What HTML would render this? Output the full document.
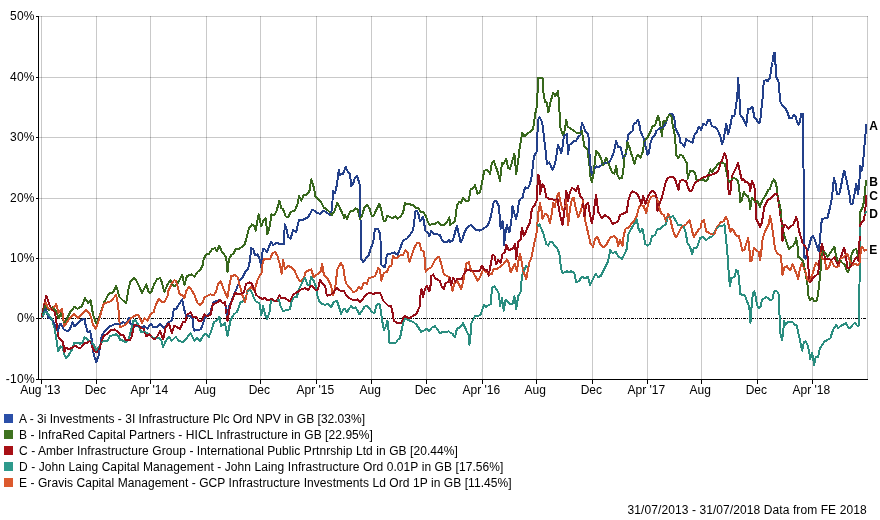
<!DOCTYPE html>
<html lang="en">
<head>
<meta charset="utf-8">
<title>Performance chart</title>
<style>
html,body{margin:0;padding:0;background:#fff;}
body{width:880px;height:520px;position:relative;overflow:hidden;font-family:"Liberation Sans",Arial,sans-serif;font-size:12px;color:#000;}
.a{stroke:#23408a}.b{stroke:#38681d}.c{stroke:#950d17}.d{stroke:#2a8d7f}.e{stroke:#ce502b}
.sq{position:absolute;left:4px;width:9px;height:9px;}
.lt{position:absolute;left:19px;height:14px;line-height:14px;white-space:nowrap;letter-spacing:0.06px;}
.ft{position:absolute;left:627.5px;top:503px;height:14px;line-height:14px;white-space:nowrap;letter-spacing:0.09px;}
</style>
</head>
<body>
<svg width="880" height="520" viewBox="0 0 880 520" style="position:absolute;left:0;top:0">
<g shape-rendering="crispEdges" fill="none">
<line x1="39" x2="868" y1="16.5" y2="16.5" stroke="#000" stroke-opacity="0.21"/>
<line x1="39" x2="868" y1="77.5" y2="77.5" stroke="#000" stroke-opacity="0.21"/>
<line x1="39" x2="868" y1="137.5" y2="137.5" stroke="#000" stroke-opacity="0.21"/>
<line x1="39" x2="868" y1="198.5" y2="198.5" stroke="#000" stroke-opacity="0.21"/>
<line x1="39" x2="868" y1="258.5" y2="258.5" stroke="#000" stroke-opacity="0.21"/>
<line x1="41.5" x2="41.5" y1="16" y2="379" stroke="#000" stroke-opacity="0.21"/>
<line x1="96.5" x2="96.5" y1="16" y2="379" stroke="#000" stroke-opacity="0.21"/>
<line x1="150.5" x2="150.5" y1="16" y2="379" stroke="#000" stroke-opacity="0.21"/>
<line x1="206.5" x2="206.5" y1="16" y2="379" stroke="#000" stroke-opacity="0.21"/>
<line x1="260.5" x2="260.5" y1="16" y2="379" stroke="#000" stroke-opacity="0.21"/>
<line x1="316.5" x2="316.5" y1="16" y2="379" stroke="#000" stroke-opacity="0.21"/>
<line x1="371.5" x2="371.5" y1="16" y2="379" stroke="#000" stroke-opacity="0.21"/>
<line x1="426.5" x2="426.5" y1="16" y2="379" stroke="#000" stroke-opacity="0.21"/>
<line x1="482.5" x2="482.5" y1="16" y2="379" stroke="#000" stroke-opacity="0.21"/>
<line x1="536.5" x2="536.5" y1="16" y2="379" stroke="#000" stroke-opacity="0.21"/>
<line x1="592.5" x2="592.5" y1="16" y2="379" stroke="#000" stroke-opacity="0.21"/>
<line x1="647.5" x2="647.5" y1="16" y2="379" stroke="#000" stroke-opacity="0.21"/>
<line x1="701.5" x2="701.5" y1="16" y2="379" stroke="#000" stroke-opacity="0.21"/>
<line x1="757.5" x2="757.5" y1="16" y2="379" stroke="#000" stroke-opacity="0.21"/>
<line x1="812.5" x2="812.5" y1="16" y2="379" stroke="#000" stroke-opacity="0.21"/>
<line x1="867.5" x2="867.5" y1="16" y2="379" stroke="#000" stroke-opacity="0.21"/>
<line x1="39" x2="867" y1="318.5" y2="318.5" stroke="#000" stroke-dasharray="3 1 1 1 1 1"/>
<line x1="38.5" x2="38.5" y1="16" y2="380" stroke="#000"/>
<line x1="38" x2="868" y1="379.5" y2="379.5" stroke="#000"/>
<line x1="36" x2="39" y1="16.5" y2="16.5" stroke="#000"/>
<line x1="36" x2="39" y1="77.5" y2="77.5" stroke="#000"/>
<line x1="36" x2="39" y1="137.5" y2="137.5" stroke="#000"/>
<line x1="36" x2="39" y1="198.5" y2="198.5" stroke="#000"/>
<line x1="36" x2="39" y1="258.5" y2="258.5" stroke="#000"/>
<line x1="36" x2="39" y1="318.5" y2="318.5" stroke="#000"/>
<line x1="36" x2="39" y1="379.5" y2="379.5" stroke="#000"/>
<line x1="41.5" x2="41.5" y1="379" y2="384" stroke="#000"/>
<line x1="96.5" x2="96.5" y1="379" y2="384" stroke="#000"/>
<line x1="150.5" x2="150.5" y1="379" y2="384" stroke="#000"/>
<line x1="206.5" x2="206.5" y1="379" y2="384" stroke="#000"/>
<line x1="260.5" x2="260.5" y1="379" y2="384" stroke="#000"/>
<line x1="316.5" x2="316.5" y1="379" y2="384" stroke="#000"/>
<line x1="371.5" x2="371.5" y1="379" y2="384" stroke="#000"/>
<line x1="426.5" x2="426.5" y1="379" y2="384" stroke="#000"/>
<line x1="482.5" x2="482.5" y1="379" y2="384" stroke="#000"/>
<line x1="536.5" x2="536.5" y1="379" y2="384" stroke="#000"/>
<line x1="592.5" x2="592.5" y1="379" y2="384" stroke="#000"/>
<line x1="647.5" x2="647.5" y1="379" y2="384" stroke="#000"/>
<line x1="701.5" x2="701.5" y1="379" y2="384" stroke="#000"/>
<line x1="757.5" x2="757.5" y1="379" y2="384" stroke="#000"/>
<line x1="812.5" x2="812.5" y1="379" y2="384" stroke="#000"/>
</g>
<g fill="none" stroke-width="2" stroke-linejoin="round" stroke-linecap="round" shape-rendering="crispEdges">
<path class="a" d="M41.5 318.1L42 317"/>
<path class="b" d="M41.5 318.1L42 316.5"/>
<path class="d" d="M41.5 318.1L42 317.3"/>
<path class="e" d="M41.5 318.1L42 315.7"/>
<path class="c" d="M41.5 318.1L42 315.8"/>
<path class="a" d="M42 317L43 314.7"/>
<path class="b" d="M42 316.5L43 313.3"/>
<path class="d" d="M42 317.3L43 315.6"/>
<path class="e" d="M42 315.7L43 310.9"/>
<path class="c" d="M42 315.8L43 311"/>
<path class="a" d="M43 314.7L44 312.4"/>
<path class="b" d="M43 313.3L44 310.2"/>
<path class="d" d="M43 315.6L44 314"/>
<path class="e" d="M43 310.9L44 306.1"/>
<path class="c" d="M43 311L44 306.3"/>
<path class="a" d="M44 312.4L45 310.2"/>
<path class="b" d="M44 310.2L45 307"/>
<path class="d" d="M44 314L45 312.3"/>
<path class="e" d="M44 306.1L45 301.2"/>
<path class="c" d="M44 306.3L45 301.5"/>
<path class="a" d="M45 310.2L45.6 308.8L46 310"/>
<path class="b" d="M45 307L45.6 305L46 305.6"/>
<path class="d" d="M45 312.3L45.6 311.2L46 311.7"/>
<path class="e" d="M45 301.2L46 303.5"/>
<path class="c" d="M45 301.5L46 296.8"/>
<path class="a" d="M46 310L47 313.2"/>
<path class="b" d="M46 305.6L47 307.2"/>
<path class="d" d="M46 311.7L47 312.9"/>
<path class="e" d="M46 303.5L47 305.7"/>
<path class="c" d="M46 296.8L46.2 295.6L47 297.7"/>
<path class="a" d="M47 313.2L48 316.5"/>
<path class="b" d="M47 307.2L48 308.8"/>
<path class="d" d="M47 312.9L48 314.1"/>
<path class="e" d="M47 305.7L48 307.9"/>
<path class="c" d="M47 297.7L48 300.6"/>
<path class="a" d="M48 316.5L48.5 318.1L49 318.2"/>
<path class="b" d="M48 308.8L48.8 310L49 309.8"/>
<path class="d" d="M48 314.1L48.8 315L49 315.3"/>
<path class="e" d="M48 307.9L48.1 308.1L49 308.5"/>
<path class="c" d="M48 300.6L49 303.4"/>
<path class="a" d="M49 318.2L50 318.5"/>
<path class="b" d="M49 309.8L50 309.2"/>
<path class="d" d="M49 315.3L50 316.5"/>
<path class="e" d="M49 308.5L50 308.9"/>
<path class="c" d="M49 303.4L50 306.2"/>
<path class="a" d="M50 318.5L51 318.7"/>
<path class="b" d="M50 309.2L51 308.5"/>
<path class="d" d="M50 316.5L51 317.7"/>
<path class="e" d="M50 308.9L51 309.4"/>
<path class="c" d="M50 306.2L51 307.5"/>
<path class="a" d="M51 318.7L51.2 318.8L52 319.9"/>
<path class="b" d="M51 308.5L52 307.8"/>
<path class="d" d="M51 317.7L51.9 318.8L52 319.2"/>
<path class="e" d="M51 309.4L52 309.8"/>
<path class="c" d="M51 307.5L52 308.8"/>
<path class="a" d="M52 319.9L53 321.5"/>
<path class="b" d="M52 307.8L52.5 307.5L53 308"/>
<path class="d" d="M52 319.2L53 322.7"/>
<path class="e" d="M52 309.8L52.5 310L53 309.2"/>
<path class="c" d="M52 308.8L53 310"/>
<path class="a" d="M53 321.5L54 323.1"/>
<path class="b" d="M53 308L54 309"/>
<path class="d" d="M53 322.7L54 326.2"/>
<path class="e" d="M53 309.2L54 307.5"/>
<path class="c" d="M53 310L54 311.2"/>
<path class="a" d="M54 323.1L54.4 323.8L55 325.2"/>
<path class="b" d="M54 309L55 310"/>
<path class="d" d="M54 326.2L54.4 327.5L55 330.8"/>
<path class="e" d="M54 307.5L55 305.8"/>
<path class="c" d="M54 311.2L55 312.5"/>
<path class="a" d="M55 325.2L56 327.7"/>
<path class="b" d="M55 310L56 311"/>
<path class="d" d="M55 330.8L56 336.2"/>
<path class="e" d="M55 305.8L56 304.2"/>
<path class="c" d="M55 312.5L56 318.5"/>
<path class="a" d="M56 327.7L57 330.1"/>
<path class="b" d="M56 311L56.2 311.2L57 313.3"/>
<path class="d" d="M56 336.2L56.2 337.5L57 343"/>
<path class="e" d="M56 304.2L56.2 303.8L57 306.9"/>
<path class="c" d="M56 318.5L56.2 320L57 326.8"/>
<path class="a" d="M57 330.1L57.8 331.9L58 330.8"/>
<path class="b" d="M57 313.3L58 316.1"/>
<path class="d" d="M57 343L58 350.4"/>
<path class="e" d="M57 306.9L58 311"/>
<path class="c" d="M57 326.8L57.5 331.2L58 334"/>
<path class="a" d="M58 330.8L59 326.6"/>
<path class="b" d="M58 316.1L58.8 318.1L59 317.6"/>
<path class="d" d="M58 350.4L58.1 351.2L59 349.5"/>
<path class="e" d="M58 311L58.5 313.1L59 312.5"/>
<path class="c" d="M58 334L58.8 338.1L59 338.4"/>
<path class="a" d="M59 326.6L59.4 325L60 324.4"/>
<path class="b" d="M59 317.6L60 315.3"/>
<path class="d" d="M59 349.5L60 347.5"/>
<path class="e" d="M59 312.5L60 311.2"/>
<path class="c" d="M59 338.4L60 339.4"/>
<path class="a" d="M60 324.4L60.6 323.8L61 324.4"/>
<path class="b" d="M60 315.3L61 313.1"/>
<path class="d" d="M60 347.5L60.6 346.2L61 346.4"/>
<path class="e" d="M60 311.2L61 309.9"/>
<path class="c" d="M60 339.4L61 340.4"/>
<path class="a" d="M61 324.4L62 326.2"/>
<path class="b" d="M61 313.1L61.2 312.5L62 315.2"/>
<path class="d" d="M61 346.4L62 346.7"/>
<path class="e" d="M61 309.9L61.9 308.8L62 309.6"/>
<path class="c" d="M61 340.4L62 341.4"/>
<path class="a" d="M62 326.2L63 328"/>
<path class="b" d="M62 315.2L63 318.8"/>
<path class="d" d="M62 346.7L62.5 346.9L63 349"/>
<path class="e" d="M62 309.6L63 316.6"/>
<path class="c" d="M62 341.4L63 342.4"/>
<path class="a" d="M63 328L63.8 329.4L64 329.5"/>
<path class="b" d="M63 318.8L64 322.4"/>
<path class="d" d="M63 349L64 353.4"/>
<path class="e" d="M63 316.6L64 323.6"/>
<path class="c" d="M63 342.4L63.1 342.5L64 349.1"/>
<path class="a" d="M64 329.5L65 330"/>
<path class="b" d="M64 322.4L64.4 323.8L65 322.5"/>
<path class="d" d="M64 353.4L64.4 355L65 356"/>
<path class="e" d="M64 323.6L64.4 326.2L65 325.3"/>
<path class="c" d="M64 349.1L64.4 351.9L65 350.4"/>
<path class="a" d="M65 330L66 330.5"/>
<path class="b" d="M65 322.5L66 320.5"/>
<path class="d" d="M65 356L66 357.7"/>
<path class="e" d="M65 325.3L66 323.7"/>
<path class="c" d="M65 350.4L66 348.1"/>
<path class="a" d="M66 330.5L67 331"/>
<path class="b" d="M66 320.5L67 318.5"/>
<path class="d" d="M66 357.7L66.2 358.1L67 357.2"/>
<path class="e" d="M66 323.7L67 322.1"/>
<path class="c" d="M66 348.1L66.2 347.5L67 348.1"/>
<path class="a" d="M67 331L67.5 331.2L68 330.8"/>
<path class="b" d="M67 318.5L68 316.5"/>
<path class="d" d="M67 357.2L68 355.9"/>
<path class="e" d="M67 322.1L68 320.6"/>
<path class="c" d="M67 348.1L68 348.8"/>
<path class="a" d="M68 330.8L69 329.8"/>
<path class="b" d="M68 316.5L69 314.5"/>
<path class="d" d="M68 355.9L68.8 355L69 354.6"/>
<path class="e" d="M68 320.6L68.8 319.4L69 319.1"/>
<path class="c" d="M68 348.8L68.8 349.4L69 349.3"/>
<path class="a" d="M69 329.8L70 328.8"/>
<path class="b" d="M69 314.5L70 312.5"/>
<path class="d" d="M69 354.6L70 353"/>
<path class="e" d="M69 319.1L70 318"/>
<path class="c" d="M69 349.3L70 348.8"/>
<path class="a" d="M70 328.8L71 326.2"/>
<path class="b" d="M70 312.5L71 311.2"/>
<path class="d" d="M70 353L71 351.4"/>
<path class="e" d="M70 318L71 316.8"/>
<path class="c" d="M70 348.8L71 348.3"/>
<path class="a" d="M71 326.2L72 323.8"/>
<path class="b" d="M71 311.2L72 309.9"/>
<path class="d" d="M71 351.4L71.9 350L72 349.6"/>
<path class="e" d="M71 316.8L72 315.7"/>
<path class="c" d="M71 348.3L72 347.8"/>
<path class="a" d="M72 323.8L72.5 322.5L73 323.5"/>
<path class="b" d="M72 309.9L73 308.7"/>
<path class="d" d="M72 349.6L73 346.6"/>
<path class="e" d="M72 315.7L73 314.6"/>
<path class="c" d="M72 347.8L72.5 347.5L73 347.2"/>
<path class="a" d="M73 323.5L74 325.5"/>
<path class="b" d="M73 308.7L74 307.4"/>
<path class="d" d="M73 346.6L74 343.6"/>
<path class="e" d="M73 314.6L73.8 313.8L74 314"/>
<path class="c" d="M73 347.2L74 346.6"/>
<path class="a" d="M74 325.5L74.4 326.2L75 325.6"/>
<path class="b" d="M74 307.4L74.4 306.9L75 307.3"/>
<path class="d" d="M74 343.6L74.4 342.5L75 342.5"/>
<path class="e" d="M74 314L75 315"/>
<path class="c" d="M74 346.6L75 346"/>
<path class="a" d="M75 325.6L76 324.6"/>
<path class="b" d="M75 307.3L76 307.9"/>
<path class="d" d="M75 342.5L76 342.5"/>
<path class="e" d="M75 315L76 316"/>
<path class="c" d="M75 346L75.6 345.6L76 345.9"/>
<path class="a" d="M76 324.6L76.9 323.8L77 323.6"/>
<path class="b" d="M76 307.9L77 308.5"/>
<path class="d" d="M76 342.5L77 342.5"/>
<path class="e" d="M76 316L77 317"/>
<path class="c" d="M76 345.9L77 346.7"/>
<path class="a" d="M77 323.6L78 322.8"/>
<path class="b" d="M77 308.5L77.5 308.8L78 308.5"/>
<path class="d" d="M77 342.5L77.5 342.5L78 342.8"/>
<path class="e" d="M77 317L78 318"/>
<path class="c" d="M77 346.7L78 347.4"/>
<path class="a" d="M78 322.8L79 321.9"/>
<path class="b" d="M78 308.5L79 307.9"/>
<path class="d" d="M78 342.8L79 343.2"/>
<path class="e" d="M78 318L78.1 318.1L79 317.2"/>
<path class="c" d="M78 347.4L78.1 347.5L79 347.5"/>
<path class="a" d="M79 321.9L80 321.1"/>
<path class="b" d="M79 307.9L80 307.3"/>
<path class="d" d="M79 343.2L80 343.8"/>
<path class="e" d="M79 317.2L80 316.2"/>
<path class="c" d="M79 347.5L80 347.5"/>
<path class="a" d="M80 321.1L81 320.2"/>
<path class="b" d="M80 307.3L81 306.8"/>
<path class="d" d="M80 343.8L81 343.2"/>
<path class="e" d="M80 316.2L81 315.2"/>
<path class="c" d="M80 347.5L81 347.5"/>
<path class="a" d="M81 320.2L81.2 320L82 319.7"/>
<path class="b" d="M81 306.8L81.9 306.2L82 305.9"/>
<path class="d" d="M81 343.2L82 342.8"/>
<path class="e" d="M81 315.2L82 314.2"/>
<path class="c" d="M81 347.5L81.2 347.5L82 346.4"/>
<path class="a" d="M82 319.7L83 319.3"/>
<path class="b" d="M82 305.9L83 303.3"/>
<path class="d" d="M82 342.8L82.5 342.5L83 341.2"/>
<path class="e" d="M82 314.2L83 313.2"/>
<path class="c" d="M82 346.4L83 344.9"/>
<path class="a" d="M83 319.3L84 318.9"/>
<path class="b" d="M83 303.3L84 300.7"/>
<path class="d" d="M83 341.2L84 338.5"/>
<path class="e" d="M83 313.2L84 312.2"/>
<path class="c" d="M83 344.9L83.8 343.8L84 343.7"/>
<path class="a" d="M84 318.9L84.4 318.8L85 321.9"/>
<path class="b" d="M84 300.7L85 298.1"/>
<path class="d" d="M84 338.5L84.4 337.5L85 337.8"/>
<path class="e" d="M84 312.2L85 311.2"/>
<path class="c" d="M84 343.7L85 343.3"/>
<path class="a" d="M85 321.9L85.6 325L86 326.4"/>
<path class="b" d="M85 298.1L86 299.7"/>
<path class="d" d="M85 337.8L86 338.3"/>
<path class="e" d="M85 311.2L86 310.2"/>
<path class="c" d="M85 343.3L86 343"/>
<path class="a" d="M86 326.4L87 330.1"/>
<path class="b" d="M86 299.7L87 301.3"/>
<path class="d" d="M86 338.3L86.9 338.8L87 338.9"/>
<path class="e" d="M86 310.2L86.2 310L87 310.8"/>
<path class="c" d="M86 343L87 342.7"/>
<path class="a" d="M87 330.1L87.5 331.9L88 331.8"/>
<path class="b" d="M87 301.3L88 302.9"/>
<path class="d" d="M87 338.9L88 340.2"/>
<path class="e" d="M87 310.8L88 311.8"/>
<path class="c" d="M87 342.7L87.5 342.5L88 342.2"/>
<path class="a" d="M88 331.8L89 331.5"/>
<path class="b" d="M88 302.9L88.1 303.1L89 302"/>
<path class="d" d="M88 340.2L88.8 341.2L89 341.2"/>
<path class="e" d="M88 311.8L89 312.8"/>
<path class="c" d="M88 342.2L89 341.6"/>
<path class="a" d="M89 331.5L90 331.2"/>
<path class="b" d="M89 302L90 300.8"/>
<path class="d" d="M89 341.2L90 341.2"/>
<path class="e" d="M89 312.8L90 313.8"/>
<path class="c" d="M89 341.6L90 341"/>
<path class="a" d="M90 331.2L91 335.2"/>
<path class="b" d="M90 300.8L90.6 300L91 302.3"/>
<path class="d" d="M90 341.2L91 341.2"/>
<path class="e" d="M90 313.8L91 317.4"/>
<path class="c" d="M90 341L90.6 340.6L91 342"/>
<path class="a" d="M91 335.2L91.2 336.2L92 341.9"/>
<path class="b" d="M91 302.3L92 308.3"/>
<path class="d" d="M91 341.2L91.2 341.2L92 342.4"/>
<path class="e" d="M91 317.4L92 321"/>
<path class="c" d="M91 342L92 345.7"/>
<path class="a" d="M92 341.9L93 349.4"/>
<path class="b" d="M92 308.3L93 314.3"/>
<path class="d" d="M92 342.4L93 343.9"/>
<path class="e" d="M92 321L93 324.6"/>
<path class="c" d="M92 345.7L92.5 347.5L93 348.5"/>
<path class="a" d="M93 349.4L93.8 355L94 355.8"/>
<path class="b" d="M93 314.3L93.1 315L94 317.3"/>
<path class="d" d="M93 343.9L93.8 345L94 345.5"/>
<path class="e" d="M93 324.6L93.1 325L94 326.3"/>
<path class="c" d="M93 348.5L94 350.5"/>
<path class="a" d="M94 355.8L95 358.8"/>
<path class="b" d="M94 317.3L95 320"/>
<path class="d" d="M94 345.5L95 347.5"/>
<path class="e" d="M94 326.3L95 327.8"/>
<path class="c" d="M94 350.5L94.4 351.2L95 351.6"/>
<path class="a" d="M95 358.8L96 361.8"/>
<path class="b" d="M95 320L96 322.7"/>
<path class="d" d="M95 347.5L96 349.5"/>
<path class="e" d="M95 327.8L95.6 328.8L96 327.8"/>
<path class="c" d="M95 351.6L96 352.1"/>
<path class="a" d="M96 361.8L96.2 362.5L97 360.2"/>
<path class="b" d="M96 322.7L96.9 325L97 324.6"/>
<path class="d" d="M96 349.5L96.2 350L97 349.2"/>
<path class="e" d="M96 327.8L97 325.3"/>
<path class="c" d="M96 352.1L96.9 352.5L97 352.3"/>
<path class="a" d="M97 360.2L98 357.2"/>
<path class="b" d="M97 324.6L98 321.3"/>
<path class="d" d="M97 349.2L98 348.2"/>
<path class="e" d="M97 325.3L98 322.8"/>
<path class="c" d="M97 352.3L98 350.8"/>
<path class="a" d="M98 357.2L98.8 355L99 353.4"/>
<path class="b" d="M98 321.3L99 317.9"/>
<path class="d" d="M98 348.2L98.8 347.5L99 347"/>
<path class="e" d="M98 322.8L98.1 322.5L99 319.6"/>
<path class="c" d="M98 350.8L99 349.3"/>
<path class="a" d="M99 353.4L100 347"/>
<path class="b" d="M99 317.9L100 314.6"/>
<path class="d" d="M99 347L100 345"/>
<path class="e" d="M99 319.6L100 316.2"/>
<path class="c" d="M99 349.3L99.4 348.8L100 346.9"/>
<path class="a" d="M100 347L101 340.6"/>
<path class="b" d="M100 314.6L100.6 312.5L101 311.4"/>
<path class="d" d="M100 345L101 343"/>
<path class="e" d="M100 316.2L101 312.9"/>
<path class="c" d="M100 346.9L101 343.9"/>
<path class="a" d="M101 340.6L101.9 335L102 334.9"/>
<path class="b" d="M101 311.4L102 308.4"/>
<path class="d" d="M101 343L101.2 342.5L102 342.1"/>
<path class="e" d="M101 312.9L102 309.6"/>
<path class="c" d="M101 343.9L101.9 341.2L102 340.9"/>
<path class="a" d="M102 334.9L103 333.7"/>
<path class="b" d="M102 308.4L103 305.4"/>
<path class="d" d="M102 342.1L103 341.6"/>
<path class="e" d="M102 309.6L103 306.2"/>
<path class="c" d="M102 340.9L103 337.9"/>
<path class="a" d="M103 333.7L104 332.5"/>
<path class="b" d="M103 305.4L103.8 303.1L104 302.7"/>
<path class="d" d="M103 341.6L103.8 341.2L104 341.2"/>
<path class="e" d="M103 306.2L103.8 303.8L104 303.7"/>
<path class="c" d="M103 337.9L103.8 335.6L104 335.5"/>
<path class="a" d="M104 332.5L105 331.2"/>
<path class="b" d="M104 302.7L105 300.8"/>
<path class="d" d="M104 341.2L105 341.2"/>
<path class="e" d="M104 303.7L105 303.3"/>
<path class="c" d="M104 335.5L105 335"/>
<path class="a" d="M105 331.2L106 330.2"/>
<path class="b" d="M105 300.8L106 298.9"/>
<path class="d" d="M105 341.2L106 341.2"/>
<path class="e" d="M105 303.3L106 302.9"/>
<path class="c" d="M105 335L106 334.5"/>
<path class="a" d="M106 330.2L107 329.2"/>
<path class="b" d="M106 298.9L107 297"/>
<path class="d" d="M106 341.2L107 341.2"/>
<path class="e" d="M106 302.9L107 302.6"/>
<path class="c" d="M106 334.5L107 334"/>
<path class="a" d="M107 329.2L108 328.2"/>
<path class="b" d="M107 297L108 295.2"/>
<path class="d" d="M107 341.2L107.5 341.2L108 340.2"/>
<path class="e" d="M107 302.6L108 302.2"/>
<path class="c" d="M107 334L107.5 333.8L108 333.2"/>
<path class="a" d="M108 328.2L109 327.2"/>
<path class="b" d="M108 295.2L108.8 293.8L109 293.7"/>
<path class="d" d="M108 340.2L109 338.2"/>
<path class="e" d="M108 302.2L109 301.8"/>
<path class="c" d="M108 333.2L109 332.2"/>
<path class="a" d="M109 327.2L110 326.2"/>
<path class="b" d="M109 293.7L110 293.4"/>
<path class="d" d="M109 338.2L110 336.2"/>
<path class="e" d="M109 301.8L110 301.5"/>
<path class="c" d="M109 332.2L110 331.2"/>
<path class="a" d="M110 326.2L111 325.9"/>
<path class="b" d="M110 293.4L111 293.1"/>
<path class="d" d="M110 336.2L111 335.8"/>
<path class="e" d="M110 301.5L110.6 301.2L111 300.8"/>
<path class="c" d="M110 331.2L111 330.2"/>
<path class="a" d="M111 325.9L112 325.4"/>
<path class="b" d="M111 293.1L112 292.8"/>
<path class="d" d="M111 335.8L112 335.4"/>
<path class="e" d="M111 300.8L112 299.7"/>
<path class="c" d="M111 330.2L111.2 330L112 329.9"/>
<path class="a" d="M112 325.4L113 325.1"/>
<path class="b" d="M112 292.8L113 292.5"/>
<path class="d" d="M112 335.4L113 335"/>
<path class="e" d="M112 299.7L113 298.6"/>
<path class="c" d="M112 329.9L113 329.7"/>
<path class="a" d="M113 325.1L114 324.6"/>
<path class="b" d="M113 292.5L113.1 292.5L114 290.6"/>
<path class="d" d="M113 335L113.1 335L114 334.8"/>
<path class="e" d="M113 298.6L114 297.5"/>
<path class="c" d="M113 329.7L114 329.5"/>
<path class="a" d="M114 324.6L115 324.2"/>
<path class="b" d="M114 290.6L115 288.4"/>
<path class="d" d="M114 334.8L115 334.6"/>
<path class="e" d="M114 297.5L115 296.4"/>
<path class="c" d="M114 329.5L114.4 329.4L115 329.8"/>
<path class="a" d="M115 324.2L116 323.9"/>
<path class="b" d="M115 288.4L116 286.2"/>
<path class="d" d="M115 334.6L116 334.4"/>
<path class="e" d="M115 296.4L116 295.3"/>
<path class="c" d="M115 329.8L116 330.4"/>
<path class="a" d="M116 323.9L116.2 323.8L117 323.9"/>
<path class="b" d="M116 286.2L116.2 285.6L117 288.3"/>
<path class="d" d="M116 334.4L116.2 334.4L117 334.9"/>
<path class="e" d="M116 295.3L116.2 295L117 299"/>
<path class="c" d="M116 330.4L117 331"/>
<path class="a" d="M117 323.9L118 324"/>
<path class="b" d="M117 288.3L118 291.9"/>
<path class="d" d="M117 334.9L118 335.7"/>
<path class="e" d="M117 299L118 304.4"/>
<path class="c" d="M117 331L117.5 331.2L118 331.9"/>
<path class="a" d="M118 324L119 324.2"/>
<path class="b" d="M118 291.9L119 295.5"/>
<path class="d" d="M118 335.7L118.8 336.2L119 337"/>
<path class="e" d="M118 304.4L118.1 305L119 315.5"/>
<path class="c" d="M118 331.9L119 333.1"/>
<path class="a" d="M119 324.2L120 324.4"/>
<path class="b" d="M119 295.5L119.4 296.9L120 297.5"/>
<path class="d" d="M119 337L120 340"/>
<path class="e" d="M119 315.5L120 327.5"/>
<path class="c" d="M119 333.1L120 334.4"/>
<path class="a" d="M120 324.4L121 323.6"/>
<path class="b" d="M120 297.5L121 298.5"/>
<path class="d" d="M120 340L121 340.2"/>
<path class="e" d="M120 327.5L121 327"/>
<path class="c" d="M120 334.4L121 334.6"/>
<path class="a" d="M121 323.6L122 322.8"/>
<path class="b" d="M121 298.5L122 299.5"/>
<path class="d" d="M121 340.2L122 340.4"/>
<path class="e" d="M121 327L122 326.5"/>
<path class="c" d="M121 334.6L122 334.8"/>
<path class="a" d="M122 322.8L123 322"/>
<path class="b" d="M122 299.5L122.5 300L123 300.4"/>
<path class="d" d="M122 340.4L123 340.6"/>
<path class="e" d="M122 326.5L123 326"/>
<path class="c" d="M122 334.8L123 335"/>
<path class="a" d="M123 322L123.1 321.9L124 322.4"/>
<path class="b" d="M123 300.4L124 301.2"/>
<path class="d" d="M123 340.6L123.1 340.6L124 341.1"/>
<path class="e" d="M123 326L124 325.5"/>
<path class="c" d="M123 335L123.1 335L124 336.6"/>
<path class="a" d="M124 322.4L125 323"/>
<path class="b" d="M124 301.2L125 302.1"/>
<path class="d" d="M124 341.1L125 341.7"/>
<path class="e" d="M124 325.5L125 325"/>
<path class="c" d="M124 336.6L125 338.4"/>
<path class="a" d="M125 323L126 323.6"/>
<path class="b" d="M125 302.1L126 302.9"/>
<path class="d" d="M125 341.7L126 342.3"/>
<path class="e" d="M125 325L126 323.9"/>
<path class="c" d="M125 338.4L126 340.2"/>
<path class="a" d="M126 323.6L126.2 323.8L127 322.1"/>
<path class="b" d="M126 302.9L126.2 303.1L127 298.4"/>
<path class="d" d="M126 342.3L126.2 342.5L127 341.4"/>
<path class="e" d="M126 323.9L127 322.8"/>
<path class="c" d="M126 340.2L126.2 340.6L127 340.5"/>
<path class="a" d="M127 322.1L128 319.8"/>
<path class="b" d="M127 298.4L128 292.2"/>
<path class="d" d="M127 341.4L128 339.9"/>
<path class="e" d="M127 322.8L128 321.7"/>
<path class="c" d="M127 340.5L128 340.3"/>
<path class="a" d="M128 319.8L128.8 318.1L129 318.9"/>
<path class="b" d="M128 292.2L128.8 287.5L129 286.7"/>
<path class="d" d="M128 339.9L128.8 338.8L129 337.9"/>
<path class="e" d="M128 321.7L129 320.6"/>
<path class="c" d="M128 340.3L129 340.2"/>
<path class="a" d="M129 318.9L130 321.9"/>
<path class="b" d="M129 286.7L130 283.3"/>
<path class="d" d="M129 337.9L130 334.4"/>
<path class="e" d="M129 320.6L130 319.5"/>
<path class="c" d="M129 340.2L130 340"/>
<path class="a" d="M130 321.9L130.6 323.8L131 323.9"/>
<path class="b" d="M130 283.3L130.6 281.2L131 280.9"/>
<path class="d" d="M130 334.4L131 330.9"/>
<path class="e" d="M130 319.5L131 318.4"/>
<path class="c" d="M130 340L131 338"/>
<path class="a" d="M131 323.9L132 324.3"/>
<path class="b" d="M131 280.9L132 279.9"/>
<path class="d" d="M131 330.9L131.2 330L132 326.5"/>
<path class="e" d="M131 318.4L131.2 318.1L132 317.6"/>
<path class="c" d="M131 338L131.9 336.2L132 335.5"/>
<path class="a" d="M132 324.3L133 324.6"/>
<path class="b" d="M132 279.9L133 278.9"/>
<path class="d" d="M132 326.5L133 321.8"/>
<path class="e" d="M132 317.6L133 317"/>
<path class="c" d="M132 335.5L133 329.5"/>
<path class="a" d="M133 324.6L134 325"/>
<path class="b" d="M133 278.9L133.8 278.1L134 278.2"/>
<path class="d" d="M133 321.8L133.1 321.2L134 320.7"/>
<path class="e" d="M133 317L134 316.3"/>
<path class="c" d="M133 329.5L133.1 328.8L134 326.6"/>
<path class="a" d="M134 325L135 325.4"/>
<path class="b" d="M134 278.2L135 278.8"/>
<path class="d" d="M134 320.7L135 320"/>
<path class="e" d="M134 316.3L135 315.6"/>
<path class="c" d="M134 326.6L134.4 325.6L135 325"/>
<path class="a" d="M135 325.4L136 325.8"/>
<path class="b" d="M135 278.8L136 280.4"/>
<path class="d" d="M135 320L136 321.4"/>
<path class="e" d="M135 315.6L136 315.4"/>
<path class="c" d="M135 325L136 325.2"/>
<path class="a" d="M136 325.8L137 326.1"/>
<path class="b" d="M136 280.4L137 282"/>
<path class="d" d="M136 321.4L137 322.8"/>
<path class="e" d="M136 315.4L137 315.2"/>
<path class="c" d="M136 325.2L137 325.4"/>
<path class="a" d="M137 326.1L138 326.5"/>
<path class="b" d="M137 282L138 283.6"/>
<path class="d" d="M137 322.8L138 324.2"/>
<path class="e" d="M137 315.2L138 315"/>
<path class="c" d="M137 325.4L138 325.6"/>
<path class="a" d="M138 326.5L139 326.9"/>
<path class="b" d="M138 283.6L138.1 283.8L139 285.9"/>
<path class="d" d="M138 324.2L138.1 324.4L139 326.7"/>
<path class="e" d="M138 315L138.1 315L139 316.5"/>
<path class="c" d="M138 325.6L138.1 325.6L139 326.3"/>
<path class="a" d="M139 326.9L140 327.3"/>
<path class="b" d="M139 285.9L140 288.4"/>
<path class="d" d="M139 326.7L140 329.3"/>
<path class="e" d="M139 316.5L140 318.1"/>
<path class="c" d="M139 326.3L140 327"/>
<path class="a" d="M140 327.3L140.6 327.5L141 327.4"/>
<path class="b" d="M140 288.4L141 290.9"/>
<path class="d" d="M140 329.3L141 331.9"/>
<path class="e" d="M140 318.1L141 320.8"/>
<path class="c" d="M140 327L140.6 327.5L141 327.7"/>
<path class="a" d="M141 327.4L142 327"/>
<path class="b" d="M141 290.9L141.9 293.1L142 292.9"/>
<path class="d" d="M141 331.9L141.2 332.5L142 332.2"/>
<path class="e" d="M141 320.8L141.9 323.1L142 322.9"/>
<path class="c" d="M141 327.7L142 328.1"/>
<path class="a" d="M142 327L143 326.7"/>
<path class="b" d="M142 292.9L143 290.9"/>
<path class="d" d="M142 332.2L143 331.8"/>
<path class="e" d="M142 322.9L143 320.9"/>
<path class="c" d="M142 328.1L143 328.5"/>
<path class="a" d="M143 326.7L144 326.4"/>
<path class="b" d="M143 290.9L144 288.9"/>
<path class="d" d="M143 331.8L144 331.4"/>
<path class="e" d="M143 320.9L144 318.9"/>
<path class="c" d="M143 328.5L143.8 328.8L144 329.5"/>
<path class="a" d="M144 326.4L144.4 326.2L145 326.7"/>
<path class="b" d="M144 288.9L145 286.9"/>
<path class="d" d="M144 331.4L144.4 331.2L145 331.7"/>
<path class="e" d="M144 318.9L144.4 318.1L145 318.6"/>
<path class="c" d="M144 329.5L145 332.5"/>
<path class="a" d="M145 326.7L146 327.5"/>
<path class="b" d="M145 286.9L146 284.9"/>
<path class="d" d="M145 331.7L146 332.5"/>
<path class="e" d="M145 318.6L146 319.4"/>
<path class="c" d="M145 332.5L146 335.5"/>
<path class="a" d="M146 327.5L147 328.3"/>
<path class="b" d="M146 284.9L146.2 284.4L147 286.8"/>
<path class="d" d="M146 332.5L147 333.3"/>
<path class="e" d="M146 319.4L147 320.2"/>
<path class="c" d="M146 335.5L146.2 336.2L147 335.8"/>
<path class="a" d="M147 328.3L147.5 328.8L148 327.9"/>
<path class="b" d="M147 286.8L148 290.1"/>
<path class="d" d="M147 333.3L147.5 333.8L148 334.1"/>
<path class="e" d="M147 320.2L147.5 320.6L148 319.6"/>
<path class="c" d="M147 335.8L148 335.2"/>
<path class="a" d="M148 327.9L149 326.3"/>
<path class="b" d="M148 290.1L148.8 292.5L149 292.5"/>
<path class="d" d="M148 334.1L149 334.8"/>
<path class="e" d="M148 319.6L149 317.6"/>
<path class="c" d="M148 335.2L149 334.6"/>
<path class="a" d="M149 326.3L150 324.7"/>
<path class="b" d="M149 292.5L150 292.5"/>
<path class="d" d="M149 334.8L150 335.4"/>
<path class="e" d="M149 317.6L150 315.6"/>
<path class="c" d="M149 334.6L149.4 334.4L150 335.1"/>
<path class="a" d="M150 324.7L150.6 323.8L151 324.2"/>
<path class="b" d="M150 292.5L151 292.5"/>
<path class="d" d="M150 335.4L151 336.1"/>
<path class="e" d="M150 315.6L150.6 314.4L151 314.1"/>
<path class="c" d="M150 335.1L151 336.3"/>
<path class="a" d="M151 324.2L152 325.4"/>
<path class="b" d="M151 292.5L151.2 292.5L152 290.2"/>
<path class="d" d="M151 336.1L151.2 336.2L152 336.8"/>
<path class="e" d="M151 314.1L152 313.3"/>
<path class="c" d="M151 336.3L152 337.5"/>
<path class="a" d="M152 325.4L153 326.6"/>
<path class="b" d="M152 290.2L153 287.2"/>
<path class="d" d="M152 336.8L153 337.4"/>
<path class="e" d="M152 313.3L153 312.5"/>
<path class="c" d="M152 337.5L152.5 338.1L153 338.4"/>
<path class="a" d="M153 326.6L153.8 327.5L154 327.5"/>
<path class="b" d="M153 287.2L153.8 285L154 284.6"/>
<path class="d" d="M153 337.4L154 338.1"/>
<path class="e" d="M153 312.5L153.8 311.9L154 311"/>
<path class="c" d="M153 338.4L154 338.9"/>
<path class="a" d="M154 327.5L155 327.3"/>
<path class="b" d="M154 284.6L155 282.8"/>
<path class="d" d="M154 338.1L155 338.8"/>
<path class="e" d="M154 311L155 307.7"/>
<path class="c" d="M154 338.9L155 339.4"/>
<path class="a" d="M155 327.3L156 327.1"/>
<path class="b" d="M155 282.8L156 281"/>
<path class="d" d="M155 338.8L156 338.4"/>
<path class="e" d="M155 307.7L155.6 305.6L156 304.8"/>
<path class="c" d="M155 339.4L156 338.1"/>
<path class="a" d="M156 327.1L156.9 326.9L157 326.8"/>
<path class="b" d="M156 281L156.9 279.4L157 279.3"/>
<path class="d" d="M156 338.4L157 338.1"/>
<path class="e" d="M156 304.8L157 302.6"/>
<path class="c" d="M156 338.1L157 336.9"/>
<path class="a" d="M157 326.8L158 325.8"/>
<path class="b" d="M157 279.3L158 278.9"/>
<path class="d" d="M157 338.1L158 337.8"/>
<path class="e" d="M157 302.6L158 300.4"/>
<path class="c" d="M157 336.9L157.5 336.2L158 335.1"/>
<path class="a" d="M158 325.8L159 324.8"/>
<path class="b" d="M158 278.9L159 278.5"/>
<path class="d" d="M158 337.8L158.8 337.5L159 337.8"/>
<path class="e" d="M158 300.4L158.8 298.8L159 299"/>
<path class="c" d="M158 335.1L159 332.9"/>
<path class="a" d="M159 324.8L160 323.8"/>
<path class="b" d="M159 278.5L160 278.1"/>
<path class="d" d="M159 337.8L160 338.8"/>
<path class="e" d="M159 299L160 300.2"/>
<path class="c" d="M159 332.9L160 330.6"/>
<path class="a" d="M160 323.8L161 324.7"/>
<path class="b" d="M160 278.1L161 280.4"/>
<path class="d" d="M160 338.8L161 339.8"/>
<path class="e" d="M160 300.2L161 301.4"/>
<path class="c" d="M160 330.6L161 333.4"/>
<path class="a" d="M161 324.7L162 325.7"/>
<path class="b" d="M161 280.4L161.9 282.5L162 283"/>
<path class="d" d="M161 339.8L161.2 340L162 342.8"/>
<path class="e" d="M161 301.4L161.9 302.5L162 302.5"/>
<path class="c" d="M161 333.4L162 336.2"/>
<path class="a" d="M162 325.7L163 326.7"/>
<path class="b" d="M162 283L163 286.7"/>
<path class="d" d="M162 342.8L163 346.4"/>
<path class="e" d="M162 302.5L163 302.1"/>
<path class="c" d="M162 336.2L163 339"/>
<path class="a" d="M163 326.7L164 327.7"/>
<path class="b" d="M163 286.7L164 290.5"/>
<path class="d" d="M163 346.4L163.1 346.9L164 344.9"/>
<path class="e" d="M163 302.1L164 301.7"/>
<path class="c" d="M163 339L163.1 339.4L164 335.2"/>
<path class="a" d="M164 327.7L164.4 328.1L165 327.2"/>
<path class="b" d="M164 290.5L164.4 291.9L165 290.4"/>
<path class="d" d="M164 344.9L165 342.6"/>
<path class="e" d="M164 301.7L165 301.2"/>
<path class="c" d="M164 335.2L165 330.4"/>
<path class="a" d="M165 327.2L166 325.7"/>
<path class="b" d="M165 290.4L166 288"/>
<path class="d" d="M165 342.6L165.6 341.2L166 340.7"/>
<path class="e" d="M165 301.2L166 299.2"/>
<path class="c" d="M165 330.4L165.6 327.5L166 327"/>
<path class="a" d="M166 325.7L167 324.2"/>
<path class="b" d="M166 288L167 285.6"/>
<path class="d" d="M166 340.7L167 339.3"/>
<path class="e" d="M166 299.2L167 297.2"/>
<path class="c" d="M166 327L167 325.6"/>
<path class="a" d="M167 324.2L168 322.7"/>
<path class="b" d="M167 285.6L167.5 284.4L168 283.7"/>
<path class="d" d="M167 339.3L168 337.9"/>
<path class="e" d="M167 297.2L167.5 296.2L168 292.2"/>
<path class="c" d="M167 325.6L168 324.2"/>
<path class="a" d="M168 322.7L168.1 322.5L169 322.1"/>
<path class="b" d="M168 283.7L169 282.3"/>
<path class="d" d="M168 337.9L168.8 336.9L169 337.2"/>
<path class="e" d="M168 292.2L168.1 291.2L169 289.5"/>
<path class="c" d="M168 324.2L168.8 323.1L169 323.9"/>
<path class="a" d="M169 322.1L170 321.6"/>
<path class="b" d="M169 282.3L170 280.9"/>
<path class="d" d="M169 337.2L170 338.4"/>
<path class="e" d="M169 289.5L170 287.5"/>
<path class="c" d="M169 323.9L170 327.1"/>
<path class="a" d="M170 321.6L171 321.1"/>
<path class="b" d="M170 280.9L170.6 280L171 281"/>
<path class="d" d="M170 338.4L171 339.6"/>
<path class="e" d="M170 287.5L170.6 286.2L171 285.5"/>
<path class="c" d="M170 327.1L171 330.3"/>
<path class="a" d="M171 321.1L171.9 320.6L172 319.9"/>
<path class="b" d="M171 281L172 283.7"/>
<path class="d" d="M171 339.6L171.9 340.6L172 340.5"/>
<path class="e" d="M171 285.5L172 283.5"/>
<path class="c" d="M171 330.3L171.9 333.1L172 332.8"/>
<path class="a" d="M172 319.9L173 313.9"/>
<path class="b" d="M172 283.7L172.5 285L173 285.2"/>
<path class="d" d="M172 340.5L173 339.5"/>
<path class="e" d="M172 283.5L172.5 282.5L173 281.8"/>
<path class="c" d="M172 332.8L173 329.8"/>
<path class="a" d="M173 313.9L173.8 309.4L174 309.3"/>
<path class="b" d="M173 285.2L174 285.8"/>
<path class="d" d="M173 339.5L174 338.5"/>
<path class="e" d="M173 281.8L174 280.5"/>
<path class="c" d="M173 329.8L174 326.8"/>
<path class="a" d="M174 309.3L175 309.1"/>
<path class="b" d="M174 285.8L175 286.2"/>
<path class="d" d="M174 338.5L175 337.5"/>
<path class="e" d="M174 280.5L174.4 280L175 280.4"/>
<path class="c" d="M174 326.8L174.4 325.6L175 326"/>
<path class="a" d="M175 309.1L176 308.8"/>
<path class="b" d="M175 286.2L176 285"/>
<path class="d" d="M175 337.5L175.6 336.9L176 337.3"/>
<path class="e" d="M175 280.4L176 281.1"/>
<path class="c" d="M175 326L176 326.6"/>
<path class="a" d="M176 308.8L176.2 308.8L177 307.6"/>
<path class="b" d="M176 285L177 283.8"/>
<path class="d" d="M176 337.3L177 338.5"/>
<path class="e" d="M176 281.1L176.2 281.2L177 284.3"/>
<path class="c" d="M176 326.6L177 327.2"/>
<path class="a" d="M177 307.6L178 306"/>
<path class="b" d="M177 283.8L178 282.6"/>
<path class="d" d="M177 338.5L178 339.7"/>
<path class="e" d="M177 284.3L178 288.3"/>
<path class="c" d="M177 327.2L177.5 327.5L178 327.8"/>
<path class="a" d="M178 306L179 304.4"/>
<path class="b" d="M178 282.6L178.1 282.5L179 280.9"/>
<path class="d" d="M178 339.7L178.8 340.6L179 340.7"/>
<path class="e" d="M178 288.3L178.1 288.8L179 292.2"/>
<path class="c" d="M178 327.8L179 328.2"/>
<path class="a" d="M179 304.4L179.4 303.8L180 302.8"/>
<path class="b" d="M179 280.9L180 279.1"/>
<path class="d" d="M179 340.7L180 341.2"/>
<path class="e" d="M179 292.2L179.4 293.8L180 294.1"/>
<path class="c" d="M179 328.2L180 328.8"/>
<path class="a" d="M180 302.8L181 301.3"/>
<path class="b" d="M180 279.1L181 277.3"/>
<path class="d" d="M180 341.2L181 341.6"/>
<path class="e" d="M180 294.1L181 294.7"/>
<path class="c" d="M180 328.8L181 326.5"/>
<path class="a" d="M181 301.3L182 299.8"/>
<path class="b" d="M181 277.3L182 275.5"/>
<path class="d" d="M181 341.6L182 342"/>
<path class="e" d="M181 294.7L182 295.3"/>
<path class="c" d="M181 326.5L182 324.3"/>
<path class="a" d="M182 299.8L182.2 299.4L183 303.1"/>
<path class="b" d="M182 275.5L182.2 275L183 278.5"/>
<path class="d" d="M182 342L183 342.4"/>
<path class="e" d="M182 295.3L182.5 295.6L183 296.3"/>
<path class="c" d="M182 324.3L183 322.1"/>
<path class="a" d="M183 303.1L184 308.1"/>
<path class="b" d="M183 278.5L184 283.2"/>
<path class="d" d="M183 342.4L183.1 342.5L184 341.4"/>
<path class="e" d="M183 296.3L184 297.6"/>
<path class="c" d="M183 322.1L183.1 321.9L184 322.2"/>
<path class="a" d="M184 308.1L184.4 310L185 312.3"/>
<path class="b" d="M184 283.2L184.4 285L185 282.8"/>
<path class="d" d="M184 341.4L185 340.2"/>
<path class="e" d="M184 297.6L184.4 298.1L185 295.8"/>
<path class="c" d="M184 322.2L185 322.5"/>
<path class="a" d="M185 312.3L186 316"/>
<path class="b" d="M185 282.8L186 279.3"/>
<path class="d" d="M185 340.2L186 339"/>
<path class="e" d="M185 295.8L186 292.2"/>
<path class="c" d="M185 322.5L186 319.3"/>
<path class="a" d="M186 316L186.2 316.9L187 316.6"/>
<path class="b" d="M186 279.3L186.9 276.2L187 276.2"/>
<path class="d" d="M186 339L186.2 338.8L187 337.8"/>
<path class="e" d="M186 292.2L186.2 291.2L187 289.9"/>
<path class="c" d="M186 319.3L187 316"/>
<path class="a" d="M187 316.6L188 316.3"/>
<path class="b" d="M187 276.2L188 275.7"/>
<path class="d" d="M187 337.8L188 336.5"/>
<path class="e" d="M187 289.9L188 288.2"/>
<path class="c" d="M187 316L187.5 314.4L188 314.1"/>
<path class="a" d="M188 316.3L189 316"/>
<path class="b" d="M188 275.7L189 275.2"/>
<path class="d" d="M188 336.5L189 335.2"/>
<path class="e" d="M188 288.2L188.8 286.9L189 287.1"/>
<path class="c" d="M188 314.1L189 313.5"/>
<path class="a" d="M189 316L190 315.6"/>
<path class="b" d="M189 275.2L189.4 275L190 274.8"/>
<path class="d" d="M189 335.2L190 333.9"/>
<path class="e" d="M189 287.1L190 288.1"/>
<path class="c" d="M189 313.5L190 312.9"/>
<path class="a" d="M190 315.6L191 316.6"/>
<path class="b" d="M190 274.8L191 274.6"/>
<path class="d" d="M190 333.9L190.6 333.1L191 333.9"/>
<path class="e" d="M190 288.1L191 289.1"/>
<path class="c" d="M190 312.9L190.6 312.5L191 313.2"/>
<path class="a" d="M191 316.6L192 317.6"/>
<path class="b" d="M191 274.6L191.9 274.4L192 274.5"/>
<path class="d" d="M191 333.9L192 335.9"/>
<path class="e" d="M191 289.1L191.2 289.4L192 290.7"/>
<path class="c" d="M191 313.2L192 314.9"/>
<path class="a" d="M192 317.6L192.5 318.1L193 323.1"/>
<path class="b" d="M192 274.5L193 275.5"/>
<path class="d" d="M192 335.9L193 337.9"/>
<path class="e" d="M192 290.7L193 292.5"/>
<path class="c" d="M192 314.9L193 316.7"/>
<path class="a" d="M193 323.1L193.8 330.6L194 330.6"/>
<path class="b" d="M193 275.5L194 276.5"/>
<path class="d" d="M193 337.9L194 339.9"/>
<path class="e" d="M193 292.5L194 294.3"/>
<path class="c" d="M193 316.7L193.1 316.9L194 316.9"/>
<path class="a" d="M194 330.6L195 330.4"/>
<path class="b" d="M194 276.5L194.4 276.9L195 275.9"/>
<path class="d" d="M194 339.9L194.4 340.6L195 340"/>
<path class="e" d="M194 294.3L194.4 295L195 296.6"/>
<path class="c" d="M194 316.9L195 316.9"/>
<path class="a" d="M195 330.4L196 330.2"/>
<path class="b" d="M195 275.9L196 274.3"/>
<path class="d" d="M195 340L196 339"/>
<path class="e" d="M195 296.6L196 299.2"/>
<path class="c" d="M195 316.9L196 316.9"/>
<path class="a" d="M196 330.2L196.9 330L197 330"/>
<path class="b" d="M196 274.3L197 272.7"/>
<path class="d" d="M196 339L196.9 338.1L197 338.2"/>
<path class="e" d="M196 299.2L197 301.8"/>
<path class="c" d="M196 316.9L196.2 316.9L197 318.2"/>
<path class="a" d="M197 330L198 329.8"/>
<path class="b" d="M197 272.7L197.5 271.9L198 271.6"/>
<path class="d" d="M197 338.2L198 339.2"/>
<path class="e" d="M197 301.8L197.5 303.1L198 303.5"/>
<path class="c" d="M197 318.2L198 319.9"/>
<path class="a" d="M198 329.8L199 329.6"/>
<path class="b" d="M198 271.6L199 271.1"/>
<path class="d" d="M198 339.2L199 340.2"/>
<path class="e" d="M198 303.5L199 304.2"/>
<path class="c" d="M198 319.9L198.8 321.2L199 321.2"/>
<path class="a" d="M199 329.6L200 329.5"/>
<path class="b" d="M199 271.1L200 270.6"/>
<path class="d" d="M199 340.2L200 341.2"/>
<path class="e" d="M199 304.2L200 305"/>
<path class="c" d="M199 321.2L200 321"/>
<path class="a" d="M200 329.5L200.6 329.4L201 328.5"/>
<path class="b" d="M200 270.6L201 268.6"/>
<path class="d" d="M200 341.2L201 339.6"/>
<path class="e" d="M200 305L201 304"/>
<path class="c" d="M200 321L201 320.8"/>
<path class="a" d="M201 328.5L202 326.2"/>
<path class="b" d="M201 268.6L202 266.6"/>
<path class="d" d="M201 339.6L202 338"/>
<path class="e" d="M201 304L202 303"/>
<path class="c" d="M201 320.8L201.9 320.6L202 320.3"/>
<path class="a" d="M202 326.2L202.5 325L203 323.5"/>
<path class="b" d="M202 266.6L202.5 265.6L203 262.9"/>
<path class="d" d="M202 338L203 336.4"/>
<path class="e" d="M202 303L202.5 302.5L203 301.2"/>
<path class="c" d="M202 320.3L203 317.8"/>
<path class="a" d="M203 323.5L204 320.5"/>
<path class="b" d="M203 262.9L203.8 258.8L204 258.3"/>
<path class="d" d="M203 336.4L203.1 336.2L204 335.4"/>
<path class="e" d="M203 301.2L204 298.5"/>
<path class="c" d="M203 317.8L204 315.3"/>
<path class="a" d="M204 320.5L204.4 319.4L205 318.4"/>
<path class="b" d="M204 258.3L205 256.6"/>
<path class="d" d="M204 335.4L205 334.4"/>
<path class="e" d="M204 298.5L204.4 297.5L205 297.1"/>
<path class="c" d="M204 315.3L204.4 314.4L205 314.8"/>
<path class="a" d="M205 318.4L206 316.9"/>
<path class="b" d="M205 256.6L206 254.8"/>
<path class="d" d="M205 334.4L205.6 333.8L206 334.1"/>
<path class="e" d="M205 297.1L206 296.5"/>
<path class="c" d="M205 314.8L206 315.4"/>
<path class="a" d="M206 316.9L206.9 315.6L207 315.5"/>
<path class="b" d="M206 254.8L206.2 254.4L207 254.4"/>
<path class="d" d="M206 334.1L207 335.1"/>
<path class="e" d="M206 296.5L207 295.9"/>
<path class="c" d="M206 315.4L207 316"/>
<path class="a" d="M207 315.5L208 314.9"/>
<path class="b" d="M207 254.4L208 254.4"/>
<path class="d" d="M207 335.1L208 336.1"/>
<path class="e" d="M207 295.9L207.5 295.6L208 295.4"/>
<path class="c" d="M207 316L207.5 316.2L208 316"/>
<path class="a" d="M208 314.9L209 314.3"/>
<path class="b" d="M208 254.4L208.8 254.4L209 254"/>
<path class="d" d="M208 336.1L208.8 336.9L209 336.3"/>
<path class="e" d="M208 295.4L209 295"/>
<path class="c" d="M208 316L209 315.4"/>
<path class="a" d="M209 314.3L210 313.8"/>
<path class="b" d="M209 254L210 252.4"/>
<path class="d" d="M209 336.3L210 334.1"/>
<path class="e" d="M209 295L210 294.6"/>
<path class="c" d="M209 315.4L210 314.8"/>
<path class="a" d="M210 313.8L211 310.1"/>
<path class="b" d="M210 252.4L211 250.8"/>
<path class="d" d="M210 334.1L211 331.8"/>
<path class="e" d="M210 294.6L210.6 294.4L211 294.5"/>
<path class="c" d="M210 314.8L210.6 314.4L211 312.8"/>
<path class="a" d="M211 310.1L212 306.5"/>
<path class="b" d="M211 250.8L211.9 249.4L212 249.3"/>
<path class="d" d="M211 331.8L211.2 331.2L212 328.6"/>
<path class="e" d="M211 294.5L212 294.7"/>
<path class="c" d="M211 312.8L212 308.5"/>
<path class="a" d="M212 306.5L213 302.9"/>
<path class="b" d="M212 249.3L213 248.9"/>
<path class="d" d="M212 328.6L213 325.1"/>
<path class="e" d="M212 294.7L213 294.9"/>
<path class="c" d="M212 308.5L213 304.3"/>
<path class="a" d="M213 302.9L213.1 302.5L214 302.1"/>
<path class="b" d="M213 248.9L214 248.5"/>
<path class="d" d="M213 325.1L213.8 322.5L214 322.3"/>
<path class="e" d="M213 294.9L213.8 295L214 294.6"/>
<path class="c" d="M213 304.3L213.1 303.8L214 303.6"/>
<path class="a" d="M214 302.1L215 301.7"/>
<path class="b" d="M214 248.5L215 248.1"/>
<path class="d" d="M214 322.3L215 321.5"/>
<path class="e" d="M214 294.6L215 293.1"/>
<path class="c" d="M214 303.6L215 303.4"/>
<path class="a" d="M215 301.7L216 301.3"/>
<path class="b" d="M215 248.1L216 249.8"/>
<path class="d" d="M215 321.5L216 320.7"/>
<path class="e" d="M215 293.1L216 291.6"/>
<path class="c" d="M215 303.4L216 303.2"/>
<path class="a" d="M216 301.3L216.2 301.2L217 301"/>
<path class="b" d="M216 249.8L216.9 251.2L217 251"/>
<path class="d" d="M216 320.7L216.9 320L217 319.9"/>
<path class="e" d="M216 291.6L216.2 291.2L217 288.2"/>
<path class="c" d="M216 303.2L216.2 303.1L217 302.5"/>
<path class="a" d="M217 301L218 300.7"/>
<path class="b" d="M217 251L218 248.7"/>
<path class="d" d="M217 319.9L218 318.6"/>
<path class="e" d="M217 288.2L218 284.2"/>
<path class="c" d="M217 302.5L218 301.7"/>
<path class="a" d="M218 300.7L219 300.3"/>
<path class="b" d="M218 248.7L219 246.5"/>
<path class="d" d="M218 318.6L219 317.4"/>
<path class="e" d="M218 284.2L218.1 283.8L219 282.9"/>
<path class="c" d="M218 301.7L219 300.8"/>
<path class="a" d="M219 300.3L220 300"/>
<path class="b" d="M219 246.5L219.4 245.6L220 247.3"/>
<path class="d" d="M219 317.4L219.4 316.9L220 320"/>
<path class="e" d="M219 282.9L220 281.9"/>
<path class="c" d="M219 300.8L220 300"/>
<path class="a" d="M220 300L221 301.2"/>
<path class="b" d="M220 247.3L221 250"/>
<path class="d" d="M220 320L221 325"/>
<path class="e" d="M220 281.9L220.6 281.2L221 282.3"/>
<path class="c" d="M220 300L221 301.2"/>
<path class="a" d="M221 301.2L222 302.5"/>
<path class="b" d="M221 250L221.2 250.6L222 251.7"/>
<path class="d" d="M221 325L221.2 326.2L222 325.6"/>
<path class="e" d="M221 282.3L222 284.9"/>
<path class="c" d="M221 301.2L222 302.5"/>
<path class="a" d="M222 302.5L222.5 303.1L223 302.9"/>
<path class="b" d="M222 251.7L223 253.1"/>
<path class="d" d="M222 325.6L223 324.8"/>
<path class="e" d="M222 284.9L222.5 286.2L223 287.5"/>
<path class="c" d="M222 302.5L222.5 303.1L223 302.9"/>
<path class="a" d="M223 302.9L224 302.4"/>
<path class="b" d="M223 253.1L224 254.5"/>
<path class="d" d="M223 324.8L224 324"/>
<path class="e" d="M223 287.5L224 290"/>
<path class="c" d="M223 302.9L224 302.4"/>
<path class="a" d="M224 302.4L225 301.9"/>
<path class="b" d="M224 254.5L224.4 255L225 255.8"/>
<path class="d" d="M224 324L225 323.1"/>
<path class="e" d="M224 290L225 292.5"/>
<path class="c" d="M224 302.4L225 301.9"/>
<path class="a" d="M225 301.9L226 307.7"/>
<path class="b" d="M225 255.8L226 257.2"/>
<path class="d" d="M225 323.1L226 328.1"/>
<path class="e" d="M225 292.5L226 294.5"/>
<path class="c" d="M225 301.9L226 309.6"/>
<path class="a" d="M226 307.7L227 313.5"/>
<path class="b" d="M226 257.2L226.2 257.5L227 266.1"/>
<path class="d" d="M226 328.1L227 333.1"/>
<path class="e" d="M226 294.5L227 296.5"/>
<path class="c" d="M226 309.6L227 317.4"/>
<path class="a" d="M227 313.5L227.2 315L228 311.5"/>
<path class="b" d="M227 266.1L227.5 271.9L228 267.5"/>
<path class="d" d="M227 333.1L227.5 335.6L228 333.1"/>
<path class="e" d="M227 296.5L227.5 297.5L228 294.2"/>
<path class="c" d="M227 317.4L227.5 321.2L228 318.2"/>
<path class="a" d="M228 311.5L229 306.8"/>
<path class="b" d="M228 267.5L229 258.8"/>
<path class="d" d="M228 333.1L229 328.1"/>
<path class="e" d="M228 294.2L229 287.5"/>
<path class="c" d="M228 318.2L229 312.2"/>
<path class="a" d="M229 306.8L229.4 305L230 303.8"/>
<path class="b" d="M229 258.8L230 257.1"/>
<path class="d" d="M229 328.1L230 323.1"/>
<path class="e" d="M229 287.5L229.4 285L230 282.1"/>
<path class="c" d="M229 312.2L230 306.2"/>
<path class="a" d="M230 303.8L231 301.8"/>
<path class="b" d="M230 257.1L231 255.4"/>
<path class="d" d="M230 323.1L230.6 320L231 319.3"/>
<path class="e" d="M230 282.1L231 277.4"/>
<path class="c" d="M230 306.2L231 303.6"/>
<path class="a" d="M231 301.8L231.9 300L232 299.7"/>
<path class="b" d="M231 255.4L231.2 255L232 254.4"/>
<path class="d" d="M231 319.3L232 317.5"/>
<path class="e" d="M231 277.4L231.2 276.2L232 276"/>
<path class="c" d="M231 303.6L231.9 301.2L232 300.9"/>
<path class="a" d="M232 299.7L233 297.3"/>
<path class="b" d="M232 254.4L233 253.7"/>
<path class="d" d="M232 317.5L233 315.7"/>
<path class="e" d="M232 276L233 275.7"/>
<path class="c" d="M232 300.9L233 298.3"/>
<path class="a" d="M233 297.3L234 294.9"/>
<path class="b" d="M233 253.7L233.8 253.1L234 252.6"/>
<path class="d" d="M233 315.7L233.8 314.4L234 314.2"/>
<path class="e" d="M233 275.7L234 275.3"/>
<path class="c" d="M233 298.3L234 295.7"/>
<path class="a" d="M234 294.9L235 292.5"/>
<path class="b" d="M234 252.6L235 250.6"/>
<path class="d" d="M234 314.2L235 313.4"/>
<path class="e" d="M234 275.3L235 275"/>
<path class="c" d="M234 295.7L235 293.1"/>
<path class="a" d="M235 292.5L236 290"/>
<path class="b" d="M235 250.6L235.6 249.4L236 249.3"/>
<path class="d" d="M235 313.4L236 312.6"/>
<path class="e" d="M235 275L236 275.8"/>
<path class="c" d="M235 293.1L236 293.4"/>
<path class="a" d="M236 290L237 287.5"/>
<path class="b" d="M236 249.3L237 249.1"/>
<path class="d" d="M236 312.6L236.9 311.9L237 311.6"/>
<path class="e" d="M236 275.8L237 276.6"/>
<path class="c" d="M236 293.4L237 293.6"/>
<path class="a" d="M237 287.5L238 285"/>
<path class="b" d="M237 249.1L238 248.9"/>
<path class="d" d="M237 311.6L238 309.1"/>
<path class="e" d="M237 276.6L238 277.4"/>
<path class="c" d="M237 293.6L237.5 293.8L238 293.8"/>
<path class="a" d="M238 285L239 282.5"/>
<path class="b" d="M238 248.9L238.8 248.8L239 248.6"/>
<path class="d" d="M238 309.1L239 306.6"/>
<path class="e" d="M238 277.4L238.1 277.5L239 282.2"/>
<path class="c" d="M238 293.8L239 293.8"/>
<path class="a" d="M239 282.5L240 280"/>
<path class="b" d="M239 248.6L240 248.1"/>
<path class="d" d="M239 306.6L239.4 305.6L240 302.5"/>
<path class="e" d="M239 282.2L239.8 286.2L240 286.2"/>
<path class="c" d="M239 293.8L240 293.8"/>
<path class="a" d="M240 280L241 279"/>
<path class="b" d="M240 248.1L241 247.4"/>
<path class="d" d="M240 302.5L241 302.1"/>
<path class="e" d="M240 286.2L241 290.2"/>
<path class="c" d="M240 293.8L241 293.4"/>
<path class="a" d="M241 279L242 278"/>
<path class="b" d="M241 247.4L242 246.7"/>
<path class="d" d="M241 302.1L242 301.7"/>
<path class="e" d="M241 290.2L241.9 293.8L242 294.1"/>
<path class="c" d="M241 293.4L242 293.1"/>
<path class="a" d="M242 278L242.5 277.5L243 276.5"/>
<path class="b" d="M242 246.7L243 246"/>
<path class="d" d="M242 301.7L243 301.3"/>
<path class="e" d="M242 294.1L243 296.7"/>
<path class="c" d="M242 293.1L243 292.8"/>
<path class="a" d="M243 276.5L244 274.5"/>
<path class="b" d="M243 246L244 245.3"/>
<path class="d" d="M243 301.3L243.1 301.2L244 299.9"/>
<path class="e" d="M243 296.7L244 299.3"/>
<path class="c" d="M243 292.8L243.8 292.5L244 291.6"/>
<path class="a" d="M244 274.5L245 272.5"/>
<path class="b" d="M244 245.3L244.4 245L245 243.1"/>
<path class="d" d="M244 299.9L245 298.4"/>
<path class="e" d="M244 299.3L245 301.9"/>
<path class="c" d="M244 291.6L245 288.1"/>
<path class="a" d="M245 272.5L245.6 271.2L246 271"/>
<path class="b" d="M245 243.1L246 240.1"/>
<path class="d" d="M245 298.4L245.6 297.5L246 296.4"/>
<path class="e" d="M245 301.9L246 297.1"/>
<path class="c" d="M245 288.1L246 284.6"/>
<path class="a" d="M246 271L247 270.2"/>
<path class="b" d="M246 240.1L246.2 239.4L247 236.2"/>
<path class="d" d="M246 296.4L247 293.4"/>
<path class="e" d="M246 297.1L247 292.4"/>
<path class="c" d="M246 284.6L246.2 283.8L247 283.5"/>
<path class="a" d="M247 270.2L248 269.5"/>
<path class="b" d="M247 236.2L248 231.9"/>
<path class="d" d="M247 293.4L247.5 291.9L248 291.4"/>
<path class="e" d="M247 292.4L247.5 290L248 289.6"/>
<path class="c" d="M247 283.5L248 283.1"/>
<path class="a" d="M248 269.5L248.1 269.4L249 265"/>
<path class="b" d="M248 231.9L248.8 228.8L249 228.4"/>
<path class="d" d="M248 291.4L249 290.4"/>
<path class="e" d="M248 289.6L249 288.8"/>
<path class="c" d="M248 283.1L249 282.7"/>
<path class="a" d="M249 265L250 260"/>
<path class="b" d="M249 228.4L250 227"/>
<path class="d" d="M249 290.4L250 289.4"/>
<path class="e" d="M249 288.8L250 287.9"/>
<path class="c" d="M249 282.7L249.4 282.5L250 282.8"/>
<path class="a" d="M250 260L251 250.5"/>
<path class="b" d="M250 227L251 225.6"/>
<path class="d" d="M250 289.4L251 291"/>
<path class="e" d="M250 287.9L251 287.1"/>
<path class="c" d="M250 282.8L251 283.3"/>
<path class="a" d="M251 250.5L251.2 248.1L252 248.4"/>
<path class="b" d="M251 225.6L251.9 224.4L252 224.5"/>
<path class="d" d="M251 291L251.9 292.5L252 292.8"/>
<path class="e" d="M251 287.1L251.2 286.9L252 287.8"/>
<path class="c" d="M251 283.3L251.9 283.8L252 284.1"/>
<path class="a" d="M252 248.4L253 248.7"/>
<path class="b" d="M252 224.5L253 225.2"/>
<path class="d" d="M252 292.8L253 295.5"/>
<path class="e" d="M252 287.8L253 289"/>
<path class="c" d="M252 284.1L253 286.6"/>
<path class="a" d="M253 248.7L253.1 248.8L254 251.7"/>
<path class="b" d="M253 225.2L254 226"/>
<path class="d" d="M253 295.5L253.8 297.5L254 298"/>
<path class="e" d="M253 289L254 290.2"/>
<path class="c" d="M253 286.6L254 289.1"/>
<path class="a" d="M254 251.7L255 255"/>
<path class="b" d="M254 226L254.4 226.2L255 228.4"/>
<path class="d" d="M254 298L255 300"/>
<path class="e" d="M254 290.2L254.4 290.6L255 288.5"/>
<path class="c" d="M254 289.1L254.4 290L255 291.7"/>
<path class="a" d="M255 255L256 254.8"/>
<path class="b" d="M255 228.4L255.6 230.6L256 228.5"/>
<path class="d" d="M255 300L255.6 301.2L256 301.4"/>
<path class="e" d="M255 288.5L256 285.1"/>
<path class="c" d="M255 291.7L256 294.3"/>
<path class="a" d="M256 254.8L257 254.5"/>
<path class="b" d="M256 228.5L257 222.8"/>
<path class="d" d="M256 301.4L257 301.9"/>
<path class="e" d="M256 285.1L257 281.7"/>
<path class="c" d="M256 294.3L256.2 295L257 295.6"/>
<path class="a" d="M257 254.5L257.5 254.4L258 255.5"/>
<path class="b" d="M257 222.8L257.5 220L258 217.8"/>
<path class="d" d="M257 301.9L258 302.4"/>
<path class="e" d="M257 281.7L257.5 280L258 279"/>
<path class="c" d="M257 295.6L258 296.5"/>
<path class="a" d="M258 255.5L259 257.8"/>
<path class="b" d="M258 217.8L258.8 214.4L259 215.6"/>
<path class="d" d="M258 302.4L259 302.9"/>
<path class="e" d="M258 279L259 277"/>
<path class="c" d="M258 296.5L259 297.3"/>
<path class="a" d="M259 257.8L260 260"/>
<path class="b" d="M259 215.6L260 220.3"/>
<path class="d" d="M259 302.9L259.4 303.1L260 307.1"/>
<path class="e" d="M259 277L259.4 276.2L260 275.3"/>
<path class="c" d="M259 297.3L260 298.1"/>
<path class="a" d="M260 260L261 266"/>
<path class="b" d="M260 220.3L261 225.1"/>
<path class="d" d="M260 307.1L261 313.4"/>
<path class="e" d="M260 275.3L261 273.8"/>
<path class="c" d="M260 298.1L261 298.4"/>
<path class="a" d="M261 266L261.2 267.5L262 258.1"/>
<path class="b" d="M261 225.1L261.2 226.2L262 224.2"/>
<path class="d" d="M261 313.4L261.2 315L262 311.5"/>
<path class="e" d="M261 273.8L261.9 272.5L262 270.1"/>
<path class="c" d="M261 298.4L262 298.6"/>
<path class="a" d="M262 258.1L262.8 248.8L263 248.8"/>
<path class="b" d="M262 224.2L263 221.6"/>
<path class="d" d="M262 311.5L263 306.8"/>
<path class="e" d="M262 270.1L262.2 265L263 262.2"/>
<path class="c" d="M262 298.6L262.5 298.8L263 298.6"/>
<path class="a" d="M263 248.8L264 249.1"/>
<path class="b" d="M263 221.6L263.1 221.2L264 220.1"/>
<path class="d" d="M263 306.8L263.1 306.2L264 310.1"/>
<path class="e" d="M263 262.2L263.8 259.4L264 259.3"/>
<path class="c" d="M263 298.6L264 298.4"/>
<path class="a" d="M264 249.1L265 249.4"/>
<path class="b" d="M264 220.1L265 218.9"/>
<path class="d" d="M264 310.1L265 314.4"/>
<path class="e" d="M264 259.3L265 259.1"/>
<path class="c" d="M264 298.4L265 298.1"/>
<path class="a" d="M265 249.4L266 250.7"/>
<path class="b" d="M265 218.9L265.6 218.1L266 221.4"/>
<path class="d" d="M265 314.4L266 316.3"/>
<path class="e" d="M265 259.1L266 258.9"/>
<path class="c" d="M265 298.1L266 298.9"/>
<path class="a" d="M266 250.7L266.9 251.9L267 251.6"/>
<path class="b" d="M266 221.4L267 230.1"/>
<path class="d" d="M266 316.3L267 318.3"/>
<path class="e" d="M266 258.9L266.9 258.8L267 258.8"/>
<path class="c" d="M266 298.9L267 299.7"/>
<path class="a" d="M267 251.6L268 249.1"/>
<path class="b" d="M267 230.1L267.5 234.4L268 232.5"/>
<path class="d" d="M267 318.3L267.2 318.8L268 316.5"/>
<path class="e" d="M267 258.8L268 259"/>
<path class="c" d="M267 299.7L268 300.5"/>
<path class="a" d="M268 249.1L269 246.6"/>
<path class="b" d="M268 232.5L269 228.8"/>
<path class="d" d="M268 316.5L269 313.6"/>
<path class="e" d="M268 259L269 259.2"/>
<path class="c" d="M268 300.5L268.1 300.6L269 300.1"/>
<path class="a" d="M269 246.6L269.4 245.6L270 244.4"/>
<path class="b" d="M269 228.8L270 225"/>
<path class="d" d="M269 313.6L269.4 312.5L270 307.9"/>
<path class="e" d="M269 259.2L270 259.4"/>
<path class="c" d="M269 300.1L270 299.5"/>
<path class="a" d="M270 244.4L271 242.4"/>
<path class="b" d="M270 225L271 216.5"/>
<path class="d" d="M270 307.9L271 300.6"/>
<path class="e" d="M270 259.4L271 256.9"/>
<path class="c" d="M270 299.5L271 298.9"/>
<path class="a" d="M271 242.4L271.2 241.9L272 243.1"/>
<path class="b" d="M271 216.5L271.2 214.4L272 214.5"/>
<path class="d" d="M271 300.6L271.2 298.8L272 299.3"/>
<path class="e" d="M271 256.9L272 254.4"/>
<path class="c" d="M271 298.9L271.2 298.8L272 299.2"/>
<path class="a" d="M272 243.1L273 244.8"/>
<path class="b" d="M272 214.5L273 214.7"/>
<path class="d" d="M272 299.3L273 300.1"/>
<path class="e" d="M272 254.4L272.5 253.1L273 252.9"/>
<path class="c" d="M272 299.2L273 299.8"/>
<path class="a" d="M273 244.8L273.1 245L274 244.5"/>
<path class="b" d="M273 214.7L274 214.9"/>
<path class="d" d="M273 300.1L274 300.9"/>
<path class="e" d="M273 252.9L274 252.4"/>
<path class="c" d="M273 299.8L274 300.4"/>
<path class="a" d="M274 244.5L275 243.9"/>
<path class="b" d="M274 214.9L274.4 215L275 213.8"/>
<path class="d" d="M274 300.9L274.4 301.2L275 301"/>
<path class="e" d="M274 252.4L275 251.9"/>
<path class="c" d="M274 300.4L274.4 300.6L275 300.8"/>
<path class="a" d="M275 243.9L276 243.3"/>
<path class="b" d="M275 213.8L276 211.8"/>
<path class="d" d="M275 301L276 300.6"/>
<path class="e" d="M275 251.9L276 253.6"/>
<path class="c" d="M275 300.8L276 301"/>
<path class="a" d="M276 243.3L276.2 243.1L277 243.2"/>
<path class="b" d="M276 211.8L276.9 210L277 209.5"/>
<path class="d" d="M276 300.6L277 300.1"/>
<path class="e" d="M276 253.6L277 255.4"/>
<path class="c" d="M276 301L276.9 301.2L277 300.9"/>
<path class="a" d="M277 243.2L278 243.4"/>
<path class="b" d="M277 209.5L278 205.8"/>
<path class="d" d="M277 300.1L278 299.7"/>
<path class="e" d="M277 255.4L277.5 256.2L278 258"/>
<path class="c" d="M277 300.9L278 298.4"/>
<path class="a" d="M278 243.4L279 243.6"/>
<path class="b" d="M278 205.8L279 202"/>
<path class="d" d="M278 299.7L278.8 299.4L279 300.3"/>
<path class="e" d="M278 258L279 261.5"/>
<path class="c" d="M278 298.4L279 295.9"/>
<path class="a" d="M279 243.6L280 243.8"/>
<path class="b" d="M279 202L279.4 200.6L280 203.1"/>
<path class="d" d="M279 300.3L280 304"/>
<path class="e" d="M279 261.5L280 265"/>
<path class="c" d="M279 295.9L279.4 295L280 296"/>
<path class="a" d="M280 243.8L281 243.8"/>
<path class="b" d="M280 203.1L281 207.1"/>
<path class="d" d="M280 304L280.6 306.2L281 307"/>
<path class="e" d="M280 265L281 270.4"/>
<path class="c" d="M280 296L281 297.7"/>
<path class="a" d="M281 243.8L282 243.8"/>
<path class="b" d="M281 207.1L281.2 208.1L282 208.6"/>
<path class="d" d="M281 307L282 309"/>
<path class="e" d="M281 270.4L281.6 273.8L282 270.3"/>
<path class="c" d="M281 297.7L281.2 298.1L282 298.1"/>
<path class="a" d="M282 243.8L283 243.8"/>
<path class="b" d="M282 208.6L283 209.3"/>
<path class="d" d="M282 309L283 311"/>
<path class="e" d="M282 270.3L283 261.1"/>
<path class="c" d="M282 298.1L283 298.1"/>
<path class="a" d="M283 243.8L283.8 243.8L284 238.9"/>
<path class="b" d="M283 209.3L283.1 209.4L284 211.8"/>
<path class="d" d="M283 311L283.1 311.2L284 310.9"/>
<path class="e" d="M283 261.1L283.1 260L284 264.4"/>
<path class="c" d="M283 298.1L284 298.1"/>
<path class="a" d="M284 238.9L284.8 224.4L285 225"/>
<path class="b" d="M284 211.8L285 214.5"/>
<path class="d" d="M284 310.9L285 310.5"/>
<path class="e" d="M284 264.4L285 269.4"/>
<path class="c" d="M284 298.1L285 298.1"/>
<path class="a" d="M285 225L286 227.5"/>
<path class="b" d="M285 214.5L285.6 216.2L286 216.4"/>
<path class="d" d="M285 310.5L286 310.1"/>
<path class="e" d="M285 269.4L286 268.4"/>
<path class="c" d="M285 298.1L286 298.9"/>
<path class="a" d="M286 227.5L286.5 228.8L287 231.3"/>
<path class="b" d="M286 216.4L287 216.9"/>
<path class="d" d="M286 310.1L286.2 310L287 309.9"/>
<path class="e" d="M286 268.4L287 267.4"/>
<path class="c" d="M286 298.9L287 299.6"/>
<path class="a" d="M287 231.3L288 236.3"/>
<path class="b" d="M287 216.9L288 217.4"/>
<path class="d" d="M287 309.9L288 309.7"/>
<path class="e" d="M287 267.4L288 266.4"/>
<path class="c" d="M287 299.6L287.5 300L288 300.2"/>
<path class="a" d="M288 236.3L288.1 236.9L289 237.5"/>
<path class="b" d="M288 217.4L288.1 217.5L289 215.5"/>
<path class="d" d="M288 309.7L289 309.5"/>
<path class="e" d="M288 266.4L288.1 266.2L289 266.4"/>
<path class="c" d="M288 300.2L289 300.8"/>
<path class="a" d="M289 237.5L290 238.3"/>
<path class="b" d="M289 215.5L290 213.3"/>
<path class="d" d="M289 309.5L290 309.4"/>
<path class="e" d="M289 266.4L290 266.6"/>
<path class="c" d="M289 300.8L290 301.2"/>
<path class="a" d="M290 238.3L290.6 238.8L291 237.4"/>
<path class="b" d="M290 213.3L290.6 211.9L291 211.8"/>
<path class="d" d="M290 309.4L291 303.9"/>
<path class="e" d="M290 266.6L291 266.8"/>
<path class="c" d="M290 301.2L291 299.2"/>
<path class="a" d="M291 237.4L292 233.9"/>
<path class="b" d="M291 211.8L292 211.5"/>
<path class="d" d="M291 303.9L291.2 302.5L292 301"/>
<path class="e" d="M291 266.8L291.2 266.9L292 267.6"/>
<path class="c" d="M291 299.2L292 297.2"/>
<path class="a" d="M292 233.9L293 230.4"/>
<path class="b" d="M292 211.5L293 211.2"/>
<path class="d" d="M292 301L293 299"/>
<path class="e" d="M292 267.6L293 268.6"/>
<path class="c" d="M292 297.2L293 295.2"/>
<path class="a" d="M293 230.4L293.1 230L294 230.5"/>
<path class="b" d="M293 211.2L294 210.9"/>
<path class="d" d="M293 299L293.8 297.5L294 297.5"/>
<path class="e" d="M293 268.6L294 269.6"/>
<path class="c" d="M293 295.2L293.1 295L294 294.3"/>
<path class="a" d="M294 230.5L295 231.1"/>
<path class="b" d="M294 210.9L295 210.6"/>
<path class="d" d="M294 297.5L295 297.3"/>
<path class="e" d="M294 269.6L294.4 270L295 271.6"/>
<path class="c" d="M294 294.3L295 293.6"/>
<path class="a" d="M295 231.1L296 231.7"/>
<path class="b" d="M295 210.6L296 207.9"/>
<path class="d" d="M295 297.3L296 297.1"/>
<path class="e" d="M295 271.6L296 274.1"/>
<path class="c" d="M295 293.6L295.6 293.1L296 292.9"/>
<path class="a" d="M296 231.7L296.2 231.9L297 228.5"/>
<path class="b" d="M296 207.9L297 205.1"/>
<path class="d" d="M296 297.1L296.9 296.9L297 296.4"/>
<path class="e" d="M296 274.1L296.9 276.2L297 276.5"/>
<path class="c" d="M296 292.9L297 292.3"/>
<path class="a" d="M297 228.5L298 224"/>
<path class="b" d="M297 205.1L297.5 203.8L298 201.2"/>
<path class="d" d="M297 296.4L298 292.4"/>
<path class="e" d="M297 276.5L298 278.2"/>
<path class="c" d="M297 292.3L298 291.7"/>
<path class="a" d="M298 224L298.8 220.6L299 220.4"/>
<path class="b" d="M298 201.2L299 196.2"/>
<path class="d" d="M298 292.4L298.8 289.4L299 288.9"/>
<path class="e" d="M298 278.2L299 280"/>
<path class="c" d="M298 291.7L298.8 291.2L299 291.1"/>
<path class="a" d="M299 220.4L299.4 220L300 220"/>
<path class="b" d="M299 196.2L300 198.2"/>
<path class="d" d="M299 288.9L300 286.9"/>
<path class="e" d="M299 280L299.4 280.6L300 280.6"/>
<path class="c" d="M299 291.1L300 290.3"/>
<path class="a" d="M300 220L301 220"/>
<path class="b" d="M300 198.2L301 200.1"/>
<path class="d" d="M300 286.9L301 284.9"/>
<path class="e" d="M300 280.6L301 280.6"/>
<path class="c" d="M300 290.3L301 289.6"/>
<path class="a" d="M301 220L302 220"/>
<path class="b" d="M301 200.1L301.2 200.6L302 198.9"/>
<path class="d" d="M301 284.9L301.9 283.1L302 282.9"/>
<path class="e" d="M301 280.6L301.9 280.6L302 280.4"/>
<path class="c" d="M301 289.6L301.2 289.4L302 289.1"/>
<path class="a" d="M302 220L302.5 220L303 219.8"/>
<path class="b" d="M302 198.9L303 196.7"/>
<path class="d" d="M302 282.9L303 281.1"/>
<path class="e" d="M302 280.4L303 278.9"/>
<path class="c" d="M302 289.1L303 288.8"/>
<path class="a" d="M303 219.8L304 219.2"/>
<path class="b" d="M303 196.7L303.8 195L304 195"/>
<path class="d" d="M303 281.1L304 279.3"/>
<path class="e" d="M303 278.9L304 277.4"/>
<path class="c" d="M303 288.8L304 288.5"/>
<path class="a" d="M304 219.2L305 218.8"/>
<path class="b" d="M304 195L305 194.8"/>
<path class="d" d="M304 279.3L305 277.5"/>
<path class="e" d="M304 277.4L304.4 276.9L305 272.5"/>
<path class="c" d="M304 288.5L305 288.1"/>
<path class="a" d="M305 218.8L306 218.3"/>
<path class="b" d="M305 194.8L306 194.6"/>
<path class="d" d="M305 277.5L306 280.5"/>
<path class="e" d="M305 272.5L306 271.9"/>
<path class="c" d="M305 288.1L306 288.7"/>
<path class="a" d="M306 218.3L307 217.9"/>
<path class="b" d="M306 194.6L306.9 194.4L307 194.2"/>
<path class="d" d="M306 280.5L307 283.5"/>
<path class="e" d="M306 271.9L307 271.3"/>
<path class="c" d="M306 288.7L307 289.3"/>
<path class="a" d="M307 217.9L308 217.5"/>
<path class="b" d="M307 194.2L308 193"/>
<path class="d" d="M307 283.5L307.5 285L308 285.2"/>
<path class="e" d="M307 271.3L308 270.7"/>
<path class="c" d="M307 289.3L308 289.9"/>
<path class="a" d="M308 217.5L308.1 217.5L309 215.7"/>
<path class="b" d="M308 193L309 191.7"/>
<path class="d" d="M308 285.2L309 285.5"/>
<path class="e" d="M308 270.7L308.1 270.6L309 270.3"/>
<path class="c" d="M308 289.9L308.1 290L309 288.8"/>
<path class="a" d="M309 215.7L310 213.8"/>
<path class="b" d="M309 191.7L309.4 191.2L310 187.3"/>
<path class="d" d="M309 285.5L309.4 285.6L310 282.7"/>
<path class="e" d="M309 270.3L310 269.9"/>
<path class="c" d="M309 288.8L310 287.4"/>
<path class="a" d="M310 213.8L311 211.8"/>
<path class="b" d="M310 187.3L311 181"/>
<path class="d" d="M310 282.7L311 278"/>
<path class="e" d="M310 269.9L311 269.5"/>
<path class="c" d="M310 287.4L311 286"/>
<path class="a" d="M311 211.8L311.9 210L312 210"/>
<path class="b" d="M311 181L311.2 179.4L312 181.8"/>
<path class="d" d="M311 278L311.2 276.9L312 278.2"/>
<path class="e" d="M311 269.5L311.2 269.4L312 271.8"/>
<path class="c" d="M311 286L311.2 285.6L312 286.4"/>
<path class="a" d="M312 210L313 210.3"/>
<path class="b" d="M312 181.8L313 185.1"/>
<path class="d" d="M312 278.2L313 279.9"/>
<path class="e" d="M312 271.8L313 275.1"/>
<path class="c" d="M312 286.4L313 287.4"/>
<path class="a" d="M313 210.3L314 210.5"/>
<path class="b" d="M313 185.1L313.8 187.5L314 188.8"/>
<path class="d" d="M313 279.9L313.8 281.2L314 281.8"/>
<path class="e" d="M313 275.1L313.8 277.5L314 277.2"/>
<path class="c" d="M313 287.4L313.8 288.1L314 288.3"/>
<path class="a" d="M314 210.5L314.4 210.6L315 211.2"/>
<path class="b" d="M314 188.8L315 193.8"/>
<path class="d" d="M314 281.8L315 284.2"/>
<path class="e" d="M314 277.2L315 276.2"/>
<path class="c" d="M314 288.3L315 289.1"/>
<path class="a" d="M315 211.2L316 212.2"/>
<path class="b" d="M315 193.8L315.6 196.9L316 197.2"/>
<path class="d" d="M315 284.2L315.6 285.6L316 287.8"/>
<path class="e" d="M315 276.2L316 275.2"/>
<path class="c" d="M315 289.1L316 289.8"/>
<path class="a" d="M316 212.2L316.9 213.1L317 213.1"/>
<path class="b" d="M316 197.2L317 198"/>
<path class="d" d="M316 287.8L317 293.4"/>
<path class="e" d="M316 275.2L316.2 275L317 274.4"/>
<path class="c" d="M316 289.8L316.2 290L317 289.8"/>
<path class="a" d="M317 213.1L318 213.3"/>
<path class="b" d="M317 198L318 198.8"/>
<path class="d" d="M317 293.4L317.5 296.2L318 297.7"/>
<path class="e" d="M317 274.4L318 273.7"/>
<path class="c" d="M317 289.8L318 289.4"/>
<path class="a" d="M318 213.3L319 213.5"/>
<path class="b" d="M318 198.8L318.8 199.4L319 199.7"/>
<path class="d" d="M318 297.7L319 300.7"/>
<path class="e" d="M318 273.7L318.8 273.1L319 273"/>
<path class="c" d="M318 289.4L318.1 289.4L319 285"/>
<path class="a" d="M319 213.5L320 213.8"/>
<path class="b" d="M319 199.7L320 200.9"/>
<path class="d" d="M319 300.7L319.4 301.9L320 302.3"/>
<path class="e" d="M319 273L320 272.3"/>
<path class="c" d="M319 285L320 280"/>
<path class="a" d="M320 213.8L321 212.9"/>
<path class="b" d="M320 200.9L321 202.2"/>
<path class="d" d="M320 302.3L321 303.1"/>
<path class="e" d="M320 272.3L320.6 271.9L321 270"/>
<path class="c" d="M320 280L321 281.5"/>
<path class="a" d="M321 212.9L322 212.1"/>
<path class="b" d="M321 202.2L321.2 202.5L322 204"/>
<path class="d" d="M321 303.1L321.9 303.8L322 303.8"/>
<path class="e" d="M321 270L322 265"/>
<path class="c" d="M321 281.5L322 283"/>
<path class="a" d="M322 212.1L323 211.2"/>
<path class="b" d="M322 204L323 206"/>
<path class="d" d="M322 303.8L323 304.2"/>
<path class="e" d="M322 265L322.2 263.8L323 269.1"/>
<path class="c" d="M322 283L322.5 283.8L323 284.1"/>
<path class="a" d="M323 211.2L323.8 210.6L324 210.8"/>
<path class="b" d="M323 206L323.8 207.5L324 207.7"/>
<path class="d" d="M323 304.2L324 304.6"/>
<path class="e" d="M323 269.1L323.8 274.4L324 274.6"/>
<path class="c" d="M323 284.1L324 284.9"/>
<path class="a" d="M324 210.8L325 211.5"/>
<path class="b" d="M324 207.7L325 208.3"/>
<path class="d" d="M324 304.6L325 305"/>
<path class="e" d="M324 274.6L325 275.6"/>
<path class="c" d="M324 284.9L325 285.6"/>
<path class="a" d="M325 211.5L326 212.1"/>
<path class="b" d="M325 208.3L326 209"/>
<path class="d" d="M325 305L326 304.6"/>
<path class="e" d="M325 275.6L326 276.6"/>
<path class="c" d="M325 285.6L326 290.9"/>
<path class="a" d="M326 212.1L327 212.8"/>
<path class="b" d="M326 209L327 209.7"/>
<path class="d" d="M326 304.6L327 304.2"/>
<path class="e" d="M326 276.6L326.2 276.9L327 278"/>
<path class="c" d="M326 290.9L326.9 295.6L327 295.6"/>
<path class="a" d="M327 212.8L327.5 213.1L328 213.5"/>
<path class="b" d="M327 209.7L327.5 210L328 210.5"/>
<path class="d" d="M327 304.2L328 303.8"/>
<path class="e" d="M327 278L328 279.5"/>
<path class="c" d="M327 295.6L328 295.4"/>
<path class="a" d="M328 213.5L329 214.2"/>
<path class="b" d="M328 210.5L329 211.5"/>
<path class="d" d="M328 303.8L328.1 303.8L329 304.6"/>
<path class="e" d="M328 279.5L328.8 280.6L329 281.2"/>
<path class="c" d="M328 295.4L329 295.2"/>
<path class="a" d="M329 214.2L330 215"/>
<path class="b" d="M329 211.5L330 212.5"/>
<path class="d" d="M329 304.6L330 305.6"/>
<path class="e" d="M329 281.2L330 283.4"/>
<path class="c" d="M329 295.2L330 295"/>
<path class="a" d="M330 215L331 212.3"/>
<path class="b" d="M330 212.5L331 213.8"/>
<path class="d" d="M330 305.6L331 306.6"/>
<path class="e" d="M330 283.4L331 285.7"/>
<path class="c" d="M330 295L331 294.4"/>
<path class="a" d="M331 212.3L331.9 210L332 208.2"/>
<path class="b" d="M331 213.8L331.9 215L332 214.8"/>
<path class="d" d="M331 306.6L331.2 306.9L332 305.4"/>
<path class="e" d="M331 285.7L331.2 286.2L332 290"/>
<path class="c" d="M331 294.4L332 293.8"/>
<path class="a" d="M332 208.2L333 193.1"/>
<path class="b" d="M332 214.8L333 213.3"/>
<path class="d" d="M332 305.4L333 303.4"/>
<path class="e" d="M332 290L333 295"/>
<path class="c" d="M332 293.8L333 293.2"/>
<path class="a" d="M333 193.1L333.1 191.2L334 192.1"/>
<path class="b" d="M333 213.3L334 211.8"/>
<path class="d" d="M333 303.4L333.8 301.9L334 301.8"/>
<path class="e" d="M333 295L333.1 295.6L334 292.4"/>
<path class="c" d="M333 293.2L333.1 293.1L334 291.7"/>
<path class="a" d="M334 192.1L335 193.1"/>
<path class="b" d="M334 211.8L334.4 211.2L335 209.5"/>
<path class="d" d="M334 301.8L335 301.4"/>
<path class="e" d="M334 292.4L335 288.8"/>
<path class="c" d="M334 291.7L335 290"/>
<path class="a" d="M335 193.1L336 188.8"/>
<path class="b" d="M335 209.5L336 206.7"/>
<path class="d" d="M335 301.4L336 301"/>
<path class="e" d="M335 288.8L336 280.8"/>
<path class="c" d="M335 290L336 289"/>
<path class="a" d="M336 188.8L336.9 185L337 184"/>
<path class="b" d="M336 206.7L337 203.8"/>
<path class="d" d="M336 301L336.9 300.6L337 301"/>
<path class="e" d="M336 280.8L336.2 278.8L337 272.8"/>
<path class="c" d="M336 289L336.9 288.1L337 288.2"/>
<path class="a" d="M337 184L338 176"/>
<path class="b" d="M337 203.8L337.2 203.1L338 204.4"/>
<path class="d" d="M337 301L338 304"/>
<path class="e" d="M337 272.8L337.5 268.8L338 267.8"/>
<path class="c" d="M337 288.2L338 289"/>
<path class="a" d="M338 176L338.8 170L339 171"/>
<path class="b" d="M338 204.4L339 206.2"/>
<path class="d" d="M338 304L339 307"/>
<path class="e" d="M338 267.8L338.8 266.2L339 265.9"/>
<path class="c" d="M338 289L339 289.8"/>
<path class="a" d="M339 171L340 175"/>
<path class="b" d="M339 206.2L339.4 206.9L340 208.3"/>
<path class="d" d="M339 307L339.4 308.1L340 310"/>
<path class="e" d="M339 265.9L340 264.5"/>
<path class="c" d="M339 289.8L340 290.6"/>
<path class="a" d="M340 175L341 174.6"/>
<path class="b" d="M340 208.3L341 210.5"/>
<path class="d" d="M340 310L341 313"/>
<path class="e" d="M340 264.5L341 263.1"/>
<path class="c" d="M340 290.6L341 290.6"/>
<path class="a" d="M341 174.6L342 174.2"/>
<path class="b" d="M341 210.5L341.9 212.5L342 212.8"/>
<path class="d" d="M341 313L341.2 313.8L342 312.2"/>
<path class="e" d="M341 263.1L342 264.6"/>
<path class="c" d="M341 290.6L342 290.6"/>
<path class="a" d="M342 174.2L343 173.8"/>
<path class="b" d="M342 212.8L343 215"/>
<path class="d" d="M342 312.2L343 310.2"/>
<path class="e" d="M342 264.6L343 266.1"/>
<path class="c" d="M342 290.6L343 290.6"/>
<path class="a" d="M343 173.8L343.1 173.8L344 171.3"/>
<path class="b" d="M343 215L344 217.3"/>
<path class="d" d="M343 310.2L343.8 308.8L344 308.8"/>
<path class="e" d="M343 266.1L343.1 266.2L344 272.3"/>
<path class="c" d="M343 290.6L343.8 290.6L344 291.1"/>
<path class="a" d="M344 171.3L345 168.6"/>
<path class="b" d="M344 217.3L344.4 218.1L345 215"/>
<path class="d" d="M344 308.8L345 308.8"/>
<path class="e" d="M344 272.3L344.8 277.5L345 278.5"/>
<path class="c" d="M344 291.1L345 293.1"/>
<path class="a" d="M345 168.6L345.6 166.9L346 167.8"/>
<path class="b" d="M345 215L346 217"/>
<path class="d" d="M345 308.8L346 310.7"/>
<path class="e" d="M345 278.5L346 282.7"/>
<path class="c" d="M345 293.1L346 294.6"/>
<path class="a" d="M346 167.8L347 170.1"/>
<path class="b" d="M346 217L346.9 218.8L347 218.5"/>
<path class="d" d="M346 310.7L346.9 312.5L347 312.3"/>
<path class="e" d="M346 282.7L346.2 283.8L346.9 284.4L347 284.5"/>
<path class="c" d="M346 294.6L347 296.1"/>
<path class="a" d="M347 170.1L347.5 171.2L348 171.8"/>
<path class="b" d="M347 218.5L348 216.3"/>
<path class="d" d="M347 312.3L348 310.5"/>
<path class="e" d="M347 284.5L348 285.7"/>
<path class="c" d="M347 296.1L347.5 296.9L348 297.2"/>
<path class="a" d="M348 171.8L349 172.8"/>
<path class="b" d="M348 216.3L349 214.1"/>
<path class="d" d="M348 310.5L349 308.8"/>
<path class="e" d="M348 285.7L349 286.9"/>
<path class="c" d="M348 297.2L349 297.9"/>
<path class="a" d="M349 172.8L350 173.8"/>
<path class="b" d="M349 214.1L350 212"/>
<path class="d" d="M349 308.8L349.4 308.1L350 307.5"/>
<path class="e" d="M349 286.9L350 288.1"/>
<path class="c" d="M349 297.9L350 298.5"/>
<path class="a" d="M350 173.8L351 183.8"/>
<path class="b" d="M350 212L350.6 210.6L351 210.7"/>
<path class="d" d="M350 307.5L351 306.5"/>
<path class="e" d="M350 288.1L351 289.3"/>
<path class="c" d="M350 298.5L351 299.2"/>
<path class="a" d="M351 183.8L351.2 186.2L352 185.2"/>
<path class="b" d="M351 210.7L352 211"/>
<path class="d" d="M351 306.5L351.2 306.2L352 307"/>
<path class="e" d="M351 289.3L352 290.5"/>
<path class="c" d="M351 299.2L351.2 299.4L352 299.5"/>
<path class="a" d="M352 185.2L353 183.9"/>
<path class="b" d="M352 211L353 211.2"/>
<path class="d" d="M352 307L353 308"/>
<path class="e" d="M352 290.5L353 291.7"/>
<path class="c" d="M352 299.5L353 299.7"/>
<path class="a" d="M353 183.9L353.1 183.8L354 180.8"/>
<path class="b" d="M353 211.2L353.1 211.2L354 210.1"/>
<path class="d" d="M353 308L353.1 308.1L354 307.9"/>
<path class="e" d="M353 291.7L353.1 291.9L354 291.7"/>
<path class="c" d="M353 299.7L354 299.9"/>
<path class="a" d="M354 180.8L355 177.5"/>
<path class="b" d="M354 210.1L355 208.9"/>
<path class="d" d="M354 307.9L355 307.7"/>
<path class="e" d="M354 291.7L355 291.5"/>
<path class="c" d="M354 299.9L354.4 300L355 299.9"/>
<path class="a" d="M355 177.5L356 176.5"/>
<path class="b" d="M355 208.9L355.6 208.1L356 208.4"/>
<path class="d" d="M355 307.7L355.6 307.5L356 308.1"/>
<path class="e" d="M355 291.5L356 291.3"/>
<path class="c" d="M355 299.9L356 299.7"/>
<path class="a" d="M356 176.5L356.9 175.6L357 176"/>
<path class="b" d="M356 208.4L357 209"/>
<path class="d" d="M356 308.1L357 309.8"/>
<path class="e" d="M356 291.3L356.2 291.2L357 289.9"/>
<path class="c" d="M356 299.7L357 299.5"/>
<path class="a" d="M357 176L358 179"/>
<path class="b" d="M357 209L357.5 209.4L358 211.3"/>
<path class="d" d="M357 309.8L357.5 310.6L358 311.6"/>
<path class="e" d="M357 289.9L358 288.2"/>
<path class="c" d="M357 299.5L357.5 299.4L358 299.9"/>
<path class="a" d="M358 179L358.8 181.2L359 182.2"/>
<path class="b" d="M358 211.3L359 215"/>
<path class="d" d="M358 311.6L359 313.6"/>
<path class="e" d="M358 288.2L358.8 286.9L359 287.1"/>
<path class="c" d="M358 299.9L359 300.9"/>
<path class="a" d="M359 182.2L360 186.2"/>
<path class="b" d="M359 215L360 218.8"/>
<path class="d" d="M359 313.6L359.4 314.4L360 313.6"/>
<path class="e" d="M359 287.1L360 288.1"/>
<path class="c" d="M359 300.9L360 301.9"/>
<path class="a" d="M360 186.2L360.2 210L360.6 222.5L361 258.8"/>
<path class="b" d="M360 218.8L361 217.4"/>
<path class="d" d="M360 313.6L361 312.4"/>
<path class="e" d="M360 288.1L361 289.1"/>
<path class="c" d="M360 301.9L361 300.9"/>
<path class="a" d="M361 258.8L362 260.2"/>
<path class="b" d="M361 217.4L361.9 216.2L362 215.8"/>
<path class="d" d="M361 312.4L361.9 311.2L362 311"/>
<path class="e" d="M361 289.1L361.2 289.4L362 287.3"/>
<path class="c" d="M361 300.9L362 299.9"/>
<path class="a" d="M362 260.2L363 261.7"/>
<path class="b" d="M362 215.8L363 212.3"/>
<path class="d" d="M362 311L363 309.3"/>
<path class="e" d="M362 287.3L363 284.6"/>
<path class="c" d="M362 299.9L362.5 299.4L363 298.7"/>
<path class="a" d="M363 261.7L363.1 261.9L364 260.8"/>
<path class="b" d="M363 212.3L364 208.8"/>
<path class="d" d="M363 309.3L364 307.5"/>
<path class="e" d="M363 284.6L363.8 282.5L364 282.6"/>
<path class="c" d="M363 298.7L364 297.3"/>
<path class="a" d="M364 260.8L365 259.6"/>
<path class="b" d="M364 208.8L364.4 207.5L365 206.9"/>
<path class="d" d="M364 307.5L364.4 306.9L365 306.6"/>
<path class="e" d="M364 282.6L365 283"/>
<path class="c" d="M364 297.3L365 295.9"/>
<path class="a" d="M365 259.6L366 258.4"/>
<path class="b" d="M365 206.9L366 205.9"/>
<path class="d" d="M365 306.6L366 306.1"/>
<path class="e" d="M365 283L366 283.4"/>
<path class="c" d="M365 295.9L365.6 295L366 294.8"/>
<path class="a" d="M366 258.4L366.2 258.1L367 257.2"/>
<path class="b" d="M366 205.9L366.9 205L367 205.1"/>
<path class="d" d="M366 306.1L366.9 305.6L367 305.7"/>
<path class="e" d="M366 283.4L366.9 283.8L367 283.4"/>
<path class="c" d="M366 294.8L367 294.2"/>
<path class="a" d="M367 257.2L368 255.9"/>
<path class="b" d="M367 205.1L368 206.4"/>
<path class="d" d="M367 305.7L368 306.7"/>
<path class="e" d="M367 283.4L368 280.4"/>
<path class="c" d="M367 294.2L368 293.6"/>
<path class="a" d="M368 255.9L368.8 255L369 254.2"/>
<path class="b" d="M368 206.4L369 207.6"/>
<path class="d" d="M368 306.7L369 307.7"/>
<path class="e" d="M368 280.4L368.8 278.1L369 278.1"/>
<path class="c" d="M368 293.6L368.8 293.1L369 293.1"/>
<path class="a" d="M369 254.2L370 250.8"/>
<path class="b" d="M369 207.6L369.4 208.1L370 210.1"/>
<path class="d" d="M369 307.7L369.4 308.1L370 309.1"/>
<path class="e" d="M369 278.1L370 277.8"/>
<path class="c" d="M369 293.1L370 293.1"/>
<path class="a" d="M370 250.8L370.6 248.8L371 247.8"/>
<path class="b" d="M370 210.1L371 213.4"/>
<path class="d" d="M370 309.1L371 310.6"/>
<path class="e" d="M370 277.8L371 277.6"/>
<path class="c" d="M370 293.1L371 293.1"/>
<path class="a" d="M371 247.8L372 245.3"/>
<path class="b" d="M371 213.4L371.9 216.2L372 216.2"/>
<path class="d" d="M371 310.6L371.9 311.9L372 311.9"/>
<path class="e" d="M371 277.6L371.2 277.5L372 277.2"/>
<path class="c" d="M371 293.1L371.2 293.1L372 293.5"/>
<path class="a" d="M372 245.3L373 242.8"/>
<path class="b" d="M372 216.2L373 215.9"/>
<path class="d" d="M372 311.9L373 312.4"/>
<path class="e" d="M372 277.2L373 276.9"/>
<path class="c" d="M372 293.5L373 294"/>
<path class="a" d="M373 242.8L373.1 242.5L374 236.1"/>
<path class="b" d="M373 215.9L373.8 215.6L374 215.1"/>
<path class="d" d="M373 312.4L374 312.9"/>
<path class="e" d="M373 276.9L374 276.6"/>
<path class="c" d="M373 294L373.8 294.4L374 294.1"/>
<path class="a" d="M374 236.1L375 228.8"/>
<path class="b" d="M374 215.1L375 212.8"/>
<path class="d" d="M374 312.9L374.4 313.1L375 310.8"/>
<path class="e" d="M374 276.6L375 276.2"/>
<path class="c" d="M374 294.1L375 293.1"/>
<path class="a" d="M375 228.8L376 229"/>
<path class="b" d="M375 212.8L376 210.6"/>
<path class="d" d="M375 310.8L376 307.2"/>
<path class="e" d="M375 276.2L376 273.8"/>
<path class="c" d="M375 293.1L375.6 292.5L376 292.5"/>
<path class="a" d="M376 229L377 229.2"/>
<path class="b" d="M376 210.6L376.2 210L377 208.5"/>
<path class="d" d="M376 307.2L376.2 306.2L377 305.2"/>
<path class="e" d="M376 273.8L377 271.2"/>
<path class="c" d="M376 292.5L377 292.5"/>
<path class="a" d="M377 229.2L378 229.4"/>
<path class="b" d="M377 208.5L378 206.5"/>
<path class="d" d="M377 305.2L378 303.9"/>
<path class="e" d="M377 271.2L377.5 270L378 268.5"/>
<path class="c" d="M377 292.5L378 292.5"/>
<path class="a" d="M378 229.4L378.1 229.4L379 231.4"/>
<path class="b" d="M378 206.5L379 204.5"/>
<path class="d" d="M378 303.9L378.1 303.8L379 304.3"/>
<path class="e" d="M378 268.5L378.1 268.1L379 269"/>
<path class="c" d="M378 292.5L379 292.5"/>
<path class="a" d="M379 231.4L380 233.8"/>
<path class="b" d="M379 204.5L379.4 203.8L380 205.8"/>
<path class="d" d="M379 304.3L380 305"/>
<path class="e" d="M379 269L380 270"/>
<path class="c" d="M379 292.5L379.4 292.5L380 293.3"/>
<path class="a" d="M380 233.8L381 246.8"/>
<path class="b" d="M380 205.8L381 209.2"/>
<path class="d" d="M380 305L381 312"/>
<path class="e" d="M380 270L381 278.5"/>
<path class="c" d="M380 293.3L381 294.7"/>
<path class="a" d="M381 246.8L381.2 250L381.5 265L382 265.4"/>
<path class="b" d="M381 209.2L381.2 210L382 213.4"/>
<path class="d" d="M381 312L381.2 313.8L382 319"/>
<path class="e" d="M381 278.5L381.2 280.6L382 278.4"/>
<path class="c" d="M381 294.7L381.2 295L382 297.3"/>
<path class="a" d="M382 265.4L383 266.1"/>
<path class="b" d="M382 213.4L383 217.9"/>
<path class="d" d="M382 319L382.5 322.5L383 325.5"/>
<path class="e" d="M382 278.4L383 275.4"/>
<path class="c" d="M382 297.3L383 300.3"/>
<path class="a" d="M383 266.1L384 266.8"/>
<path class="b" d="M383 217.9L383.8 221.2L384 221.2"/>
<path class="d" d="M383 325.5L383.8 330L384 329.6"/>
<path class="e" d="M383 275.4L383.8 273.1L384 273"/>
<path class="c" d="M383 300.3L383.1 300.6L384 301.5"/>
<path class="a" d="M384 266.8L385 267.5"/>
<path class="b" d="M384 221.2L385 220.8"/>
<path class="d" d="M384 329.6L385 327.9"/>
<path class="e" d="M384 273L385 272.6"/>
<path class="c" d="M384 301.5L385 302.5"/>
<path class="a" d="M385 267.5L386 260.5"/>
<path class="b" d="M385 220.8L385.6 220.6L386 219.6"/>
<path class="d" d="M385 327.9L385.6 326.9L386 325.6"/>
<path class="e" d="M385 272.6L386 272.2"/>
<path class="c" d="M385 302.5L385.6 303.1L386 303.5"/>
<path class="a" d="M386 260.5L386.9 254.4L387 254.4"/>
<path class="b" d="M386 219.6L387 216.9"/>
<path class="d" d="M386 325.6L387 322.3"/>
<path class="e" d="M386 272.2L386.9 271.9L387 271.6"/>
<path class="c" d="M386 303.5L387 304.5"/>
<path class="a" d="M387 254.4L388 254.2"/>
<path class="b" d="M387 216.9L387.5 215.6L388 215.9"/>
<path class="d" d="M387 322.3L387.5 320.6L388 325.4"/>
<path class="e" d="M387 271.6L388 269.4"/>
<path class="c" d="M387 304.5L388 305.5"/>
<path class="a" d="M388 254.2L389 254"/>
<path class="b" d="M388 215.9L389 216.5"/>
<path class="d" d="M388 325.4L388.8 332.5L389 342.5"/>
<path class="e" d="M388 269.4L389 267.1"/>
<path class="c" d="M388 305.5L388.1 305.6L389 305.8"/>
<path class="a" d="M389 254L390 253.9"/>
<path class="b" d="M389 216.5L390 217.1"/>
<path class="d" d="M389 342.5L390 342.5"/>
<path class="e" d="M389 267.1L389.4 266.2L390 266.2"/>
<path class="c" d="M389 305.8L390 306"/>
<path class="a" d="M390 253.9L390.6 253.8L391 253.6"/>
<path class="b" d="M390 217.1L390.6 217.5L391 217.5"/>
<path class="d" d="M390 342.5L391 342.5"/>
<path class="e" d="M390 266.2L391 266.2"/>
<path class="c" d="M390 306L391 306.2"/>
<path class="a" d="M391 253.6L392 253.3"/>
<path class="b" d="M391 217.5L392 217.5"/>
<path class="d" d="M391 342.5L392 342.5"/>
<path class="e" d="M391 266.2L391.2 266.2L392 262.2"/>
<path class="c" d="M391 306.2L391.2 306.2L392 310"/>
<path class="a" d="M392 253.3L393 253"/>
<path class="b" d="M392 217.5L393 217.5"/>
<path class="d" d="M392 342.5L392.5 342.5L393 342.5"/>
<path class="e" d="M392 262.2L393 256.9"/>
<path class="c" d="M392 310L392.5 312.5L393 315.7"/>
<path class="a" d="M393 253L394 252.6"/>
<path class="b" d="M393 217.5L393.8 217.5L394 217.3"/>
<path class="d" d="M393 342.5L394 342.5"/>
<path class="e" d="M393 256.9L393.1 256.2L394 257.1"/>
<path class="c" d="M393 315.7L393.8 320.6L394 320.8"/>
<path class="a" d="M394 252.6L394.4 252.5L395 253"/>
<path class="b" d="M394 217.3L395 216.7"/>
<path class="d" d="M394 342.5L395 342.5"/>
<path class="e" d="M394 257.1L395 258.1"/>
<path class="c" d="M394 320.8L395 321.6"/>
<path class="a" d="M395 253L396 253.8"/>
<path class="b" d="M395 216.7L395.6 216.2L396 216.8"/>
<path class="d" d="M395 342.5L396 342.5"/>
<path class="e" d="M395 258.1L396 257.9"/>
<path class="c" d="M395 321.6L396 322.3"/>
<path class="a" d="M396 253.8L397 254.6"/>
<path class="b" d="M396 216.8L397 218.1"/>
<path class="d" d="M396 342.5L396.2 342.5L397 341"/>
<path class="e" d="M396 257.9L397 257.6"/>
<path class="c" d="M396 322.3L396.2 322.5L397 322.6"/>
<path class="a" d="M397 254.6L397.5 255L398 253.8"/>
<path class="b" d="M397 218.1L397.5 218.8L398 218.3"/>
<path class="d" d="M397 341L397.5 340L398 339.6"/>
<path class="e" d="M397 257.6L397.5 257.5L398 257.1"/>
<path class="c" d="M397 322.6L398 322.8"/>
<path class="a" d="M398 253.8L399 251.2"/>
<path class="b" d="M398 218.3L399 217.5"/>
<path class="d" d="M398 339.6L399 338.9"/>
<path class="e" d="M398 257.1L399 256.3"/>
<path class="c" d="M398 322.8L399 323"/>
<path class="a" d="M399 251.2L400 248.8"/>
<path class="b" d="M399 217.5L400 216.7"/>
<path class="d" d="M399 338.9L400 338.1"/>
<path class="e" d="M399 256.3L400 255.5"/>
<path class="c" d="M399 323L400 323.1"/>
<path class="a" d="M400 248.8L401 246"/>
<path class="b" d="M400 216.7L400.6 216.2L401 215.7"/>
<path class="d" d="M400 338.1L401 333.1"/>
<path class="e" d="M400 255.5L400.6 255L401 255"/>
<path class="c" d="M400 323.1L401 323.1"/>
<path class="a" d="M401 246L402 243.3"/>
<path class="b" d="M401 215.7L402 214.2"/>
<path class="d" d="M401 333.1L401.9 328.8L402 328.3"/>
<path class="e" d="M401 255L402 255"/>
<path class="c" d="M401 323.1L401.9 323.1L402 322.6"/>
<path class="a" d="M402 243.3L402.5 241.9L403 241.4"/>
<path class="b" d="M402 214.2L403 212.7"/>
<path class="d" d="M402 328.3L403 324.3"/>
<path class="e" d="M402 255L403 255"/>
<path class="c" d="M402 322.6L403 318"/>
<path class="a" d="M403 241.4L404 240.4"/>
<path class="b" d="M403 212.7L403.1 212.5L404 208.1"/>
<path class="d" d="M403 324.3L403.8 321.2L404 320.8"/>
<path class="e" d="M403 255L403.1 255L404 253.2"/>
<path class="c" d="M403 318L403.1 317.5L404 316.9"/>
<path class="a" d="M404 240.4L405 239.4"/>
<path class="b" d="M404 208.1L405 203.1"/>
<path class="d" d="M404 320.8L405 319.2"/>
<path class="e" d="M404 253.2L405 251.2"/>
<path class="c" d="M404 316.9L405 316.2"/>
<path class="a" d="M405 239.4L406 238.9"/>
<path class="b" d="M405 203.1L406 203.6"/>
<path class="d" d="M405 319.2L405.6 318.1L406 318.5"/>
<path class="e" d="M405 251.2L405.6 250L406 250.5"/>
<path class="c" d="M405 316.2L406 316.8"/>
<path class="a" d="M406 238.9L407 238.4"/>
<path class="b" d="M406 203.6L407 204.1"/>
<path class="d" d="M406 318.5L407 319.5"/>
<path class="e" d="M406 250.5L407 251.8"/>
<path class="c" d="M406 316.8L407 317.2"/>
<path class="a" d="M407 238.4L407.5 238.1L408 237.5"/>
<path class="b" d="M407 204.1L407.5 204.4L408 204.4"/>
<path class="d" d="M407 319.5L407.5 320L408 320.1"/>
<path class="e" d="M407 251.8L407.5 252.5L408 255"/>
<path class="c" d="M407 317.2L407.5 317.5L408 317.6"/>
<path class="a" d="M408 237.5L409 236.2"/>
<path class="b" d="M408 204.4L409 204.4"/>
<path class="d" d="M408 320.1L409 320.4"/>
<path class="e" d="M408 255L409 260"/>
<path class="c" d="M408 317.6L409 317.9"/>
<path class="a" d="M409 236.2L410 235"/>
<path class="b" d="M409 204.4L410 204.4"/>
<path class="d" d="M409 320.4L410 320.6"/>
<path class="e" d="M409 260L409.4 261.9L410 260.2"/>
<path class="c" d="M409 317.9L410 318.1"/>
<path class="a" d="M410 235L411 233.4"/>
<path class="b" d="M410 204.4L411 204.6"/>
<path class="d" d="M410 320.6L411 321"/>
<path class="e" d="M410 260.2L411 257.4"/>
<path class="c" d="M410 318.1L411 317.3"/>
<path class="a" d="M411 233.4L412 231.8"/>
<path class="b" d="M411 204.6L412 204.8"/>
<path class="d" d="M411 321L412 321.4"/>
<path class="e" d="M411 257.4L411.9 255L412 254.6"/>
<path class="c" d="M411 317.3L412 316.5"/>
<path class="a" d="M412 231.8L413 230.2"/>
<path class="b" d="M412 204.8L413 205"/>
<path class="d" d="M412 321.4L413 321.8"/>
<path class="e" d="M412 254.6L413 251.6"/>
<path class="c" d="M412 316.5L413 315.7"/>
<path class="a" d="M413 230.2L413.1 230L414 223.9"/>
<path class="b" d="M413 205L413.1 205L414 205.9"/>
<path class="d" d="M413 321.8L413.1 321.9L414 322.6"/>
<path class="e" d="M413 251.6L414 248.6"/>
<path class="c" d="M413 315.7L413.1 315.6L414 315.3"/>
<path class="a" d="M414 223.9L414.4 221.2L414.8 212.5L415 212.3"/>
<path class="b" d="M414 205.9L415 206.9"/>
<path class="d" d="M414 322.6L415 323.4"/>
<path class="e" d="M414 248.6L414.4 247.5L415 246.4"/>
<path class="c" d="M414 315.3L415 314.9"/>
<path class="a" d="M415 212.3L416 211.4"/>
<path class="b" d="M415 206.9L415.6 207.5L416 207.6"/>
<path class="d" d="M415 323.4L416 324.2"/>
<path class="e" d="M415 246.4L416 244.7"/>
<path class="c" d="M415 314.9L416 314.5"/>
<path class="a" d="M416 211.4L416.9 210.6L417 210.9"/>
<path class="b" d="M416 207.6L417 207.8"/>
<path class="d" d="M416 324.2L416.2 324.4L417 325.5"/>
<path class="e" d="M416 244.7L416.9 243.1L417 243.1"/>
<path class="c" d="M416 314.5L416.2 314.4L417 312.6"/>
<path class="a" d="M417 210.9L418 213.2"/>
<path class="b" d="M417 207.8L418 208.1"/>
<path class="d" d="M417 325.5L418 327"/>
<path class="e" d="M417 243.1L418 243.1"/>
<path class="c" d="M417 312.6L418 310.3"/>
<path class="a" d="M418 213.2L418.8 215L419 216.2"/>
<path class="b" d="M418 208.1L418.1 208.1L419 209.4"/>
<path class="d" d="M418 327L418.8 328.1L419 328.5"/>
<path class="e" d="M418 243.1L419 243.1"/>
<path class="c" d="M418 310.3L418.1 310L419 307.9"/>
<path class="a" d="M419 216.2L420 221.2"/>
<path class="b" d="M419 209.4L420 210.9"/>
<path class="d" d="M419 328.5L420 330"/>
<path class="e" d="M419 243.1L419.4 243.1L420 245.4"/>
<path class="c" d="M419 307.9L420 305.6"/>
<path class="a" d="M420 221.2L421 219.8"/>
<path class="b" d="M420 210.9L420.6 211.9L421 211.9"/>
<path class="d" d="M420 330L421 331.5"/>
<path class="e" d="M420 245.4L421 249.1"/>
<path class="c" d="M420 305.6L420.2 296.9L421 292"/>
<path class="a" d="M421 219.8L422 218.4"/>
<path class="b" d="M421 211.9L422 211.9"/>
<path class="d" d="M421 331.5L421.2 331.9L422 331.5"/>
<path class="e" d="M421 249.1L421.2 250L422 250.4"/>
<path class="c" d="M421 292L421.5 288.8L422 291.3"/>
<path class="a" d="M422 218.4L423 217"/>
<path class="b" d="M422 211.9L423 211.9"/>
<path class="d" d="M422 331.5L423 331"/>
<path class="e" d="M422 250.4L423 250.9"/>
<path class="c" d="M422 291.3L423 296.3"/>
<path class="a" d="M423 217L423.1 216.9L424 222.6"/>
<path class="b" d="M423 211.9L423.1 211.9L424 213.2"/>
<path class="d" d="M423 331L423.8 330.6L424 330.4"/>
<path class="e" d="M423 250.9L423.8 251.2L424 253"/>
<path class="c" d="M423 296.3L423.1 296.9L424 293.1"/>
<path class="a" d="M424 222.6L424.4 225L425 228.1"/>
<path class="b" d="M424 213.2L425 214.7"/>
<path class="d" d="M424 330.4L425 329.7"/>
<path class="e" d="M424 253L425 260"/>
<path class="c" d="M424 293.1L425 288.8"/>
<path class="a" d="M425 228.1L425.6 231.2L426 231.4"/>
<path class="b" d="M425 214.7L425.6 215.6L426 216.7"/>
<path class="d" d="M425 329.7L426 328.9"/>
<path class="e" d="M425 260L425.6 271.9L426 271.4"/>
<path class="c" d="M425 288.8L426 287.4"/>
<path class="a" d="M426 231.4L427 231.9"/>
<path class="b" d="M426 216.7L427 219.4"/>
<path class="d" d="M426 328.9L426.2 328.8L427 329.3"/>
<path class="e" d="M426 271.4L427 270.2"/>
<path class="c" d="M426 287.4L426.9 286.2L427 286.5"/>
<path class="a" d="M427 231.9L428 232.4"/>
<path class="b" d="M427 219.4L428 222.2"/>
<path class="d" d="M427 329.3L428 330.1"/>
<path class="e" d="M427 270.2L428 268.9"/>
<path class="c" d="M427 286.5L428 288.5"/>
<path class="a" d="M428 232.4L428.1 232.5L429 235.1"/>
<path class="b" d="M428 222.2L428.1 222.5L429 223.7"/>
<path class="d" d="M428 330.1L429 330.9"/>
<path class="e" d="M428 268.9L428.1 268.8L429 268.4"/>
<path class="c" d="M428 288.5L429 290.5"/>
<path class="a" d="M429 235.1L429.4 236.2L430 234.4"/>
<path class="b" d="M429 223.7L430 225"/>
<path class="d" d="M429 330.9L429.4 331.2L430 330.3"/>
<path class="e" d="M429 268.4L430 268"/>
<path class="c" d="M429 290.5L429.4 291.2L430 288.1"/>
<path class="a" d="M430 234.4L431 231.4"/>
<path class="b" d="M430 225L431 224.5"/>
<path class="d" d="M430 330.3L431 328.8"/>
<path class="e" d="M430 268L431 267.6"/>
<path class="c" d="M430 288.1L430.6 285L431 279.7"/>
<path class="a" d="M431 231.4L431.2 230.6L432 231.6"/>
<path class="b" d="M431 224.5L432 224"/>
<path class="d" d="M431 328.8L431.9 327.5L432 327.5"/>
<path class="e" d="M431 267.6L431.2 267.5L432 266"/>
<path class="c" d="M431 279.7L431.2 276.2L432 275.5"/>
<path class="a" d="M432 231.6L433 232.8"/>
<path class="b" d="M432 224L432.5 223.8L433 223.8"/>
<path class="d" d="M432 327.5L433 327.1"/>
<path class="e" d="M432 266L433 264"/>
<path class="c" d="M432 275.5L433 274.5"/>
<path class="a" d="M433 232.8L433.8 233.8L434 233.8"/>
<path class="b" d="M433 223.8L434 223.8"/>
<path class="d" d="M433 327.1L434 326.7"/>
<path class="e" d="M433 264L434 262"/>
<path class="c" d="M433 274.5L433.1 274.4L434 276.1"/>
<path class="a" d="M434 233.8L435 234"/>
<path class="b" d="M434 223.8L435 223.8"/>
<path class="d" d="M434 326.7L435 326.2"/>
<path class="e" d="M434 262L434.4 261.2L435 260.4"/>
<path class="c" d="M434 276.1L435 278.1"/>
<path class="a" d="M435 234L436 234.1"/>
<path class="b" d="M435 223.8L436 223.2"/>
<path class="d" d="M435 326.2L436 327.5"/>
<path class="e" d="M435 260.4L436 259"/>
<path class="c" d="M435 278.1L436 278.7"/>
<path class="a" d="M436 234.1L437 234.3"/>
<path class="b" d="M436 223.2L437 222.6"/>
<path class="d" d="M436 327.5L437 328.8"/>
<path class="e" d="M436 259L437 257.6"/>
<path class="c" d="M436 278.7L437 279.3"/>
<path class="a" d="M437 234.3L437.5 234.4L438 234.5"/>
<path class="b" d="M437 222.6L438 222"/>
<path class="d" d="M437 328.8L437.5 329.4L438 330.1"/>
<path class="e" d="M437 257.6L437.5 256.9L438 257"/>
<path class="c" d="M437 279.3L438 279.9"/>
<path class="a" d="M438 234.5L439 234.8"/>
<path class="b" d="M438 222L438.1 221.9L439 222.8"/>
<path class="d" d="M438 330.1L439 331.6"/>
<path class="e" d="M438 257L439 257.4"/>
<path class="c" d="M438 279.9L438.1 280L439 280.6"/>
<path class="a" d="M439 234.8L440 235"/>
<path class="b" d="M439 222.8L440 223.8"/>
<path class="d" d="M439 331.6L440 333.1"/>
<path class="e" d="M439 257.4L439.4 257.5L440 259.7"/>
<path class="c" d="M439 280.6L440 281.2"/>
<path class="a" d="M440 235L441 237.7"/>
<path class="b" d="M440 223.8L441 224.8"/>
<path class="d" d="M440 333.1L441 332.7"/>
<path class="e" d="M440 259.7L441 263.2"/>
<path class="c" d="M440 281.2L441 284.2"/>
<path class="a" d="M441 237.7L441.9 240L442 240.1"/>
<path class="b" d="M441 224.8L441.2 225L442 225"/>
<path class="d" d="M441 332.7L442 332.3"/>
<path class="e" d="M441 263.2L441.9 266.2L442 266.7"/>
<path class="c" d="M441 284.2L441.9 286.9L442 287"/>
<path class="a" d="M442 240.1L443 241.1"/>
<path class="b" d="M442 225L443 225"/>
<path class="d" d="M442 332.3L443 331.9"/>
<path class="e" d="M442 266.7L443 270.7"/>
<path class="c" d="M442 287L443 288"/>
<path class="a" d="M443 241.1L444 242.1"/>
<path class="b" d="M443 225L444 225"/>
<path class="d" d="M443 331.9L443.1 331.9L444 332.1"/>
<path class="e" d="M443 270.7L443.8 273.8L444 274"/>
<path class="c" d="M443 288L443.8 288.8L444 288"/>
<path class="a" d="M444 242.1L444.4 242.5L445 242.3"/>
<path class="b" d="M444 225L444.4 225L445 224.2"/>
<path class="d" d="M444 332.1L445 332.3"/>
<path class="e" d="M444 274L445 275"/>
<path class="c" d="M444 288L445 285"/>
<path class="a" d="M445 242.3L446 242.1"/>
<path class="b" d="M445 224.2L446 223"/>
<path class="d" d="M445 332.3L446 332.5"/>
<path class="e" d="M445 275L446 275.5"/>
<path class="c" d="M445 285L445.6 283.1L446 283"/>
<path class="a" d="M446 242.1L446.9 241.9L447 241.8"/>
<path class="b" d="M446 223L446.9 221.9L447 221.7"/>
<path class="d" d="M446 332.5L446.2 332.5L447 332.1"/>
<path class="e" d="M446 275.5L447 276"/>
<path class="c" d="M446 283L447 282.6"/>
<path class="a" d="M447 241.8L448 240.8"/>
<path class="b" d="M447 221.7L448 219.9"/>
<path class="d" d="M447 332.1L448 331.6"/>
<path class="e" d="M447 276L448 276.5"/>
<path class="c" d="M447 282.6L448 282.2"/>
<path class="a" d="M448 240.8L448.8 240L449 240.4"/>
<path class="b" d="M448 219.9L449 218.2"/>
<path class="d" d="M448 331.6L448.8 331.2L449 331.5"/>
<path class="e" d="M448 276.5L448.8 276.9L449 277.6"/>
<path class="c" d="M448 282.2L448.8 281.9L449 281"/>
<path class="a" d="M449 240.4L450 241.9"/>
<path class="b" d="M449 218.2L449.4 217.5L450 225"/>
<path class="d" d="M449 331.5L450 332.5"/>
<path class="e" d="M449 277.6L450 280.6"/>
<path class="c" d="M449 281L450 277.5"/>
<path class="a" d="M450 241.9L451 241.3"/>
<path class="b" d="M450 225L451 224.2"/>
<path class="d" d="M450 332.5L451 333"/>
<path class="e" d="M450 280.6L450.6 282.5L451 284.1"/>
<path class="c" d="M450 277.5L451 283.5"/>
<path class="a" d="M451 241.3L452 240.7"/>
<path class="b" d="M451 224.2L452 223.5"/>
<path class="d" d="M451 333L452 333.5"/>
<path class="e" d="M451 284.1L452 288.5"/>
<path class="c" d="M451 283.5L451.2 285L452 282.2"/>
<path class="a" d="M452 240.7L453 240.1"/>
<path class="b" d="M452 223.5L452.5 223.1L453 222.6"/>
<path class="d" d="M452 333.5L452.5 333.8L453 334.5"/>
<path class="e" d="M452 288.5L452.5 290.6L453 288.9"/>
<path class="c" d="M452 282.2L453 278.6"/>
<path class="a" d="M453 240.1L453.1 240L454 236.5"/>
<path class="b" d="M453 222.6L454 221.6"/>
<path class="d" d="M453 334.5L454 336"/>
<path class="e" d="M453 288.9L454 285.4"/>
<path class="c" d="M453 278.6L453.1 278.1L454 279.4"/>
<path class="a" d="M454 236.5L455 232.5"/>
<path class="b" d="M454 221.6L455 220.6"/>
<path class="d" d="M454 336L455 337.5"/>
<path class="e" d="M454 285.4L455 281.9"/>
<path class="c" d="M454 279.4L455 280.9"/>
<path class="a" d="M455 232.5L456 228.8"/>
<path class="b" d="M455 220.6L456 214.1"/>
<path class="d" d="M455 337.5L456 332.8"/>
<path class="e" d="M455 281.9L456 281.6"/>
<path class="c" d="M455 280.9L455.6 281.9L456 281.2"/>
<path class="a" d="M456 228.8L456.9 225.6L457 226.1"/>
<path class="b" d="M456 214.1L456.2 212.5L456.9 205.6L457 205.4"/>
<path class="d" d="M456 332.8L456.9 328.8L457 328.7"/>
<path class="e" d="M456 281.6L457 281.4"/>
<path class="c" d="M456 281.2L457 279.6"/>
<path class="a" d="M457 226.1L458 230.5"/>
<path class="b" d="M457 205.4L458 203.9"/>
<path class="d" d="M457 328.7L458 328.3"/>
<path class="e" d="M457 281.4L457.5 281.2L458 282.3"/>
<path class="c" d="M457 279.6L457.5 278.8L458 278.8"/>
<path class="a" d="M458 230.5L458.8 233.8L459 234.9"/>
<path class="b" d="M458 203.9L459 202.4"/>
<path class="d" d="M458 328.3L459 327.9"/>
<path class="e" d="M458 282.3L459 284.5"/>
<path class="c" d="M458 278.8L459 278.8"/>
<path class="a" d="M459 234.9L460 239.6"/>
<path class="b" d="M459 202.4L459.4 201.9L460 202.3"/>
<path class="d" d="M459 327.9L460 327.5"/>
<path class="e" d="M459 284.5L460 286.7"/>
<path class="c" d="M459 278.8L460 278.8"/>
<path class="a" d="M460 239.6L460.6 242.5L461 241.7"/>
<path class="b" d="M460 202.3L461 203"/>
<path class="d" d="M460 327.5L461 326.1"/>
<path class="e" d="M460 286.7L461 288.8"/>
<path class="c" d="M460 278.8L461 278.8"/>
<path class="a" d="M461 241.7L462 239.7"/>
<path class="b" d="M461 203L461.2 203.1L462 200.9"/>
<path class="d" d="M461 326.1L462 324.7"/>
<path class="e" d="M461 288.8L461.2 289.4L462 286.2"/>
<path class="c" d="M461 278.8L461.9 278.8L462 278.5"/>
<path class="a" d="M462 239.7L462.5 238.8L463 237.1"/>
<path class="b" d="M462 200.9L463 197.9"/>
<path class="d" d="M462 324.7L463 323.3"/>
<path class="e" d="M462 286.2L463 281.9"/>
<path class="c" d="M462 278.5L463 276.2"/>
<path class="a" d="M463 237.1L464 233.8"/>
<path class="b" d="M463 197.9L463.1 197.5L464 198.8"/>
<path class="d" d="M463 323.3L463.1 323.1L464 325.2"/>
<path class="e" d="M463 281.9L463.8 278.8L464 277.2"/>
<path class="c" d="M463 276.2L464 274"/>
<path class="a" d="M464 233.8L464.4 232.5L465 231.3"/>
<path class="b" d="M464 198.8L465 200.3"/>
<path class="d" d="M464 325.2L465 327.5"/>
<path class="e" d="M464 277.2L465 271.2"/>
<path class="c" d="M464 274L464.4 273.1L465 272.2"/>
<path class="a" d="M465 231.3L466 229.3"/>
<path class="b" d="M465 200.3L465.6 201.2L466 201.2"/>
<path class="d" d="M465 327.5L466 329.7"/>
<path class="e" d="M465 271.2L466 265.2"/>
<path class="c" d="M465 272.2L466 270.7"/>
<path class="a" d="M466 229.3L466.9 227.5L467 227.4"/>
<path class="b" d="M466 201.2L467 201"/>
<path class="d" d="M466 329.7L467 332"/>
<path class="e" d="M466 265.2L466.2 263.8L467 263.2"/>
<path class="c" d="M466 270.7L466.9 269.4L467 269.4"/>
<path class="a" d="M467 227.4L468 226.8"/>
<path class="b" d="M467 201L468 200.8"/>
<path class="d" d="M467 332L467.5 333.1L468 333.9"/>
<path class="e" d="M467 263.2L468 262.4"/>
<path class="c" d="M467 269.4L468 269.8"/>
<path class="a" d="M468 226.8L469 226.1"/>
<path class="b" d="M468 200.8L468.8 200.6L469 199.1"/>
<path class="d" d="M468 333.9L468.8 335L469 339"/>
<path class="e" d="M468 262.4L468.8 261.9L469 262.8"/>
<path class="c" d="M468 269.8L469 270.2"/>
<path class="a" d="M469 226.1L470 225.4"/>
<path class="b" d="M469 199.1L470 193.1"/>
<path class="d" d="M469 339L469.4 345L470 339.7"/>
<path class="e" d="M469 262.8L470 266.5"/>
<path class="c" d="M469 270.2L470 270.6"/>
<path class="a" d="M470 225.4L470.6 225L471 225.4"/>
<path class="b" d="M470 193.1L470.6 189.4L471 189.2"/>
<path class="d" d="M470 339.7L470.6 334.4L471 328"/>
<path class="e" d="M470 266.5L470.6 268.8L471 269.3"/>
<path class="c" d="M470 270.6L471 270.6"/>
<path class="a" d="M471 225.4L472 226.4"/>
<path class="b" d="M471 189.2L472 188.7"/>
<path class="d" d="M471 328L471.2 323.8L472 322.2"/>
<path class="e" d="M471 269.3L472 270.8"/>
<path class="c" d="M471 270.6L472 270.6"/>
<path class="a" d="M472 226.4L473 227.4"/>
<path class="b" d="M472 188.7L473 188.2"/>
<path class="d" d="M472 322.2L473 320.2"/>
<path class="e" d="M472 270.8L473 272.3"/>
<path class="c" d="M472 270.6L473 270.6"/>
<path class="a" d="M473 227.4L473.1 227.5L474 228.2"/>
<path class="b" d="M473 188.2L473.1 188.1L474 186.7"/>
<path class="d" d="M473 320.2L473.1 320L474 318.2"/>
<path class="e" d="M473 272.3L473.1 272.5L474 274"/>
<path class="c" d="M473 270.6L473.1 270.6L474 270.6"/>
<path class="a" d="M474 228.2L475 229"/>
<path class="b" d="M474 186.7L475 185"/>
<path class="d" d="M474 318.2L475 316.2"/>
<path class="e" d="M474 274L475 275.6"/>
<path class="c" d="M474 270.6L475 270.6"/>
<path class="a" d="M475 229L476 229.8"/>
<path class="b" d="M475 185L476 188.5"/>
<path class="d" d="M475 316.2L476 316.2"/>
<path class="e" d="M475 275.6L476 277.6"/>
<path class="c" d="M475 270.6L476 270.6"/>
<path class="a" d="M476 229.8L476.2 230L477 230.1"/>
<path class="b" d="M476 188.5L477 192"/>
<path class="d" d="M476 316.2L477 316.2"/>
<path class="e" d="M476 277.6L477 279.6"/>
<path class="c" d="M476 270.6L476.9 270.6L477 270.6"/>
<path class="a" d="M477 230.1L478 230.3"/>
<path class="b" d="M477 192L477.5 193.8L478 193.5"/>
<path class="d" d="M477 316.2L477.5 316.2L478 316"/>
<path class="e" d="M477 279.6L477.5 280.6L478 280"/>
<path class="c" d="M477 270.6L478 270.6"/>
<path class="a" d="M478 230.3L479 230.5"/>
<path class="b" d="M478 193.5L479 193"/>
<path class="d" d="M478 316L479 315.4"/>
<path class="e" d="M478 280L479 278.7"/>
<path class="c" d="M478 270.6L479 270.6"/>
<path class="a" d="M479 230.5L479.4 230.6L480 230.4"/>
<path class="b" d="M479 193L480 192.5"/>
<path class="d" d="M479 315.4L480 314.8"/>
<path class="e" d="M479 278.7L480 277.5"/>
<path class="c" d="M479 270.6L480 270.6"/>
<path class="a" d="M480 230.4L481 230"/>
<path class="b" d="M480 192.5L481 187.5"/>
<path class="d" d="M480 314.8L480.6 314.4L481 313.4"/>
<path class="e" d="M480 277.5L481 274.9"/>
<path class="c" d="M480 270.6L481 268"/>
<path class="a" d="M481 230L482 229.6"/>
<path class="b" d="M481 187.5L481.9 183.1L482 182.5"/>
<path class="d" d="M481 313.4L482 310.7"/>
<path class="e" d="M481 274.9L482 272.3"/>
<path class="c" d="M481 268L481.9 265.6L482 265.8"/>
<path class="a" d="M482 229.6L482.5 229.4L483 229"/>
<path class="b" d="M482 182.5L483 176.9"/>
<path class="d" d="M482 310.7L482.5 309.4L483 307.6"/>
<path class="e" d="M482 272.3L483 269.7"/>
<path class="c" d="M482 265.8L483 267.6"/>
<path class="a" d="M483 229L484 228.3"/>
<path class="b" d="M483 176.9L483.1 176.2L484 172.3"/>
<path class="d" d="M483 307.6L483.8 305L484 305.2"/>
<path class="e" d="M483 269.7L483.1 269.4L484 270.1"/>
<path class="c" d="M483 267.6L484 269.3"/>
<path class="a" d="M484 228.3L485 227.5"/>
<path class="b" d="M484 172.3L484.4 170.6L485 170.5"/>
<path class="d" d="M484 305.2L485 305.9"/>
<path class="e" d="M484 270.1L485 270.9"/>
<path class="c" d="M484 269.3L484.4 270L485 270"/>
<path class="a" d="M485 227.5L486 226.7"/>
<path class="b" d="M485 170.5L486 170.3"/>
<path class="d" d="M485 305.9L486 306.7"/>
<path class="e" d="M485 270.9L486 271.7"/>
<path class="c" d="M485 270L486 270"/>
<path class="a" d="M486 226.7L487 226"/>
<path class="b" d="M486 170.3L487 170.1"/>
<path class="d" d="M486 306.7L486.2 306.9L487 306.3"/>
<path class="e" d="M486 271.7L486.2 271.9L487 272.4"/>
<path class="c" d="M486 270L486.9 270L487 270.4"/>
<path class="a" d="M487 226L487.5 225.6L488 224.5"/>
<path class="b" d="M487 170.1L487.5 170L488 170.8"/>
<path class="d" d="M487 306.3L488 305.6"/>
<path class="e" d="M487 272.4L488 273.2"/>
<path class="c" d="M487 270.4L488 273.4"/>
<path class="a" d="M488 224.5L489 222.2"/>
<path class="b" d="M488 170.8L489 172.2"/>
<path class="d" d="M488 305.6L488.8 305L489 304.9"/>
<path class="e" d="M488 273.2L488.8 273.8L489 273.8"/>
<path class="c" d="M488 273.4L488.8 275.6L489 274.2"/>
<path class="a" d="M489 222.2L490 220"/>
<path class="b" d="M489 172.2L490 173.8"/>
<path class="d" d="M489 304.9L490 304.6"/>
<path class="e" d="M489 273.8L490 273.8"/>
<path class="c" d="M489 274.2L490 268.5"/>
<path class="a" d="M490 220L491 215.3"/>
<path class="b" d="M490 173.8L491 168.1"/>
<path class="d" d="M490 304.6L490.6 304.4L491 299.5"/>
<path class="e" d="M490 273.8L491 273.8"/>
<path class="c" d="M490 268.5L490.6 265L491 263"/>
<path class="a" d="M491 215.3L491.9 211.2L492 210.6"/>
<path class="b" d="M491 168.1L491.9 163.1L492 163"/>
<path class="d" d="M491 299.5L491.2 296.2L492 291"/>
<path class="e" d="M491 273.8L491.9 273.8L492 273.4"/>
<path class="c" d="M491 263L492 257.7"/>
<path class="a" d="M492 210.6L493 205.6"/>
<path class="b" d="M492 163L493 161.6"/>
<path class="d" d="M492 291L492.5 287.5L493 287.2"/>
<path class="e" d="M492 273.4L493 270.8"/>
<path class="c" d="M492 257.7L492.5 255L493 255.2"/>
<path class="a" d="M493 205.6L493.8 201.9L494 201.8"/>
<path class="b" d="M493 161.6L493.8 160.6L494 161.4"/>
<path class="d" d="M493 287.2L494 286.5"/>
<path class="e" d="M493 270.8L493.8 268.8L494 268.8"/>
<path class="c" d="M493 255.2L494 255.5"/>
<path class="a" d="M494 201.8L495 201.2"/>
<path class="b" d="M494 161.4L495 164.4"/>
<path class="d" d="M494 286.5L494.4 286.2L495 287.2"/>
<path class="e" d="M494 268.8L495 268.8"/>
<path class="c" d="M494 255.5L494.4 255.6L495 258.5"/>
<path class="a" d="M495 201.2L496 200.7"/>
<path class="b" d="M495 164.4L495.6 166.2L496 167.3"/>
<path class="d" d="M495 287.2L496 288.7"/>
<path class="e" d="M495 268.8L496 268.8"/>
<path class="c" d="M495 258.5L496 263.2"/>
<path class="a" d="M496 200.7L496.2 200.6L497 202.3"/>
<path class="b" d="M496 167.3L497 170"/>
<path class="d" d="M496 288.7L496.9 290L497 290.2"/>
<path class="e" d="M496 268.8L496.9 268.8L497 268.7"/>
<path class="c" d="M496 263.2L496.2 264.4L497 262.6"/>
<path class="a" d="M497 202.3L498 204.6"/>
<path class="b" d="M497 170L498 172.8"/>
<path class="d" d="M497 290.2L498 292.2"/>
<path class="e" d="M497 268.7L498 268.1"/>
<path class="c" d="M497 262.6L498 260.3"/>
<path class="a" d="M498 204.6L498.8 206.2L499 208.8"/>
<path class="b" d="M498 172.8L498.1 173.1L499 176.9"/>
<path class="d" d="M498 292.2L498.8 293.8L499 295.7"/>
<path class="e" d="M498 268.1L499 267.5"/>
<path class="c" d="M498 260.3L498.1 260L499 261.1"/>
<path class="a" d="M499 208.8L500 218.8"/>
<path class="b" d="M499 176.9L500 181.2"/>
<path class="d" d="M499 295.7L499.4 298.8L500 306.2"/>
<path class="e" d="M499 267.5L500 266.9"/>
<path class="c" d="M499 261.1L500 262.3"/>
<path class="a" d="M500 218.8L500.6 228.8L501 227.2"/>
<path class="b" d="M500 181.2L501 171.6"/>
<path class="d" d="M500 306.2L501 301.9"/>
<path class="e" d="M500 266.9L501 266"/>
<path class="c" d="M500 262.3L500.6 263.1L501 261.2"/>
<path class="a" d="M501 227.2L502 223.2"/>
<path class="b" d="M501 171.6L501.9 163.1L502 163.2"/>
<path class="d" d="M501 301.9L501.9 298.1L502 298.9"/>
<path class="e" d="M501 266L502 265.2"/>
<path class="c" d="M501 261.2L502 256.2"/>
<path class="a" d="M502 223.2L502.5 221.2L503 225.2"/>
<path class="b" d="M502 163.2L503 163.5"/>
<path class="d" d="M502 298.9L503 305.6"/>
<path class="e" d="M502 265.2L503 264.4"/>
<path class="c" d="M502 256.2L502.5 253.8L503 253.5"/>
<path class="a" d="M503 225.2L503.8 231.2L504 245.6"/>
<path class="b" d="M503 163.5L503.8 163.8L504 163.2"/>
<path class="d" d="M503 305.6L503.8 310.6L504 309.2"/>
<path class="e" d="M503 264.4L503.8 263.8L504 263.4"/>
<path class="c" d="M503 253.5L504 253"/>
<path class="a" d="M504 245.6L505 236.2"/>
<path class="b" d="M504 163.2L505 161.2"/>
<path class="d" d="M504 309.2L505 303.5"/>
<path class="e" d="M504 263.4L505 262"/>
<path class="c" d="M504 253L505 252.5"/>
<path class="a" d="M505 236.2L506 230.3"/>
<path class="b" d="M505 161.2L506 159.2"/>
<path class="d" d="M505 303.5L505.6 300L506 300.4"/>
<path class="e" d="M505 262L506 260.6"/>
<path class="c" d="M505 252.5L506 246.5"/>
<path class="a" d="M506 230.3L506.9 225L507 225.4"/>
<path class="b" d="M506 159.2L506.2 158.8L507 162.5"/>
<path class="d" d="M506 300.4L507 301.4"/>
<path class="e" d="M506 260.6L506.9 259.4L507 259.6"/>
<path class="c" d="M506 246.5L506.2 245L507 246.5"/>
<path class="a" d="M507 225.4L508 228.4"/>
<path class="b" d="M507 162.5L508 167.5"/>
<path class="d" d="M507 301.4L507.5 301.9L508 302.4"/>
<path class="e" d="M507 259.6L508 261.6"/>
<path class="c" d="M507 246.5L508 248.5"/>
<path class="a" d="M508 228.4L509 231.4"/>
<path class="b" d="M508 167.5L508.1 168.1L509 168.4"/>
<path class="d" d="M508 302.4L509 303.4"/>
<path class="e" d="M508 261.6L508.8 263.1L509 264.4"/>
<path class="c" d="M508 248.5L508.8 250L509 249.9"/>
<path class="a" d="M509 231.4L509.4 232.5L510 229.2"/>
<path class="b" d="M509 168.4L510 168.8"/>
<path class="d" d="M509 303.4L510 304.4"/>
<path class="e" d="M509 264.4L510 269.4"/>
<path class="c" d="M509 249.9L510 249.7"/>
<path class="a" d="M510 229.2L511 223.8"/>
<path class="b" d="M510 168.8L511 165.4"/>
<path class="d" d="M510 304.4L511 304.4"/>
<path class="e" d="M510 269.4L510.6 272.5L511 271.7"/>
<path class="c" d="M510 249.7L511 249.4"/>
<path class="a" d="M511 223.8L511.2 222.5L512 212.4"/>
<path class="b" d="M511 165.4L511.9 162.5L512 162.1"/>
<path class="d" d="M511 304.4L512 304.4"/>
<path class="e" d="M511 271.7L512 269.7"/>
<path class="c" d="M511 249.4L511.2 249.4L512 248.8"/>
<path class="a" d="M512 212.4L512.5 205.6L513 207.8"/>
<path class="b" d="M512 162.1L513 158.6"/>
<path class="d" d="M512 304.4L512.5 304.4L513 302.2"/>
<path class="e" d="M512 269.7L513 267.7"/>
<path class="c" d="M512 248.8L513 248.1"/>
<path class="a" d="M513 207.8L514 212.1"/>
<path class="b" d="M513 158.6L514 155.1"/>
<path class="d" d="M513 302.2L514 297.9"/>
<path class="e" d="M513 267.7L513.1 267.5L514 265.7"/>
<path class="c" d="M513 248.1L513.8 247.5L514 246.8"/>
<path class="a" d="M514 212.1L514.4 213.8L515 215.4"/>
<path class="b" d="M514 155.1L514.4 153.8L515 160.4"/>
<path class="d" d="M514 297.9L514.4 296.2L515 300.6"/>
<path class="e" d="M514 265.7L515 263.8"/>
<path class="c" d="M514 246.8L515 243.8"/>
<path class="a" d="M515 215.4L516 218.1"/>
<path class="b" d="M515 160.4L516 171.1"/>
<path class="d" d="M515 300.6L516 307.6"/>
<path class="e" d="M515 263.8L516 267.7"/>
<path class="c" d="M515 243.8L516 256.3"/>
<path class="a" d="M516 218.1L516.2 218.8L517 215.2"/>
<path class="b" d="M516 171.1L516.2 173.8L517 168.7"/>
<path class="d" d="M516 307.6L516.2 309.4L517 304.1"/>
<path class="e" d="M516 267.7L516.9 271.2L517 270.4"/>
<path class="c" d="M516 256.3L516.2 259.4L517 252.4"/>
<path class="a" d="M517 215.2L518 210.6"/>
<path class="b" d="M517 168.7L518 162.1"/>
<path class="d" d="M517 304.1L518 297.1"/>
<path class="e" d="M517 270.4L518 263.3"/>
<path class="c" d="M517 252.4L518 243"/>
<path class="a" d="M518 210.6L518.1 210L518.8 201.9L519 201.5"/>
<path class="b" d="M518 162.1L518.1 161.2L519 153.4"/>
<path class="d" d="M518 297.1L518.1 296.2L519 294.7"/>
<path class="e" d="M518 263.3L518.1 262.5L519 258.4"/>
<path class="c" d="M518 243L518.1 241.9L519 241"/>
<path class="a" d="M519 201.5L520 199.8"/>
<path class="b" d="M519 153.4L519.4 150L520 146.3"/>
<path class="d" d="M519 294.7L520 293"/>
<path class="e" d="M519 258.4L520 253.8"/>
<path class="c" d="M519 241L520 240"/>
<path class="a" d="M520 199.8L520.6 198.8L521 198.6"/>
<path class="b" d="M520 146.3L521 140.3"/>
<path class="d" d="M520 293L520.6 291.9L521 287.2"/>
<path class="e" d="M520 253.8L521 258.7"/>
<path class="c" d="M520 240L520.6 239.4L521 235.8"/>
<path class="a" d="M521 198.6L522 198.3"/>
<path class="b" d="M521 140.3L521.2 138.8L522 134.1"/>
<path class="d" d="M521 287.2L521.9 276.2L522 275.9"/>
<path class="e" d="M521 258.7L521.9 263.1L522 263.8"/>
<path class="c" d="M521 235.8L521.9 227.5L522 228"/>
<path class="a" d="M522 198.3L522.5 198.1L523 195.4"/>
<path class="b" d="M522 134.1L522.2 132.5L523 133.8"/>
<path class="d" d="M522 275.9L523 272.9"/>
<path class="e" d="M522 263.8L523 269.9"/>
<path class="c" d="M522 228L523 232.4"/>
<path class="a" d="M523 195.4L523.8 191.2L524 190.7"/>
<path class="b" d="M523 133.8L524 135.6"/>
<path class="d" d="M523 272.9L523.8 270.6L524 270.2"/>
<path class="e" d="M523 269.9L523.1 270.6L524 273"/>
<path class="c" d="M523 232.4L523.8 235.6L524 235.2"/>
<path class="a" d="M524 190.7L525 188.7"/>
<path class="b" d="M524 135.6L524.4 136.2L525 135.8"/>
<path class="d" d="M524 270.2L525 268.4"/>
<path class="e" d="M524 273L525 275.8"/>
<path class="c" d="M524 235.2L525 233.5"/>
<path class="a" d="M525 188.7L525.6 187.5L526 187.6"/>
<path class="b" d="M525 135.8L526 135"/>
<path class="d" d="M525 268.4L526 266.7"/>
<path class="e" d="M525 275.8L525.6 277.5L526 278.6"/>
<path class="c" d="M525 233.5L525.6 232.5L526 231.5"/>
<path class="a" d="M526 187.6L527 187.8"/>
<path class="b" d="M526 135L527 134.2"/>
<path class="d" d="M526 266.7L526.2 266.2L527 267"/>
<path class="e" d="M526 278.6L526.2 279.4L527 275.1"/>
<path class="c" d="M526 231.5L527 228.8"/>
<path class="a" d="M527 187.8L528 188.1"/>
<path class="b" d="M527 134.2L527.5 133.8L528 133.3"/>
<path class="d" d="M527 267L528 268"/>
<path class="e" d="M527 275.1L528 269.4"/>
<path class="c" d="M527 228.8L527.5 227.5L528 226.5"/>
<path class="a" d="M528 188.1L528.1 188.1L529 186.1"/>
<path class="b" d="M528 133.3L529 132.5"/>
<path class="d" d="M528 268L528.1 268.1L529 264.2"/>
<path class="e" d="M528 269.4L528.1 268.8L529 264.4"/>
<path class="c" d="M528 226.5L529 224.5"/>
<path class="a" d="M529 186.1L530 183.8"/>
<path class="b" d="M529 132.5L530 131.7"/>
<path class="d" d="M529 264.2L529.4 262.5L530 261"/>
<path class="e" d="M529 264.4L529.4 262.5L530 261"/>
<path class="c" d="M529 224.5L530 222.5"/>
<path class="a" d="M530 183.8L531 179.4"/>
<path class="b" d="M530 131.7L530.6 131.2L531 131"/>
<path class="d" d="M530 261L531 258.7"/>
<path class="e" d="M530 261L531 258.7"/>
<path class="c" d="M530 222.5L531 215.2"/>
<path class="a" d="M531 179.4L531.9 175.6L532 174.4"/>
<path class="b" d="M531 131L532 130.2"/>
<path class="d" d="M531 258.7L531.2 258.1L532 254.6"/>
<path class="e" d="M531 258.7L531.2 258.1L532 254.6"/>
<path class="c" d="M531 215.2L531.9 208.8L532 208.6"/>
<path class="a" d="M532 174.4L533 163.8"/>
<path class="b" d="M532 130.2L533 129.5"/>
<path class="d" d="M532 254.6L533 249.9"/>
<path class="e" d="M532 254.6L533 249.9"/>
<path class="c" d="M532 208.6L533 207.3"/>
<path class="a" d="M533 163.8L533.1 162.5L534 157.7"/>
<path class="b" d="M533 129.5L533.1 129.4L534 122.8"/>
<path class="d" d="M533 249.9L533.1 249.4L534 244.6"/>
<path class="e" d="M533 249.9L533.1 249.4L534 244.6"/>
<path class="c" d="M533 207.3L534 206.1"/>
<path class="a" d="M534 157.7L534.4 155.6L535 154.5"/>
<path class="b" d="M534 122.8L534.4 120L535 115"/>
<path class="d" d="M534 244.6L534.4 242.5L535 240.2"/>
<path class="e" d="M534 244.6L534.4 242.5L535 240.2"/>
<path class="c" d="M534 206.1L534.4 205.6L535 204.2"/>
<path class="a" d="M535 154.5L536 152.8"/>
<path class="b" d="M535 115L536 110.3"/>
<path class="d" d="M535 240.2L536 236.5"/>
<path class="e" d="M535 240.2L536 236.5"/>
<path class="c" d="M535 204.2L536 202"/>
<path class="a" d="M536 152.8L536.9 151.2L537 147.6"/>
<path class="b" d="M536 110.3L536.9 106.2L537 103.8"/>
<path class="d" d="M536 236.5L536.2 235.6L537 228.6"/>
<path class="e" d="M536 236.5L536.2 235.6L536.9 230L537 228.4"/>
<path class="c" d="M536 202L536.9 200L537 197.1"/>
<path class="a" d="M537 147.6L537.5 132.5L538 122.4"/>
<path class="b" d="M537 103.8L537.5 93.8L538 80.6"/>
<path class="d" d="M537 228.6L537.1 227.5L538 225.3"/>
<path class="e" d="M537 228.4L538 215.3"/>
<path class="c" d="M537 197.1L537.5 185L538 176.9"/>
<path class="a" d="M538 122.4L538.1 120L539 118.3"/>
<path class="b" d="M538 80.6L538.1 77.5L539 77.5"/>
<path class="d" d="M538 225.3L538.1 225L539 224.6"/>
<path class="e" d="M538 215.3L538.1 213.8L539 208.8"/>
<path class="c" d="M538 176.9L538.1 175L539 175.9"/>
<path class="a" d="M539 118.3L539.4 117.5L540 118.3"/>
<path class="b" d="M539 77.5L540 77.5"/>
<path class="d" d="M539 224.6L539.4 224.4L540 225.8"/>
<path class="e" d="M539 208.8L540 203.1"/>
<path class="c" d="M539 175.9L539.4 176.2L540 193.8"/>
<path class="a" d="M540 118.3L541 119.7"/>
<path class="b" d="M540 77.5L541 77.5"/>
<path class="d" d="M540 225.8L541 228"/>
<path class="e" d="M540 203.1L541 208.1"/>
<path class="c" d="M540 193.8L541 189.8"/>
<path class="a" d="M541 119.7L541.2 120L542 123"/>
<path class="b" d="M541 77.5L542 77.5"/>
<path class="d" d="M541 228L541.9 230L542 230.3"/>
<path class="e" d="M541 208.1L541.9 212.5L542 213.7"/>
<path class="c" d="M541 189.8L542 185.8"/>
<path class="a" d="M542 123L543 127"/>
<path class="b" d="M542 77.5L542.5 77.5L543 87.6"/>
<path class="d" d="M542 230.3L543 233"/>
<path class="e" d="M542 213.7L542.5 218.8L543 217.8"/>
<path class="c" d="M542 185.8L542.5 183.8L543 184.7"/>
<path class="a" d="M543 127L543.1 127.5L543.8 136.2L544 138"/>
<path class="b" d="M543 87.6L543.1 90L544 95.6"/>
<path class="d" d="M543 233L543.8 235L544 236"/>
<path class="e" d="M543 217.8L544 215.8"/>
<path class="c" d="M543 184.7L544 186.7"/>
<path class="a" d="M544 138L545 145"/>
<path class="b" d="M544 95.6L545 101.9"/>
<path class="d" d="M544 236L544.4 237.5L545 239.6"/>
<path class="e" d="M544 215.8L545 213.8"/>
<path class="c" d="M544 186.7L544.4 187.5L545 190.6"/>
<path class="a" d="M545 145L546 155"/>
<path class="b" d="M545 101.9L546 102.2"/>
<path class="d" d="M545 239.6L546 242.9"/>
<path class="e" d="M545 213.8L546 214.2"/>
<path class="c" d="M545 190.6L546 195.6"/>
<path class="a" d="M546 155L546.2 157.5L546.9 163.8L547 163.7"/>
<path class="b" d="M546 102.2L546.9 102.5L547 103.2"/>
<path class="d" d="M546 242.9L546.2 243.8L547 244.5"/>
<path class="e" d="M546 214.2L547 214.8"/>
<path class="c" d="M546 195.6L546.2 196.9L547 197.4"/>
<path class="a" d="M547 163.7L548 163.2"/>
<path class="b" d="M547 103.2L548 109.4"/>
<path class="d" d="M547 244.5L548 245.5"/>
<path class="e" d="M547 214.8L547.5 215L548 216.6"/>
<path class="c" d="M547 197.4L548 198.2"/>
<path class="a" d="M548 163.2L549 162.7"/>
<path class="b" d="M548 109.4L548.5 112.5L549 109.8"/>
<path class="d" d="M548 245.5L548.1 245.6L549 243.9"/>
<path class="e" d="M548 216.6L549 219.9"/>
<path class="c" d="M548 198.2L548.8 198.8L549 198.8"/>
<path class="a" d="M549 162.7L549.4 162.5L550 164"/>
<path class="b" d="M549 109.8L550 104.5"/>
<path class="d" d="M549 243.9L550 241.9"/>
<path class="e" d="M549 219.9L550 223.1"/>
<path class="c" d="M549 198.8L550 199"/>
<path class="a" d="M550 164L551 166.4"/>
<path class="b" d="M550 104.5L550.6 101.2L551 100"/>
<path class="d" d="M550 241.9L551 242.1"/>
<path class="e" d="M550 223.1L551 217.5"/>
<path class="c" d="M550 199L551 199.1"/>
<path class="a" d="M551 166.4L552 168.8"/>
<path class="b" d="M551 100L552 96.8"/>
<path class="d" d="M551 242.1L552 242.4"/>
<path class="e" d="M551 217.5L551.9 212.5L552 211.6"/>
<path class="c" d="M551 199.1L552 199.3"/>
<path class="a" d="M552 168.8L552.5 170L553 168.8"/>
<path class="b" d="M552 96.8L553 93.5"/>
<path class="d" d="M552 242.4L552.5 242.5L553 243.2"/>
<path class="e" d="M552 211.6L553 204"/>
<path class="c" d="M552 199.3L552.5 199.4L553 199.5"/>
<path class="a" d="M553 168.8L554 166.2"/>
<path class="b" d="M553 93.5L553.1 93.1L554 94.3"/>
<path class="d" d="M553 243.2L554 244.8"/>
<path class="e" d="M553 204L553.1 203.1L554 205.2"/>
<path class="c" d="M553 199.5L554 199.8"/>
<path class="a" d="M554 166.2L555 163.8"/>
<path class="b" d="M554 94.3L555 95.6"/>
<path class="d" d="M554 244.8L555 246.2"/>
<path class="e" d="M554 205.2L555 207.5"/>
<path class="c" d="M554 199.8L555 200"/>
<path class="a" d="M555 163.8L556 157.8"/>
<path class="b" d="M555 95.6L555 96.2L556 94.6"/>
<path class="d" d="M555 246.2L556 247.2"/>
<path class="e" d="M555 207.5L555 205L556 201"/>
<path class="c" d="M555 200L556 199.5"/>
<path class="a" d="M556 157.8L556.9 152.5L557 151.8"/>
<path class="b" d="M556 94.6L557 93"/>
<path class="d" d="M556 247.2L557 248.2"/>
<path class="e" d="M556 201L557 197"/>
<path class="c" d="M556 199.5L557 199"/>
<path class="a" d="M557 151.8L558 145.7"/>
<path class="b" d="M557 93L558 91.4"/>
<path class="d" d="M557 248.2L557.5 248.8L558 250.1"/>
<path class="e" d="M557 197L557.5 195L558 194"/>
<path class="c" d="M557 199L557.5 198.8L558 202.2"/>
<path class="a" d="M558 145.7L558.1 145L559 147.3"/>
<path class="b" d="M558 91.4L558.1 91.2L559 103.5"/>
<path class="d" d="M558 250.1L559 252.7"/>
<path class="e" d="M558 194L558.8 192.5L559 193.8"/>
<path class="c" d="M558 202.2L558.8 207.5L559 208.8"/>
<path class="a" d="M559 147.3L560 150"/>
<path class="b" d="M559 103.5L559.4 108.8L560 126.2"/>
<path class="d" d="M559 252.7L559.4 253.8L560 259.4"/>
<path class="e" d="M559 193.8L560 199.2"/>
<path class="c" d="M559 208.8L560 214.2"/>
<path class="a" d="M560 150L561 152.5"/>
<path class="b" d="M560 126.2L561 129.6"/>
<path class="d" d="M560 259.4L560.6 265L561 267.3"/>
<path class="e" d="M560 199.2L560.6 202.5L561 204"/>
<path class="c" d="M560 214.2L560.6 217.5L561 219"/>
<path class="a" d="M561 152.5L561.2 153.1L562 149.4"/>
<path class="b" d="M561 129.6L561.9 132.5L562 132.7"/>
<path class="d" d="M561 267.3L561.9 272.5L562 272.5"/>
<path class="e" d="M561 204L562 208"/>
<path class="c" d="M561 219L562 223"/>
<path class="a" d="M562 149.4L563 144.4"/>
<path class="b" d="M562 132.7L563 134.7"/>
<path class="d" d="M562 272.5L563 272.5"/>
<path class="e" d="M562 208L562.5 210L563 209.7"/>
<path class="c" d="M562 223L562.5 225L563 221.3"/>
<path class="a" d="M563 144.4L563.1 143.8L563.8 136.2L564 136.1"/>
<path class="b" d="M563 134.7L563.8 136.2L564 134.6"/>
<path class="d" d="M563 272.5L564 272.5"/>
<path class="e" d="M563 209.7L564 209"/>
<path class="c" d="M563 221.3L564 214"/>
<path class="a" d="M564 136.1L565 135.3"/>
<path class="b" d="M564 134.6L565 128.1"/>
<path class="d" d="M564 272.5L564.4 272.5L565 272.2"/>
<path class="e" d="M564 209L564.4 208.8L565 205.8"/>
<path class="c" d="M564 214L564.4 211.2L565 204.4"/>
<path class="a" d="M565 135.3L566 134.5"/>
<path class="b" d="M565 128.1L566 121.6"/>
<path class="d" d="M565 272.2L566 271.7"/>
<path class="e" d="M565 205.8L566 201.2"/>
<path class="c" d="M565 204.4L566 193.4"/>
<path class="a" d="M566 134.5L566.9 133.8L567 135.7"/>
<path class="b" d="M566 121.6L566.2 120L567 123.8"/>
<path class="d" d="M566 271.7L566.9 271.2L567 271.3"/>
<path class="e" d="M566 201.2L566.2 200L567 210"/>
<path class="c" d="M566 193.4L566.2 190.6L567 194.9"/>
<path class="a" d="M567 135.7L568 151.8"/>
<path class="b" d="M567 123.8L567.5 126.2L568 126.7"/>
<path class="d" d="M567 271.3L568 271.8"/>
<path class="e" d="M567 210L568 223.4"/>
<path class="c" d="M567 194.9L568 200.6"/>
<path class="a" d="M568 151.8L568.1 153.8L569 147.6"/>
<path class="b" d="M568 126.7L569 127.5"/>
<path class="d" d="M568 271.8L569 272.3"/>
<path class="e" d="M568 223.4L568.1 225L569 217.4"/>
<path class="c" d="M568 200.6L568.1 201.2L569 196.9"/>
<path class="a" d="M569 147.6L569.4 145L570 144.6"/>
<path class="b" d="M569 127.5L570 128.3"/>
<path class="d" d="M569 272.3L569.4 272.5L570 272.1"/>
<path class="e" d="M569 217.4L570 208.8"/>
<path class="c" d="M569 196.9L570 191.9"/>
<path class="a" d="M570 144.6L571 143.9"/>
<path class="b" d="M570 128.3L570.6 128.8L571 129"/>
<path class="d" d="M570 272.1L571 271.4"/>
<path class="e" d="M570 208.8L571 203.4"/>
<path class="c" d="M570 191.9L571 189.9"/>
<path class="a" d="M571 143.9L571.2 143.8L572 143"/>
<path class="b" d="M571 129L572 129.6"/>
<path class="d" d="M571 271.4L571.2 271.2L572 271.7"/>
<path class="e" d="M571 203.4L571.9 198.8L572 198.7"/>
<path class="c" d="M571 189.9L571.9 188.1L572 188.2"/>
<path class="a" d="M572 143L573 142"/>
<path class="b" d="M572 129.6L573 130.2"/>
<path class="d" d="M572 271.7L573 272.3"/>
<path class="e" d="M572 198.7L573 198"/>
<path class="c" d="M572 188.2L573 188.4"/>
<path class="a" d="M573 142L573.8 141.2L574 141.2"/>
<path class="b" d="M573 130.2L573.8 130.6L574 130.8"/>
<path class="d" d="M573 272.3L574 272.9"/>
<path class="e" d="M573 198L573.8 197.5L574 198.8"/>
<path class="c" d="M573 188.4L574 188.7"/>
<path class="a" d="M574 141.2L575 140.9"/>
<path class="b" d="M574 130.8L575 131.6"/>
<path class="d" d="M574 272.9L574.4 273.1L575 276.2"/>
<path class="e" d="M574 198.8L575 204.2"/>
<path class="c" d="M574 188.7L574.4 188.8L575 189.6"/>
<path class="a" d="M575 140.9L576 140.7"/>
<path class="b" d="M575 131.6L576 132.4"/>
<path class="d" d="M575 276.2L576 281.2"/>
<path class="e" d="M575 204.2L575.6 207.5L576 209"/>
<path class="c" d="M575 189.6L576 190.9"/>
<path class="a" d="M576 140.7L576.2 140.6L577 139.3"/>
<path class="b" d="M576 132.4L576.9 133.1L577 133.1"/>
<path class="d" d="M576 281.2L576.2 282.5L577 282.1"/>
<path class="e" d="M576 209L577 213"/>
<path class="c" d="M576 190.9L576.2 191.2L577 189"/>
<path class="a" d="M577 139.3L578 137.6"/>
<path class="b" d="M577 133.1L578 132.9"/>
<path class="d" d="M577 282.1L578 281.6"/>
<path class="e" d="M577 213L578 217"/>
<path class="c" d="M577 189L578 186"/>
<path class="a" d="M578 137.6L578.8 136.2L579 136.1"/>
<path class="b" d="M578 132.9L579 132.7"/>
<path class="d" d="M578 281.6L578.8 281.2L579 280.9"/>
<path class="e" d="M578 217L578.1 217.5L579 215.3"/>
<path class="c" d="M578 186L578.1 185.6L579 190.6"/>
<path class="a" d="M579 136.1L580 135.4"/>
<path class="b" d="M579 132.7L580 132.5"/>
<path class="d" d="M579 280.9L580 279.5"/>
<path class="e" d="M579 215.3L580 212.8"/>
<path class="c" d="M579 190.6L580 196.2"/>
<path class="a" d="M580 135.4L580.6 135L581 131.2"/>
<path class="b" d="M580 132.5L581 131.8"/>
<path class="d" d="M580 279.5L581 278.1"/>
<path class="e" d="M580 212.8L580.6 211.2L581 209.7"/>
<path class="c" d="M580 196.2L581 197.2"/>
<path class="a" d="M581 131.2L581.9 122.5L582 122.8"/>
<path class="b" d="M581 131.8L581.9 131.2L582 132"/>
<path class="d" d="M581 278.1L581.9 276.9L582 276.9"/>
<path class="e" d="M581 209.7L582 205.7"/>
<path class="c" d="M581 197.2L582 198.2"/>
<path class="a" d="M582 122.8L583 125.1"/>
<path class="b" d="M582 132L583 138"/>
<path class="d" d="M582 276.9L583 277.3"/>
<path class="e" d="M582 205.7L583 201.7"/>
<path class="c" d="M582 198.2L582.5 198.8L583 203.4"/>
<path class="a" d="M583 125.1L583.8 126.9L584 127.5"/>
<path class="b" d="M583 138L584 144"/>
<path class="d" d="M583 277.3L584 277.7"/>
<path class="e" d="M583 201.7L583.1 201.2L584 210"/>
<path class="c" d="M583 203.4L584 212.7"/>
<path class="a" d="M584 127.5L585 130.2"/>
<path class="b" d="M584 144L584.4 146.2L585 147"/>
<path class="d" d="M584 277.7L585 278.1"/>
<path class="e" d="M584 210L585 220"/>
<path class="c" d="M584 212.7L584.4 216.2L585 212.3"/>
<path class="a" d="M585 130.2L585.6 131.9L586 132.3"/>
<path class="b" d="M585 147L586 148.2"/>
<path class="d" d="M585 278.1L586 277.7"/>
<path class="e" d="M585 220L586 224"/>
<path class="c" d="M585 212.3L586 206"/>
<path class="a" d="M586 132.3L587 133.3"/>
<path class="b" d="M586 148.2L587 149.4"/>
<path class="d" d="M586 277.7L587 277.3"/>
<path class="e" d="M586 224L586.9 227.5L587 228.1"/>
<path class="c" d="M586 206L586.2 204.4L587 203.6"/>
<path class="a" d="M587 133.3L588 134.3"/>
<path class="b" d="M587 149.4L587.5 150L588 154"/>
<path class="d" d="M587 277.3L588 276.9"/>
<path class="e" d="M587 228.1L588 232.7"/>
<path class="c" d="M587 203.6L588 202.6"/>
<path class="a" d="M588 134.3L588.1 134.4L589 140"/>
<path class="b" d="M588 154L589 162"/>
<path class="d" d="M588 276.9L588.1 276.9L589 280.7"/>
<path class="e" d="M588 232.7L588.8 236.2L589 237.3"/>
<path class="c" d="M588 202.6L588.1 202.5L589 208.4"/>
<path class="a" d="M589 140L589.4 152.5L590 160"/>
<path class="b" d="M589 162L589.4 165L590 171.2"/>
<path class="d" d="M589 280.7L590 285"/>
<path class="e" d="M589 237.3L590 241.3"/>
<path class="c" d="M589 208.4L590 215"/>
<path class="a" d="M590 160L590.6 167.5L591 169.8"/>
<path class="b" d="M590 171.2L590.6 177.5L591 179"/>
<path class="d" d="M590 285L591 283"/>
<path class="e" d="M590 241.3L590.6 243.8L591 244.2"/>
<path class="c" d="M590 215L591 219.3"/>
<path class="a" d="M591 169.8L591.9 175L592 174.7"/>
<path class="b" d="M591 179L591.9 182.5L592 181.9"/>
<path class="d" d="M591 283L592 281"/>
<path class="e" d="M591 244.2L592 245.5"/>
<path class="c" d="M591 219.3L591.9 223.1L592 222.5"/>
<path class="a" d="M592 174.7L593 172"/>
<path class="b" d="M592 181.9L593 176.5"/>
<path class="d" d="M592 281L592.5 280L593 279"/>
<path class="e" d="M592 245.5L593 246.7"/>
<path class="c" d="M592 222.5L593 217.5"/>
<path class="a" d="M593 172L593.8 170L594 169.6"/>
<path class="b" d="M593 176.5L593.8 172.5L594 170"/>
<path class="d" d="M593 279L594 277"/>
<path class="e" d="M593 246.7L593.1 246.9L594 243.1"/>
<path class="c" d="M593 217.5L593.8 213.8L594 211.2"/>
<path class="a" d="M594 169.6L595 168.1"/>
<path class="b" d="M594 170L595 160"/>
<path class="d" d="M594 277L595 275"/>
<path class="e" d="M594 243.1L595 238.8"/>
<path class="c" d="M594 211.2L595 201.2"/>
<path class="a" d="M595 168.1L596 166.6"/>
<path class="b" d="M595 160L596 153"/>
<path class="d" d="M595 275L595.6 273.8L596 274.2"/>
<path class="e" d="M595 238.8L596 238"/>
<path class="c" d="M595 201.2L596 196.2"/>
<path class="a" d="M596 166.6L596.2 166.2L597 166.4"/>
<path class="b" d="M596 153L596.2 151.2L597 151.8"/>
<path class="d" d="M596 274.2L597 275.5"/>
<path class="e" d="M596 238L597 237.3"/>
<path class="c" d="M596 196.2L596.2 195L597 201.8"/>
<path class="a" d="M597 166.4L598 166.7"/>
<path class="b" d="M597 151.8L598 152.4"/>
<path class="d" d="M597 275.5L598 276.7"/>
<path class="e" d="M597 237.3L597.5 236.9L598 238.3"/>
<path class="c" d="M597 201.8L598 210.8"/>
<path class="a" d="M598 166.7L598.8 166.9L599 166.7"/>
<path class="b" d="M598 152.4L598.1 152.5L599 154.3"/>
<path class="d" d="M598 276.7L598.1 276.9L599 276.7"/>
<path class="e" d="M598 238.3L599 241"/>
<path class="c" d="M598 210.8L598.1 211.9L599 213.3"/>
<path class="a" d="M599 166.7L600 166"/>
<path class="b" d="M599 154.3L600 156.2"/>
<path class="d" d="M599 276.7L600 276.4"/>
<path class="e" d="M599 241L600 243.8"/>
<path class="c" d="M599 213.3L600 215"/>
<path class="a" d="M600 166L601 165.4"/>
<path class="b" d="M600 156.2L601 158.9"/>
<path class="d" d="M600 276.4L600.6 276.2L601 275.5"/>
<path class="e" d="M600 243.8L601 245"/>
<path class="c" d="M600 215L601 216.7"/>
<path class="a" d="M601 165.4L602 164.7"/>
<path class="b" d="M601 158.9L601.9 161.2L602 161.7"/>
<path class="d" d="M601 275.5L602 273.5"/>
<path class="e" d="M601 245L602 246.2"/>
<path class="c" d="M601 216.7L601.9 218.1L602 218"/>
<path class="a" d="M602 164.7L602.5 164.4L603 164.1"/>
<path class="b" d="M602 161.7L603 165.2"/>
<path class="d" d="M602 273.5L603 271.5"/>
<path class="e" d="M602 246.2L603 247.4"/>
<path class="c" d="M602 218L603 217"/>
<path class="a" d="M603 164.1L604 163.5"/>
<path class="b" d="M603 165.2L603.1 165.6L604 163.6"/>
<path class="d" d="M603 271.5L603.1 271.2L604 269.5"/>
<path class="e" d="M603 247.4L603.1 247.5L604 246.8"/>
<path class="c" d="M603 217L604 216"/>
<path class="a" d="M604 163.5L605 162.9"/>
<path class="b" d="M604 163.6L605 161.2"/>
<path class="d" d="M604 269.5L605 267.5"/>
<path class="e" d="M604 246.8L605 246"/>
<path class="c" d="M604 216L605 215"/>
<path class="a" d="M605 162.9L605.6 162.5L606 162.5"/>
<path class="b" d="M605 161.2L606 158.2"/>
<path class="d" d="M605 267.5L605.6 266.2L606 265.5"/>
<path class="e" d="M605 246L606 245.2"/>
<path class="c" d="M605 215L606 215.8"/>
<path class="a" d="M606 162.5L607 162.5"/>
<path class="b" d="M606 158.2L606.2 157.5L607 159.5"/>
<path class="d" d="M606 265.5L607 263.5"/>
<path class="e" d="M606 245.2L606.2 245L607 243.5"/>
<path class="c" d="M606 215.8L607 216.5"/>
<path class="a" d="M607 162.5L608 162.5"/>
<path class="b" d="M607 159.5L608 162.2"/>
<path class="d" d="M607 263.5L608 261.5"/>
<path class="e" d="M607 243.5L608 241.5"/>
<path class="c" d="M607 216.5L607.5 216.9L608 217.3"/>
<path class="a" d="M608 162.5L608.8 162.5L609 162.1"/>
<path class="b" d="M608 162.2L608.1 162.5L609 164.8"/>
<path class="d" d="M608 261.5L608.1 261.2L609 256.9"/>
<path class="e" d="M608 241.5L608.8 240L609 239.7"/>
<path class="c" d="M608 217.3L609 218"/>
<path class="a" d="M609 162.1L610 160.6"/>
<path class="b" d="M609 164.8L610 167.5"/>
<path class="d" d="M609 256.9L609.4 255L610 250"/>
<path class="e" d="M609 239.7L610 238.4"/>
<path class="c" d="M609 218L610 218.8"/>
<path class="a" d="M610 160.6L611 159.1"/>
<path class="b" d="M610 167.5L611 169.7"/>
<path class="d" d="M610 250L611 251.2"/>
<path class="e" d="M610 238.4L611 237.2"/>
<path class="c" d="M610 218.8L611 220.8"/>
<path class="a" d="M611 159.1L611.2 158.8L612 156.9"/>
<path class="b" d="M611 169.7L612 172"/>
<path class="d" d="M611 251.2L612 252.5"/>
<path class="e" d="M611 237.2L611.2 236.9L612 236.7"/>
<path class="c" d="M611 220.8L612 222.8"/>
<path class="a" d="M612 156.9L613 154.4"/>
<path class="b" d="M612 172L612.5 173.1L613 173.3"/>
<path class="d" d="M612 252.5L612.5 253.1L613 252.9"/>
<path class="e" d="M612 236.7L613 236.5"/>
<path class="c" d="M612 222.8L612.5 223.8L613 223.6"/>
<path class="a" d="M613 154.4L613.8 152.5L614 151.2"/>
<path class="b" d="M613 173.3L614 173.6"/>
<path class="d" d="M613 252.9L614 252.5"/>
<path class="e" d="M613 236.5L614 236.3"/>
<path class="c" d="M613 223.6L614 223.4"/>
<path class="a" d="M614 151.2L615 146.2"/>
<path class="b" d="M614 173.6L614.4 173.8L615 171.1"/>
<path class="d" d="M614 252.5L615 252.1"/>
<path class="e" d="M614 236.3L614.4 236.2L615 236.9"/>
<path class="c" d="M614 223.4L615 223.1"/>
<path class="a" d="M615 146.2L616 142.2"/>
<path class="b" d="M615 171.1L616 166.7"/>
<path class="d" d="M615 252.1L615.6 251.9L616 252.5"/>
<path class="e" d="M615 236.9L616 237.9"/>
<path class="c" d="M615 223.1L616 222.5"/>
<path class="a" d="M616 142.2L616.2 141.2L617 143.5"/>
<path class="b" d="M616 166.7L616.2 165.6L617 171.2"/>
<path class="d" d="M616 252.5L617 254.1"/>
<path class="e" d="M616 237.9L616.9 238.8L617 239.5"/>
<path class="c" d="M616 222.5L617 221.9"/>
<path class="a" d="M617 143.5L618 146.5"/>
<path class="b" d="M617 171.2L617.5 175L618 176"/>
<path class="d" d="M617 254.1L618 255.7"/>
<path class="e" d="M617 239.5L618 245.5"/>
<path class="c" d="M617 221.9L618 221.3"/>
<path class="a" d="M618 146.5L618.1 146.9L619 147.1"/>
<path class="b" d="M618 176L619 178"/>
<path class="d" d="M618 255.7L618.8 256.9L619 257"/>
<path class="e" d="M618 245.5L618.1 246.2L619 243.3"/>
<path class="c" d="M618 221.3L618.1 221.2L619 218.3"/>
<path class="a" d="M619 147.1L620 147.3"/>
<path class="b" d="M619 178L619.4 178.8L620 178.6"/>
<path class="d" d="M619 257L620 257.6"/>
<path class="e" d="M619 243.3L620 240"/>
<path class="c" d="M619 218.3L620 215"/>
<path class="a" d="M620 147.3L620.6 147.5L621 149"/>
<path class="b" d="M620 178.6L621 178.3"/>
<path class="d" d="M620 257.6L621 258.2"/>
<path class="e" d="M620 240L621 242.2"/>
<path class="c" d="M620 215L621 214.6"/>
<path class="a" d="M621 149L621.9 152.5L622 153"/>
<path class="b" d="M621 178.3L621.9 178.1L622 177.6"/>
<path class="d" d="M621 258.2L621.9 258.8L622 258.5"/>
<path class="e" d="M621 242.2L622 244.5"/>
<path class="c" d="M621 214.6L622 214.2"/>
<path class="a" d="M622 153L623 157.6"/>
<path class="b" d="M622 177.6L623 173"/>
<path class="d" d="M622 258.5L623 256.8"/>
<path class="e" d="M622 244.5L622.5 245.6L623 241.4"/>
<path class="c" d="M622 214.2L623 213.8"/>
<path class="a" d="M623 157.6L623.1 158.1L624 157.2"/>
<path class="b" d="M623 173L623.1 172.5L624 162"/>
<path class="d" d="M623 256.8L624 255"/>
<path class="e" d="M623 241.4L623.8 235L624 234.2"/>
<path class="c" d="M623 213.8L623.1 213.8L624 213.3"/>
<path class="a" d="M624 157.2L625 156.2"/>
<path class="b" d="M624 162L624.4 157.5L625 155.4"/>
<path class="d" d="M624 255L624.4 254.4L625 253"/>
<path class="e" d="M624 234.2L625 230.8"/>
<path class="c" d="M624 213.3L625 212.8"/>
<path class="a" d="M625 156.2L626 153.2"/>
<path class="b" d="M625 155.4L626 152.1"/>
<path class="d" d="M625 253L626 250.7"/>
<path class="e" d="M625 230.8L625.6 228.8L626 228.6"/>
<path class="c" d="M625 212.8L626 212.3"/>
<path class="a" d="M626 153.2L626.2 152.5L627 145"/>
<path class="b" d="M626 152.1L626.2 151.2L627 146"/>
<path class="d" d="M626 250.7L626.9 248.8L627 247.4"/>
<path class="e" d="M626 228.6L627 228.2"/>
<path class="c" d="M626 212.3L626.9 211.9L627 210.9"/>
<path class="a" d="M627 145L627.5 140L628 136"/>
<path class="b" d="M627 146L627.5 142.5L628 143.8"/>
<path class="d" d="M627 247.4L628 236.3"/>
<path class="e" d="M627 228.2L628 227.8"/>
<path class="c" d="M627 210.9L628 202.3"/>
<path class="a" d="M628 136L628.1 135L629 134.1"/>
<path class="b" d="M628 143.8L629 146.2"/>
<path class="d" d="M628 236.3L628.1 235L629 233.2"/>
<path class="e" d="M628 227.8L628.8 227.5L629 227.1"/>
<path class="c" d="M628 202.3L628.1 201.2L629 198.6"/>
<path class="a" d="M629 134.1L630 133.1"/>
<path class="b" d="M629 146.2L630 148.8"/>
<path class="d" d="M629 233.2L630 231.2"/>
<path class="e" d="M629 227.1L630 225.6"/>
<path class="c" d="M629 198.6L630 195.6"/>
<path class="a" d="M630 133.1L630.6 132.5L631 132.2"/>
<path class="b" d="M630 148.8L631 152.8"/>
<path class="d" d="M630 231.2L631 229.2"/>
<path class="e" d="M630 225.6L631 224.1"/>
<path class="c" d="M630 195.6L630.6 193.8L631 193.2"/>
<path class="a" d="M631 132.2L632 131.6"/>
<path class="b" d="M631 152.8L631.2 153.8L632 155.8"/>
<path class="d" d="M631 229.2L631.2 228.8L632 227.6"/>
<path class="e" d="M631 224.1L631.2 223.8L632 223"/>
<path class="c" d="M631 193.2L632 191.9"/>
<path class="a" d="M632 131.6L632.5 131.2L633 128.2"/>
<path class="b" d="M632 155.8L633 158.4"/>
<path class="d" d="M632 227.6L633 226"/>
<path class="e" d="M632 223L633 222"/>
<path class="c" d="M632 191.9L632.5 191.2L633 191.5"/>
<path class="a" d="M633 128.2L633.8 123.8L634 123.7"/>
<path class="b" d="M633 158.4L633.1 158.8L634 162.2"/>
<path class="d" d="M633 226L634 224.4"/>
<path class="e" d="M633 222L634 221"/>
<path class="c" d="M633 191.5L634 192"/>
<path class="a" d="M634 123.7L635 123.3"/>
<path class="b" d="M634 162.2L634.4 163.8L635 161.7"/>
<path class="d" d="M634 224.4L634.4 223.8L635 222.7"/>
<path class="e" d="M634 221L634.4 220.6L635 219.4"/>
<path class="c" d="M634 192L635 192.5"/>
<path class="a" d="M635 123.3L635.6 123.1L636 122.6"/>
<path class="b" d="M635 161.7L636 158.3"/>
<path class="d" d="M635 222.7L636 220.9"/>
<path class="e" d="M635 219.4L636 217.4"/>
<path class="c" d="M635 192.5L636 193.3"/>
<path class="a" d="M636 122.6L637 121.4"/>
<path class="b" d="M636 158.3L636.2 157.5L637 156.5"/>
<path class="d" d="M636 220.9L636.9 219.4L637 220.2"/>
<path class="e" d="M636 217.4L636.9 215.6L637 215.1"/>
<path class="c" d="M636 193.3L637 194"/>
<path class="a" d="M637 121.4L638 120.1"/>
<path class="b" d="M637 156.5L638 155.2"/>
<path class="d" d="M637 220.2L638 226.7"/>
<path class="e" d="M637 215.1L638 210.8"/>
<path class="c" d="M637 194L637.5 194.4L638 195.5"/>
<path class="a" d="M638 120.1L638.1 120L639 123.5"/>
<path class="b" d="M638 155.2L638.1 155L639 155.9"/>
<path class="d" d="M638 226.7L638.1 227.5L639 229.6"/>
<path class="e" d="M638 210.8L638.8 207.5L639 207.2"/>
<path class="c" d="M638 195.5L639 197.8"/>
<path class="a" d="M639 123.5L639.4 125L640 128.1"/>
<path class="b" d="M639 155.9L640 156.9"/>
<path class="d" d="M639 229.6L640 231.9"/>
<path class="e" d="M639 207.2L640 206.2"/>
<path class="c" d="M639 197.8L640 200"/>
<path class="a" d="M640 128.1L640.6 131.2L641 132.3"/>
<path class="b" d="M640 156.9L640.6 157.5L641 156.5"/>
<path class="d" d="M640 231.9L641 230.6"/>
<path class="e" d="M640 206.2L641 205.2"/>
<path class="c" d="M640 200L641 204"/>
<path class="a" d="M641 132.3L642 134.9"/>
<path class="b" d="M641 156.5L642 153.8"/>
<path class="d" d="M641 230.6L642 229.4"/>
<path class="e" d="M641 205.2L641.2 205L642 205.4"/>
<path class="c" d="M641 204L641.2 205L642 201.5"/>
<path class="a" d="M642 134.9L642.5 136.2L643 137.2"/>
<path class="b" d="M642 153.8L642.5 152.5L643 149.5"/>
<path class="d" d="M642 229.4L642.5 228.8L643 231.2"/>
<path class="e" d="M642 205.4L643 205.9"/>
<path class="c" d="M642 201.5L643 196.8"/>
<path class="a" d="M643 137.2L644 139.2"/>
<path class="b" d="M643 149.5L643.8 145L644 143.5"/>
<path class="d" d="M643 231.2L643.8 235L644 236.8"/>
<path class="e" d="M643 205.9L643.8 206.2L644 206.9"/>
<path class="c" d="M643 196.8L643.1 196.2L644 198.9"/>
<path class="a" d="M644 139.2L644.4 140L645 143.1"/>
<path class="b" d="M644 143.5L644.4 141.2L645 140.5"/>
<path class="d" d="M644 236.8L645 243.8"/>
<path class="e" d="M644 206.9L645 209.7"/>
<path class="c" d="M644 198.9L645 201.9"/>
<path class="a" d="M645 143.1L645.6 146.2L646 148"/>
<path class="b" d="M645 140.5L646 139.3"/>
<path class="d" d="M645 243.8L646 244.5"/>
<path class="e" d="M645 209.7L646 212.4"/>
<path class="c" d="M645 201.9L645.6 203.8L646 202.6"/>
<path class="a" d="M646 148L647 152.7"/>
<path class="b" d="M646 139.3L647 138.1"/>
<path class="d" d="M646 244.5L647 245.2"/>
<path class="e" d="M646 212.4L646.2 213.1L647 209.6"/>
<path class="c" d="M646 202.6L647 199.6"/>
<path class="a" d="M647 152.7L647.5 155L648 154.2"/>
<path class="b" d="M647 138.1L647.5 137.5L648 136.5"/>
<path class="d" d="M647 245.2L647.5 245.6L648 245.2"/>
<path class="e" d="M647 209.6L648 204.8"/>
<path class="c" d="M647 199.6L648 196.6"/>
<path class="a" d="M648 154.2L648.8 153.1L649 151.7"/>
<path class="b" d="M648 136.5L649 134.5"/>
<path class="d" d="M648 245.2L649 244.5"/>
<path class="e" d="M648 204.8L648.8 201.2L649 200.8"/>
<path class="c" d="M648 196.6L648.1 196.2L649 194.9"/>
<path class="a" d="M649 151.7L650 146"/>
<path class="b" d="M649 134.5L650 132.5"/>
<path class="d" d="M649 244.5L650 243.8"/>
<path class="e" d="M649 200.8L650 199.1"/>
<path class="c" d="M649 194.9L650 193.4"/>
<path class="a" d="M650 146L650.6 142.5L651 141.5"/>
<path class="b" d="M650 132.5L650.6 131.2L651 130.2"/>
<path class="d" d="M650 243.8L651 239.8"/>
<path class="e" d="M650 199.1L651 197.3"/>
<path class="c" d="M650 193.4L650.6 192.5L651 192.1"/>
<path class="a" d="M651 141.5L652 138.8"/>
<path class="b" d="M651 130.2L652 127.6"/>
<path class="d" d="M651 239.8L651.9 236.2L652 236.2"/>
<path class="e" d="M651 197.3L651.2 196.9L652 196.5"/>
<path class="c" d="M651 192.1L652 191.1"/>
<path class="a" d="M652 138.8L652.5 137.5L653 137"/>
<path class="b" d="M652 127.6L652.5 126.2L653 126.1"/>
<path class="d" d="M652 236.2L653 235.8"/>
<path class="e" d="M652 196.5L653 196"/>
<path class="c" d="M652 191.1L652.5 190.6L653 191"/>
<path class="a" d="M653 137L654 136"/>
<path class="b" d="M653 126.1L654 125.9"/>
<path class="d" d="M653 235.8L654 235.4"/>
<path class="e" d="M653 196L653.8 195.6L654 195.7"/>
<path class="c" d="M653 191L654 191.7"/>
<path class="a" d="M654 136L655 135"/>
<path class="b" d="M654 125.9L655 125.6"/>
<path class="d" d="M654 235.4L655 235"/>
<path class="e" d="M654 195.7L655 196.2"/>
<path class="c" d="M654 191.7L655 192.5"/>
<path class="a" d="M655 135L656 132"/>
<path class="b" d="M655 125.6L656 122.3"/>
<path class="d" d="M655 235L656 232.5"/>
<path class="e" d="M655 196.2L656 196.8"/>
<path class="c" d="M655 192.5L656 195.8"/>
<path class="a" d="M656 132L656.2 131.2L657 130.5"/>
<path class="b" d="M656 122.3L656.9 119.4L657 119"/>
<path class="d" d="M656 232.5L657 230"/>
<path class="e" d="M656 196.8L656.2 196.9L657 198.6"/>
<path class="c" d="M656 195.8L656.9 198.8L657 201.2"/>
<path class="a" d="M657 130.5L658 129.5"/>
<path class="b" d="M657 119L658 116"/>
<path class="d" d="M657 230L657.5 228.8L658 228.8"/>
<path class="e" d="M657 198.6L658 201"/>
<path class="c" d="M657 201.2L657.5 211.2L658 209.3"/>
<path class="a" d="M658 129.5L658.8 128.8L659 128.6"/>
<path class="b" d="M658 116L658.1 115.6L659 118.8"/>
<path class="d" d="M658 228.8L659 228.8"/>
<path class="e" d="M658 201L658.1 201.2L659 205.3"/>
<path class="c" d="M658 209.3L659 205.3"/>
<path class="a" d="M659 128.6L660 128.1"/>
<path class="b" d="M659 118.8L660 122.5"/>
<path class="d" d="M659 228.8L660 228.8"/>
<path class="e" d="M659 205.3L660 210"/>
<path class="c" d="M659 205.3L659.4 203.8L660 202.5"/>
<path class="a" d="M660 128.1L661 127.9"/>
<path class="b" d="M660 122.5L661 129.8"/>
<path class="d" d="M660 228.8L661 227.9"/>
<path class="e" d="M660 210L661 213"/>
<path class="c" d="M660 202.5L661 199.8"/>
<path class="a" d="M661 127.9L662 127.6"/>
<path class="b" d="M661 129.8L661.9 136.2L662 135.1"/>
<path class="d" d="M661 227.9L662 227.1"/>
<path class="e" d="M661 213L661.2 213.8L662 214.1"/>
<path class="c" d="M661 199.8L661.9 197.5L662 197"/>
<path class="a" d="M662 127.6L662.5 127.5L663 127"/>
<path class="b" d="M662 135.1L663 125.7"/>
<path class="d" d="M662 227.1L663 226.3"/>
<path class="e" d="M662 214.1L663 214.6"/>
<path class="c" d="M662 197L663 193"/>
<path class="a" d="M663 127L664 126"/>
<path class="b" d="M663 125.7L663.5 121L663.8 121.2L664 121.4"/>
<path class="d" d="M663 226.3L663.1 226.2L664 225.5"/>
<path class="e" d="M663 214.6L663.8 215L664 215.6"/>
<path class="c" d="M663 193L663.8 190L664 189"/>
<path class="a" d="M664 126L665 125"/>
<path class="b" d="M664 121.4L665 122.1"/>
<path class="d" d="M664 225.5L665 224.7"/>
<path class="e" d="M664 215.6L665 218.1"/>
<path class="c" d="M664 189L665 185"/>
<path class="a" d="M665 125L666 122"/>
<path class="b" d="M665 122.1L665.6 122.5L666 121.5"/>
<path class="d" d="M665 224.7L666 223.9"/>
<path class="e" d="M665 218.1L666 220.6"/>
<path class="c" d="M665 185L665.6 182.5L666 181.6"/>
<path class="a" d="M666 122L667 119"/>
<path class="b" d="M666 121.5L667 118.8"/>
<path class="d" d="M666 223.9L666.2 223.8L667 220"/>
<path class="e" d="M666 220.6L666.2 221.2L667 218.2"/>
<path class="c" d="M666 181.6L667 179.3"/>
<path class="a" d="M667 119L667.5 117.5L668 116.8"/>
<path class="b" d="M667 118.8L667.5 117.5L668 116.7"/>
<path class="d" d="M667 220L667.5 217.5L668 217.4"/>
<path class="e" d="M667 218.2L668 214.2"/>
<path class="c" d="M667 179.3L667.5 178.1L668 177.9"/>
<path class="a" d="M668 116.8L669 115.2"/>
<path class="b" d="M668 116.7L669 115"/>
<path class="d" d="M668 217.4L669 217.2"/>
<path class="e" d="M668 214.2L668.1 213.8L669 215.5"/>
<path class="c" d="M668 177.9L669 177.4"/>
<path class="a" d="M669 115.2L670 113.8"/>
<path class="b" d="M669 115L669.4 114.4L670 114.4"/>
<path class="d" d="M669 217.2L670 217"/>
<path class="e" d="M669 215.5L670 217.5"/>
<path class="c" d="M669 177.4L670 176.9"/>
<path class="a" d="M670 113.8L671 113.8"/>
<path class="b" d="M670 114.4L671 114.4"/>
<path class="d" d="M670 217L670.6 216.9L671 216.8"/>
<path class="e" d="M670 217.5L671 222.2"/>
<path class="c" d="M670 176.9L671 176.9"/>
<path class="a" d="M671 113.8L672 113.8"/>
<path class="b" d="M671 114.4L671.2 114.4L672 120"/>
<path class="d" d="M671 216.8L672 216.5"/>
<path class="e" d="M671 222.2L671.9 226.2L672 226.7"/>
<path class="c" d="M671 176.9L672 176.9"/>
<path class="a" d="M672 113.8L672.5 113.8L673 115.1"/>
<path class="b" d="M672 120L672.5 123.8L673 126.2"/>
<path class="d" d="M672 216.5L673 216.3"/>
<path class="e" d="M672 226.7L673 230.4"/>
<path class="c" d="M672 176.9L673 176.9"/>
<path class="a" d="M673 115.1L674 117.7"/>
<path class="b" d="M673 126.2L673.8 130L674 131.2"/>
<path class="d" d="M673 216.3L673.1 216.2L674 217.8"/>
<path class="e" d="M673 230.4L673.8 233.1L674 233.6"/>
<path class="c" d="M673 176.9L673.1 176.9L674 177.8"/>
<path class="a" d="M674 117.7L674.4 118.8L675 123.8"/>
<path class="b" d="M674 131.2L675 136.2"/>
<path class="d" d="M674 217.8L675 219.5"/>
<path class="e" d="M674 233.6L675 235.6"/>
<path class="c" d="M674 177.8L675 178.8"/>
<path class="a" d="M675 123.8L675.6 128.8L676 129.5"/>
<path class="b" d="M675 136.2L675.6 145L676 151"/>
<path class="d" d="M675 219.5L675.6 220.6L676 221.3"/>
<path class="e" d="M675 235.6L676 237.5"/>
<path class="c" d="M675 178.8L676 182.1"/>
<path class="a" d="M676 129.5L677 131.5"/>
<path class="b" d="M676 151L676.2 155L677 156.3"/>
<path class="d" d="M676 221.3L677 223"/>
<path class="e" d="M676 237.5L677 235.7"/>
<path class="c" d="M676 182.1L676.9 185L677 185.4"/>
<path class="a" d="M677 131.5L677.5 132.5L678 133.5"/>
<path class="b" d="M677 156.3L678 157.9"/>
<path class="d" d="M677 223L678 224.8"/>
<path class="e" d="M677 235.7L678 233.9"/>
<path class="c" d="M677 185.4L678 188.5"/>
<path class="a" d="M678 133.5L679 135.5"/>
<path class="b" d="M678 157.9L678.1 158.1L679 156.7"/>
<path class="d" d="M678 224.8L678.1 225L679 225"/>
<path class="e" d="M678 233.9L678.8 232.5L679 232"/>
<path class="c" d="M678 188.5L678.5 190L679 186.5"/>
<path class="a" d="M679 135.5L679.4 136.2L680 139.7"/>
<path class="b" d="M679 156.7L680 155"/>
<path class="d" d="M679 225L680 225"/>
<path class="e" d="M679 232L680 230"/>
<path class="c" d="M679 186.5L679.8 181.2L680 181.1"/>
<path class="a" d="M680 139.7L680.6 143.1L681 143.2"/>
<path class="b" d="M680 155L681 155.2"/>
<path class="d" d="M680 225L681 225"/>
<path class="e" d="M680 230L680.6 228.8L681 228.2"/>
<path class="c" d="M680 181.1L681 180.5"/>
<path class="a" d="M681 143.2L682 143.6"/>
<path class="b" d="M681 155.2L682 155.5"/>
<path class="d" d="M681 225L681.2 225L682 225.4"/>
<path class="e" d="M681 228.2L682 226.9"/>
<path class="c" d="M681 180.5L681.9 180L682 180"/>
<path class="a" d="M682 143.6L682.5 143.8L683 144.6"/>
<path class="b" d="M682 155.5L682.5 155.6L683 156.5"/>
<path class="d" d="M682 225.4L683 225.9"/>
<path class="e" d="M682 226.9L682.5 226.2L683 226"/>
<path class="c" d="M682 180L683 180.3"/>
<path class="a" d="M683 144.6L684 146.2"/>
<path class="b" d="M683 156.5L684 158.2"/>
<path class="d" d="M683 225.9L683.8 226.2L684 227.1"/>
<path class="e" d="M683 226L684 225.5"/>
<path class="c" d="M683 180.3L684 180.5"/>
<path class="a" d="M684 146.2L684.4 146.9L685 144.2"/>
<path class="b" d="M684 158.2L685 160"/>
<path class="d" d="M684 227.1L685 230.4"/>
<path class="e" d="M684 225.5L685 225"/>
<path class="c" d="M684 180.5L684.4 180.6L685 180.8"/>
<path class="a" d="M685 144.2L686 139.8"/>
<path class="b" d="M685 160L686 161.7"/>
<path class="d" d="M685 230.4L685.6 232.5L686 234.6"/>
<path class="e" d="M685 225L686 224.5"/>
<path class="c" d="M685 180.8L686 181.2"/>
<path class="a" d="M686 139.8L686.2 138.8L687 139.5"/>
<path class="b" d="M686 161.7L686.9 163.1L687 165.3"/>
<path class="d" d="M686 234.6L687 240.3"/>
<path class="e" d="M686 224.5L686.2 224.4L687 223.3"/>
<path class="c" d="M686 181.2L686.2 181.2L687 184.2"/>
<path class="a" d="M687 139.5L688 140.5"/>
<path class="b" d="M687 165.3L687.8 178.8L688 177.9"/>
<path class="d" d="M687 240.3L687.5 243.1L688 243.9"/>
<path class="e" d="M687 223.3L688 221.9"/>
<path class="c" d="M687 184.2L687.5 186.2L688 187.4"/>
<path class="a" d="M688 140.5L688.1 140.6L689 141"/>
<path class="b" d="M688 177.9L689 174.6"/>
<path class="d" d="M688 243.9L689 245.4"/>
<path class="e" d="M688 221.9L689 220.5"/>
<path class="c" d="M688 187.4L689 189.7"/>
<path class="a" d="M689 141L690 141.4"/>
<path class="b" d="M689 174.6L690 171.2"/>
<path class="d" d="M689 245.4L690 246.9"/>
<path class="e" d="M689 220.5L689.4 220L690 222.1"/>
<path class="c" d="M689 189.7L689.4 190.6L690 190.6"/>
<path class="a" d="M690 141.4L691 141.8"/>
<path class="b" d="M690 171.2L691 171.2"/>
<path class="d" d="M690 246.9L691 249.9"/>
<path class="e" d="M690 222.1L691 225.4"/>
<path class="c" d="M690 190.6L691 190.6"/>
<path class="a" d="M691 141.8L691.2 141.9L692 142.3"/>
<path class="b" d="M691 171.2L692 171.2"/>
<path class="d" d="M691 249.9L692 253"/>
<path class="e" d="M691 225.4L691.2 226.2L692 230"/>
<path class="c" d="M691 190.6L691.9 190.6L692 190.3"/>
<path class="a" d="M692 142.3L692.5 142.5L693 140.5"/>
<path class="b" d="M692 171.2L693 171.2"/>
<path class="d" d="M692 253L692.2 253.8L693 250.9"/>
<path class="e" d="M692 230L692.5 232.5L693 234"/>
<path class="c" d="M692 190.3L693 187.3"/>
<path class="a" d="M693 140.5L694 136.5"/>
<path class="b" d="M693 171.2L693.1 171.2L694 171.8"/>
<path class="d" d="M693 250.9L693.8 248.1L694 248.1"/>
<path class="e" d="M693 234L694 236.9"/>
<path class="c" d="M693 187.3L693.8 185L694 184.7"/>
<path class="a" d="M694 136.5L694.4 135L695 134.2"/>
<path class="b" d="M694 171.8L695 172.5"/>
<path class="d" d="M694 248.1L695 247.9"/>
<path class="e" d="M694 236.9L695 235.2"/>
<path class="c" d="M694 184.7L695 183.4"/>
<path class="a" d="M695 134.2L696 133"/>
<path class="b" d="M695 172.5L696 177.5"/>
<path class="d" d="M695 247.9L696 247.7"/>
<path class="e" d="M695 235.2L696 233.5"/>
<path class="c" d="M695 183.4L696 182.2"/>
<path class="a" d="M696 133L696.9 131.9L697 131.6"/>
<path class="b" d="M696 177.5L696.2 178.8L697 180.2"/>
<path class="d" d="M696 247.7L696.9 247.5L697 247.2"/>
<path class="e" d="M696 233.5L696.2 233.1L697 232"/>
<path class="c" d="M696 182.2L696.2 181.9L697 181.4"/>
<path class="a" d="M697 131.6L698 128.9"/>
<path class="b" d="M697 180.2L697.5 181.2L698 181"/>
<path class="d" d="M697 247.2L698 244.5"/>
<path class="e" d="M697 232L698 230.5"/>
<path class="c" d="M697 181.4L698 180.7"/>
<path class="a" d="M698 128.9L698.8 126.9L699 127.2"/>
<path class="b" d="M698 181L699 180.5"/>
<path class="d" d="M698 244.5L698.8 242.5L699 241.6"/>
<path class="e" d="M698 230.5L698.8 229.4L699 229.2"/>
<path class="c" d="M698 180.7L699 180"/>
<path class="a" d="M699 127.2L700 128.4"/>
<path class="b" d="M699 180.5L700 180"/>
<path class="d" d="M699 241.6L700 238.1"/>
<path class="e" d="M699 229.2L700 228.5"/>
<path class="c" d="M699 180L700 179.4"/>
<path class="a" d="M700 128.4L701 129.7"/>
<path class="b" d="M700 180L701 179.8"/>
<path class="d" d="M700 238.1L701 237.7"/>
<path class="e" d="M700 228.5L700.6 228.1L701 226"/>
<path class="c" d="M700 179.4L701 178.8"/>
<path class="a" d="M701 129.7L701.2 130L702 127.5"/>
<path class="b" d="M701 179.8L702 179.6"/>
<path class="d" d="M701 237.7L702 237.3"/>
<path class="e" d="M701 226L701.9 221.2L702 221.2"/>
<path class="c" d="M701 178.8L702 178.2"/>
<path class="a" d="M702 127.5L703 124.2"/>
<path class="b" d="M702 179.6L703 179.4"/>
<path class="d" d="M702 237.3L703 236.9"/>
<path class="e" d="M702 221.2L703 220.5"/>
<path class="c" d="M702 178.2L703 177.6"/>
<path class="a" d="M703 124.2L703.1 123.8L704 124.1"/>
<path class="b" d="M703 179.4L703.1 179.4L704 180"/>
<path class="d" d="M703 236.9L703.1 236.9L704 237.8"/>
<path class="e" d="M703 220.5L703.8 220L704 221"/>
<path class="c" d="M703 177.6L703.1 177.5L704 177.3"/>
<path class="a" d="M704 124.1L705 124.5"/>
<path class="b" d="M704 180L705 180.8"/>
<path class="d" d="M704 237.8L705 238.8"/>
<path class="e" d="M704 221L705 225.2"/>
<path class="c" d="M704 177.3L705 177"/>
<path class="a" d="M705 124.5L706 124.9"/>
<path class="b" d="M705 180.8L705.6 181.2L706 180.9"/>
<path class="d" d="M705 238.8L706 239.8"/>
<path class="e" d="M705 225.2L705.2 226.2L706 230"/>
<path class="c" d="M705 177L705.6 176.9L706 176.6"/>
<path class="a" d="M706 124.9L706.2 125L707 123"/>
<path class="b" d="M706 180.9L707 179.9"/>
<path class="d" d="M706 239.8L706.2 240L707 239.4"/>
<path class="e" d="M706 230L706.2 231.2L707 231.7"/>
<path class="c" d="M706 176.6L707 175.8"/>
<path class="a" d="M707 123L708 120.3"/>
<path class="b" d="M707 179.9L708 178.9"/>
<path class="d" d="M707 239.4L708 238.6"/>
<path class="e" d="M707 231.7L708 232.3"/>
<path class="c" d="M707 175.8L708 175.1"/>
<path class="a" d="M708 120.3L708.1 120L709 120"/>
<path class="b" d="M708 178.9L708.1 178.8L709 174.4"/>
<path class="d" d="M708 238.6L709 237.8"/>
<path class="e" d="M708 232.3L709 232.9"/>
<path class="c" d="M708 175.1L708.1 175L709 175"/>
<path class="a" d="M709 120L710 120"/>
<path class="b" d="M709 174.4L710 169.4"/>
<path class="d" d="M709 237.8L709.4 237.5L710 237.3"/>
<path class="e" d="M709 232.9L709.4 233.1L710 233.4"/>
<path class="c" d="M709 175L710 175"/>
<path class="a" d="M710 120L711 123.3"/>
<path class="b" d="M710 169.4L711 171"/>
<path class="d" d="M710 237.3L711 236.9"/>
<path class="e" d="M710 233.4L711 233.9"/>
<path class="c" d="M710 175L711 175"/>
<path class="a" d="M711 123.3L711.9 126.2L712 126.3"/>
<path class="b" d="M711 171L711.9 172.5L712 172.3"/>
<path class="d" d="M711 236.9L712 236.5"/>
<path class="e" d="M711 233.9L711.9 234.4L712 234.4"/>
<path class="c" d="M711 175L711.2 175L712 174.6"/>
<path class="a" d="M712 126.3L713 126.5"/>
<path class="b" d="M712 172.3L713 170.3"/>
<path class="d" d="M712 236.5L712.5 236.2L713 235.1"/>
<path class="e" d="M712 234.4L713 234.4"/>
<path class="c" d="M712 174.6L713 174.1"/>
<path class="a" d="M713 126.5L714 126.7"/>
<path class="b" d="M713 170.3L713.8 168.8L714 168.6"/>
<path class="d" d="M713 235.1L714 232.9"/>
<path class="e" d="M713 234.4L714 234.4"/>
<path class="c" d="M713 174.1L713.8 173.8L714 173.7"/>
<path class="a" d="M714 126.7L715 126.9"/>
<path class="b" d="M714 168.6L715 167.9"/>
<path class="d" d="M714 232.9L715 230.6"/>
<path class="e" d="M714 234.4L714.4 234.4L715 232.5"/>
<path class="c" d="M714 173.7L715 173.3"/>
<path class="a" d="M715 126.9L716 127.9"/>
<path class="b" d="M715 167.9L715.6 167.5L716 166.9"/>
<path class="d" d="M715 230.6L716 229.4"/>
<path class="e" d="M715 232.5L716 229.5"/>
<path class="c" d="M715 173.3L716 172.9"/>
<path class="a" d="M716 127.9L716.9 128.8L717 129"/>
<path class="b" d="M716 166.9L717 165.4"/>
<path class="d" d="M716 229.4L717 228.1"/>
<path class="e" d="M716 229.5L716.2 228.8L717 227.5"/>
<path class="c" d="M716 172.9L716.9 172.5L717 172.3"/>
<path class="a" d="M717 129L718 131"/>
<path class="b" d="M717 165.4L718 163.9"/>
<path class="d" d="M717 228.1L717.5 227.5L718 227.1"/>
<path class="e" d="M717 227.5L718 225.8"/>
<path class="c" d="M717 172.3L718 170.6"/>
<path class="a" d="M718 131L718.8 132.5L719 133.2"/>
<path class="b" d="M718 163.9L718.1 163.8L719 163.3"/>
<path class="d" d="M718 227.1L719 226.4"/>
<path class="e" d="M718 225.8L718.1 225.6L719 224.5"/>
<path class="c" d="M718 170.6L718.8 169.4L719 168.6"/>
<path class="a" d="M719 133.2L720 135.8"/>
<path class="b" d="M719 163.3L720 162.8"/>
<path class="d" d="M719 226.4L720 225.6"/>
<path class="e" d="M719 224.5L720 223.3"/>
<path class="c" d="M719 168.6L720 165.6"/>
<path class="a" d="M720 135.8L720.6 137.5L721 139.2"/>
<path class="b" d="M720 162.8L720.6 162.5L721 162.6"/>
<path class="d" d="M720 225.6L721 226"/>
<path class="e" d="M720 223.3L720.6 222.5L721 222.3"/>
<path class="c" d="M720 165.6L720.6 163.8L721 162.7"/>
<path class="a" d="M721 139.2L722 143.8"/>
<path class="b" d="M721 162.6L722 162.8"/>
<path class="d" d="M721 226L721.9 226.2L722 226.2"/>
<path class="e" d="M721 222.3L722 221.9"/>
<path class="c" d="M721 162.7L722 160.1"/>
<path class="a" d="M722 143.8L722.1 144.4L723 141.3"/>
<path class="b" d="M722 162.8L723 163.1"/>
<path class="d" d="M722 226.2L723 225.4"/>
<path class="e" d="M722 221.9L723 221.5"/>
<path class="c" d="M722 160.1L722.5 158.8L723 157.3"/>
<path class="a" d="M723 141.3L723.8 138.8L724 137.2"/>
<path class="b" d="M723 163.1L723.1 163.1L724 163.4"/>
<path class="d" d="M723 225.4L724 224.7"/>
<path class="e" d="M723 221.5L723.8 221.2L724 220.7"/>
<path class="c" d="M723 157.3L724 154.3"/>
<path class="a" d="M724 137.2L725 131.2"/>
<path class="b" d="M724 163.4L725 163.8"/>
<path class="d" d="M724 224.7L724.4 224.4L725 229.7"/>
<path class="e" d="M724 220.7L725 218.3"/>
<path class="c" d="M724 154.3L724.4 153.1L725 154.2"/>
<path class="a" d="M725 131.2L726 125.2"/>
<path class="b" d="M725 163.8L726 169.1"/>
<path class="d" d="M725 229.7L725.6 235L726 238.8"/>
<path class="e" d="M725 218.3L725.6 216.9L726 217.5"/>
<path class="c" d="M725 154.2L726 155.8"/>
<path class="a" d="M726 125.2L726.2 123.8L727 128"/>
<path class="b" d="M726 169.1L726.9 173.8L727 174.4"/>
<path class="d" d="M726 238.8L726.9 247.5L727 249"/>
<path class="e" d="M726 217.5L727 219.2"/>
<path class="c" d="M726 155.8L726.2 156.2L727 164.5"/>
<path class="a" d="M727 128L728 133.7"/>
<path class="b" d="M727 174.4L728 179.4"/>
<path class="d" d="M727 249L728 261"/>
<path class="e" d="M727 219.2L727.5 220L728 222.2"/>
<path class="c" d="M727 164.5L727.5 170L728 181.1"/>
<path class="a" d="M728 133.7L728.1 134.4L729 131.2"/>
<path class="b" d="M728 179.4L728.1 180L729 181.2"/>
<path class="d" d="M728 261L728.1 262.5L728.8 275L729 277.2"/>
<path class="e" d="M728 222.2L729 226.5"/>
<path class="c" d="M728 181.1L728.1 183.8L728.8 194.4L729 194.4"/>
<path class="a" d="M729 131.2L730 127.5"/>
<path class="b" d="M729 181.2L730 182.5"/>
<path class="d" d="M729 277.2L730 286.2"/>
<path class="e" d="M729 226.5L729.4 228.1L730 230"/>
<path class="c" d="M729 194.4L730 194.4"/>
<path class="a" d="M730 127.5L731 121.5"/>
<path class="b" d="M730 182.5L731 180.8"/>
<path class="d" d="M730 286.2L731 279.7"/>
<path class="e" d="M730 230L730.6 231.9L731 231.2"/>
<path class="c" d="M730 194.4L731 186.9"/>
<path class="a" d="M731 121.5L731.2 120L732 117.4"/>
<path class="b" d="M731 180.8L731.9 179.4L732 179.3"/>
<path class="d" d="M731 279.7L731.2 278.1L732 277.8"/>
<path class="e" d="M731 231.2L732 229.6"/>
<path class="c" d="M731 186.9L731.2 185L731.9 176.2L732 176"/>
<path class="a" d="M732 117.4L732.5 115.6L733 115.6"/>
<path class="b" d="M732 179.3L733 178.6"/>
<path class="d" d="M732 277.8L733 277.4"/>
<path class="e" d="M732 229.6L732.5 228.8L733 229.7"/>
<path class="c" d="M732 176L733 174"/>
<path class="a" d="M733 115.6L734 115.6"/>
<path class="b" d="M733 178.6L733.8 178.1L734 178.2"/>
<path class="d" d="M733 277.4L734 277"/>
<path class="e" d="M733 229.7L734 231.7"/>
<path class="c" d="M733 174L733.8 172.5L734 172"/>
<path class="a" d="M734 115.6L734.4 115.6L735 112.1"/>
<path class="b" d="M734 178.2L735 178.4"/>
<path class="d" d="M734 277L734.4 276.9L735 274.6"/>
<path class="e" d="M734 231.7L734.4 232.5L735 233.5"/>
<path class="c" d="M734 172L735 170"/>
<path class="a" d="M735 112.1L736 106.4"/>
<path class="b" d="M735 178.4L736 178.7"/>
<path class="d" d="M735 274.6L736 270.9"/>
<path class="e" d="M735 233.5L736 235.2"/>
<path class="c" d="M735 170L736 168"/>
<path class="a" d="M736 106.4L736.2 105L737 97.5"/>
<path class="b" d="M736 178.7L736.2 178.8L737 179.8"/>
<path class="d" d="M736 270.9L736.2 270L737 270.5"/>
<path class="e" d="M736 235.2L736.2 235.6L737 235.8"/>
<path class="c" d="M736 168L736.2 167.5L737 165.5"/>
<path class="a" d="M737 97.5L737.5 92.5L738 80.9"/>
<path class="b" d="M737 179.8L738 181.1"/>
<path class="d" d="M737 270.5L738 271.2"/>
<path class="e" d="M737 235.8L738 236.1"/>
<path class="c" d="M737 165.5L738 162.8"/>
<path class="a" d="M738 80.9L738.1 78.1L739 91.7"/>
<path class="b" d="M738 181.1L738.1 181.2L739 187.4"/>
<path class="d" d="M738 271.2L738.1 271.2L739 279.1"/>
<path class="e" d="M738 236.1L738.8 236.2L739 237.1"/>
<path class="c" d="M738 162.8L738.1 162.5L739 167.2"/>
<path class="a" d="M739 91.7L739.4 97.5L740 106.9"/>
<path class="b" d="M739 187.4L739.4 190L740 201.9"/>
<path class="d" d="M739 279.1L739.4 282.5L740 293.8"/>
<path class="e" d="M739 237.1L740 240.4"/>
<path class="c" d="M739 167.2L740 172.5"/>
<path class="a" d="M740 106.9L740.6 116.2L741 116.5"/>
<path class="b" d="M740 201.9L741 200.9"/>
<path class="d" d="M740 293.8L741 294.2"/>
<path class="e" d="M740 240.4L740.6 242.5L741 244.4"/>
<path class="c" d="M740 172.5L741 176.5"/>
<path class="a" d="M741 116.5L742 117.2"/>
<path class="b" d="M741 200.9L741.9 200L742 199.5"/>
<path class="d" d="M741 294.2L742 294.8"/>
<path class="e" d="M741 244.4L742 249.4"/>
<path class="c" d="M741 176.5L741.9 180L742 180"/>
<path class="a" d="M742 117.2L742.5 117.5L743 118.5"/>
<path class="b" d="M742 199.5L743 195.1"/>
<path class="d" d="M742 294.8L742.5 295L743 295.1"/>
<path class="e" d="M742 249.4L742.2 250.6L743 250.4"/>
<path class="c" d="M742 180L743 179.6"/>
<path class="a" d="M743 118.5L744 120.5"/>
<path class="b" d="M743 195.1L743.8 191.9L744 192.3"/>
<path class="d" d="M743 295.1L744 295.4"/>
<path class="e" d="M743 250.4L744 250.1"/>
<path class="c" d="M743 179.6L743.8 179.4L744 179.8"/>
<path class="a" d="M744 120.5L744.4 121.2L745 122.7"/>
<path class="b" d="M744 192.3L745 193.8"/>
<path class="d" d="M744 295.4L745 295.6"/>
<path class="e" d="M744 250.1L744.4 250L745 247.9"/>
<path class="c" d="M744 179.8L745 181.5"/>
<path class="a" d="M745 122.7L746 125"/>
<path class="b" d="M745 193.8L746 195.2"/>
<path class="d" d="M745 295.6L746 298.4"/>
<path class="e" d="M745 247.9L746 244.6"/>
<path class="c" d="M745 181.5L745.6 182.5L746 182.4"/>
<path class="a" d="M746 125L746.2 125.6L747 118.9"/>
<path class="b" d="M746 195.2L746.2 195.6L747 195.9"/>
<path class="d" d="M746 298.4L747 301.1"/>
<path class="e" d="M746 244.6L746.2 243.8L747 241.5"/>
<path class="c" d="M746 182.4L747 182"/>
<path class="a" d="M747 118.9L748 109.8"/>
<path class="b" d="M747 195.9L748 196.2"/>
<path class="d" d="M747 301.1L747.5 302.5L748 303.8"/>
<path class="e" d="M747 241.5L748 238.5"/>
<path class="c" d="M747 182L747.5 181.9L748 182.7"/>
<path class="a" d="M748 109.8L748.1 108.8L749 109"/>
<path class="b" d="M748 196.2L748.1 196.2L749 199.7"/>
<path class="d" d="M748 303.8L749 306.5"/>
<path class="e" d="M748 238.5L748.1 238.1L749 245.5"/>
<path class="c" d="M748 182.7L749 184.4"/>
<path class="a" d="M749 109L750 109.4"/>
<path class="b" d="M749 199.7L749.4 201.2L750 206.6"/>
<path class="d" d="M749 306.5L749.4 307.5L750 317.5"/>
<path class="e" d="M749 245.5L749.4 248.8L750 257.7"/>
<path class="c" d="M749 184.4L749.4 185L750 189.5"/>
<path class="a" d="M750 109.4L751 108.4"/>
<path class="b" d="M750 206.6L750.2 208.8L751 203.6"/>
<path class="d" d="M750 317.5L750.4 323.1L750.8 317.5L751 314.2"/>
<path class="e" d="M750 257.7L750.2 261.2L751 260.7"/>
<path class="c" d="M750 189.5L750.2 191.2L751 186.6"/>
<path class="a" d="M751 108.4L752 107.4"/>
<path class="b" d="M751 203.6L751.9 197.5L752 197.6"/>
<path class="d" d="M751 314.2L751.9 302.5L752 301.5"/>
<path class="e" d="M751 260.7L751.9 260L752 259.2"/>
<path class="c" d="M751 186.6L751.9 181.2L752 181.5"/>
<path class="a" d="M752 107.4L752.5 106.9L753 109.7"/>
<path class="b" d="M752 197.6L753 198.6"/>
<path class="d" d="M752 301.5L753 293.5"/>
<path class="e" d="M752 259.2L753 252.9"/>
<path class="c" d="M752 181.5L753 183.5"/>
<path class="a" d="M753 109.7L754 115.4"/>
<path class="b" d="M753 198.6L753.8 199.4L754 199.9"/>
<path class="d" d="M753 293.5L753.1 292.5L754 291.6"/>
<path class="e" d="M753 252.9L753.8 248.1L754 248.4"/>
<path class="c" d="M753 183.5L753.8 185L754 186"/>
<path class="a" d="M754 115.4L754.4 117.5L755 117.9"/>
<path class="b" d="M754 199.9L755 201.9"/>
<path class="d" d="M754 291.6L754.4 291.2L755 293.8"/>
<path class="e" d="M754 248.4L755 249.4"/>
<path class="c" d="M754 186L755 190"/>
<path class="a" d="M755 117.9L756 118.6"/>
<path class="b" d="M755 201.9L756 201.6"/>
<path class="d" d="M755 293.8L755.6 296.2L756 298.9"/>
<path class="e" d="M755 249.4L756 250.4"/>
<path class="c" d="M755 190L755.6 202.5L756 212.3"/>
<path class="a" d="M756 118.6L756.2 118.8L757 120.3"/>
<path class="b" d="M756 201.6L757 201.4"/>
<path class="d" d="M756 298.9L756.9 305L757 305.2"/>
<path class="e" d="M756 250.4L756.2 250.6L757 251"/>
<path class="c" d="M756 212.3L756.2 218.8L757 220.3"/>
<path class="a" d="M757 120.3L758 122.3"/>
<path class="b" d="M757 201.4L757.5 201.2L758 202.4"/>
<path class="d" d="M757 305.2L758 306.9"/>
<path class="e" d="M757 251L758 251.5"/>
<path class="c" d="M757 220.3L758 222.3"/>
<path class="a" d="M758 122.3L758.1 122.5L759 122.5"/>
<path class="b" d="M758 202.4L759 204.6"/>
<path class="d" d="M758 306.9L758.8 308.1L759 308"/>
<path class="e" d="M758 251.5L758.8 251.9L759 253.6"/>
<path class="c" d="M758 222.3L758.1 222.5L759 224.6"/>
<path class="a" d="M759 122.5L760 122.5"/>
<path class="b" d="M759 204.6L760 206.9"/>
<path class="d" d="M759 308L760 307.3"/>
<path class="e" d="M759 253.6L760 260.6"/>
<path class="c" d="M759 224.6L760 226.9"/>
<path class="a" d="M760 122.5L761 113.5"/>
<path class="b" d="M760 206.9L761 203.9"/>
<path class="d" d="M760 307.3L760.6 306.9L761 304.8"/>
<path class="e" d="M760 260.6L761 254.1"/>
<path class="c" d="M760 226.9L761 224.6"/>
<path class="a" d="M761 113.5L761.2 111.2L762 103.8"/>
<path class="b" d="M761 203.9L761.9 201.2L762 201"/>
<path class="d" d="M761 304.8L761.9 300L762 299.9"/>
<path class="e" d="M761 254.1L761.2 252.5L762 245"/>
<path class="c" d="M761 224.6L761.9 222.5L762 221.8"/>
<path class="a" d="M762 103.8L762.5 98.8L763 91.8"/>
<path class="b" d="M762 201L763 199.4"/>
<path class="d" d="M762 299.9L763 299.2"/>
<path class="e" d="M762 245L762.5 240L763 238.2"/>
<path class="c" d="M762 221.8L763 215.7"/>
<path class="a" d="M763 91.8L763.8 81.2L764 81.1"/>
<path class="b" d="M763 199.4L763.8 198.1L764 197.7"/>
<path class="d" d="M763 299.2L764 298.4"/>
<path class="e" d="M763 238.2L764 234.5"/>
<path class="c" d="M763 215.7L763.1 215L764 209.3"/>
<path class="a" d="M764 81.1L765 80.4"/>
<path class="b" d="M764 197.7L765 196.2"/>
<path class="d" d="M764 298.4L764.4 298.1L765 297.7"/>
<path class="e" d="M764 234.5L764.4 233.1L765 231.7"/>
<path class="c" d="M764 209.3L764.4 206.9L765 205.6"/>
<path class="a" d="M765 80.4L765.6 80L766 80.3"/>
<path class="b" d="M765 196.2L766 194.8"/>
<path class="d" d="M765 297.7L766 297"/>
<path class="e" d="M765 231.7L766 229.5"/>
<path class="c" d="M765 205.6L766 203.6"/>
<path class="a" d="M766 80.3L767 80.9"/>
<path class="b" d="M766 194.8L766.2 194.4L767 192.6"/>
<path class="d" d="M766 297L766.2 296.9L767 297.4"/>
<path class="e" d="M766 229.5L766.9 227.5L767 227.3"/>
<path class="c" d="M766 203.6L766.2 203.1L767 201.6"/>
<path class="a" d="M767 80.9L767.5 81.2L768 80.5"/>
<path class="b" d="M767 192.6L768 190.3"/>
<path class="d" d="M767 297.4L768 298.2"/>
<path class="e" d="M767 227.3L768 225.3"/>
<path class="c" d="M767 201.6L768 199.6"/>
<path class="a" d="M768 80.5L769 79"/>
<path class="b" d="M768 190.3L768.1 190L769 189.4"/>
<path class="d" d="M768 298.2L768.8 298.8L769 299"/>
<path class="e" d="M768 225.3L768.8 223.8L769 222.2"/>
<path class="c" d="M768 199.6L768.1 199.4L769 199.1"/>
<path class="a" d="M769 79L770 77.5"/>
<path class="b" d="M769 189.4L770 188.8"/>
<path class="d" d="M769 299L770 300"/>
<path class="e" d="M769 222.2L770 216.2"/>
<path class="c" d="M769 199.1L770 198.8"/>
<path class="a" d="M770 77.5L771 70.5"/>
<path class="b" d="M770 188.8L771 185.4"/>
<path class="d" d="M770 300L771 299.8"/>
<path class="e" d="M770 216.2L771 220.9"/>
<path class="c" d="M770 198.8L771 198"/>
<path class="a" d="M771 70.5L771.2 68.8L772 65"/>
<path class="b" d="M771 185.4L771.9 182.5L772 182.3"/>
<path class="d" d="M771 299.8L772 299.5"/>
<path class="e" d="M771 220.9L771.9 225L772 225.9"/>
<path class="c" d="M771 198L772 197.3"/>
<path class="a" d="M772 65L772.5 62.5L773 58.5"/>
<path class="b" d="M772 182.3L773 180.6"/>
<path class="d" d="M772 299.5L772.5 299.4L773 296.6"/>
<path class="e" d="M772 225.9L773 233.2"/>
<path class="c" d="M772 197.3L772.5 196.9L773 196.3"/>
<path class="a" d="M773 58.5L773.8 52.5L774 52.6"/>
<path class="b" d="M773 180.6L773.8 179.4L774 179.8"/>
<path class="d" d="M773 296.6L773.8 292.5L774 292.2"/>
<path class="e" d="M773 233.2L773.8 238.8L774 240.8"/>
<path class="c" d="M773 196.3L774 195"/>
<path class="a" d="M774 52.6L775 53.1"/>
<path class="b" d="M774 179.8L775 181.5"/>
<path class="d" d="M774 292.2L775 291.2"/>
<path class="e" d="M774 240.8L775 248.8"/>
<path class="c" d="M774 195L775 193.8"/>
<path class="a" d="M775 53.1L775.2 63.8L776 65.6"/>
<path class="b" d="M775 181.5L775.6 182.5L776 184.2"/>
<path class="d" d="M775 291.2L775.6 290.6L776 290.9"/>
<path class="e" d="M775 248.8L776 250.8"/>
<path class="c" d="M775 193.8L776 193.4"/>
<path class="a" d="M776 65.6L776.2 66.2L776.5 77.5L777 78.6"/>
<path class="b" d="M776 184.2L776.9 188.1L777 189.5"/>
<path class="d" d="M776 290.9L777 291.5"/>
<path class="e" d="M776 250.8L777 252.8"/>
<path class="c" d="M776 193.4L776.9 193.1L777 193.7"/>
<path class="a" d="M777 78.6L778 80.8"/>
<path class="b" d="M777 189.5L777.5 195L778 197.3"/>
<path class="d" d="M777 291.5L777.5 291.9L778 292.9"/>
<path class="e" d="M777 252.8L777.5 253.8L778 254"/>
<path class="c" d="M777 193.7L778 198.2"/>
<path class="a" d="M778 80.8L778.8 82.5L779 86"/>
<path class="b" d="M778 197.3L779 202"/>
<path class="d" d="M778 292.9L779 295"/>
<path class="e" d="M778 254L779 254.6"/>
<path class="c" d="M778 198.2L778.1 198.8L779 204.9"/>
<path class="a" d="M779 86L779.4 91.2L780 101.2"/>
<path class="b" d="M779 202L779.4 203.8L780 206.9"/>
<path class="d" d="M779 295L779.4 311.2L779.8 322.5L780 327.5"/>
<path class="e" d="M779 254.6L780 255.2"/>
<path class="c" d="M779 204.9L779.4 207.5L780 211.9"/>
<path class="a" d="M780 101.2L781 103.2"/>
<path class="b" d="M780 206.9L780.6 210L781 214.5"/>
<path class="d" d="M780 327.5L780.2 332.5L781 336"/>
<path class="e" d="M780 255.2L780.6 255.6L781 258.8"/>
<path class="c" d="M780 211.9L780.6 216.2L781 218.9"/>
<path class="a" d="M781 103.2L781.9 105L782 105.1"/>
<path class="b" d="M781 214.5L781.9 225L782 225.6"/>
<path class="d" d="M781 336L781.9 340L782 339.4"/>
<path class="e" d="M781 258.8L781.9 266.2L782 267.9"/>
<path class="c" d="M781 218.9L781.9 225L782 228.1"/>
<path class="a" d="M782 105.1L783 106.1"/>
<path class="b" d="M782 225.6L783 230.2"/>
<path class="d" d="M782 339.4L783 334.4"/>
<path class="e" d="M782 267.9L782.5 275L783 273"/>
<path class="c" d="M782 228.1L782.5 241.2L783 234.8"/>
<path class="a" d="M783 106.1L784 107.1"/>
<path class="b" d="M783 230.2L783.8 233.8L784 234.5"/>
<path class="d" d="M783 334.4L783.1 333.8L784 321.2"/>
<path class="e" d="M783 273L784 269"/>
<path class="c" d="M783 234.8L783.8 225L784 225.1"/>
<path class="a" d="M784 107.1L785 108.1"/>
<path class="b" d="M784 234.5L785 237.5"/>
<path class="d" d="M784 321.2L785 323.6"/>
<path class="e" d="M784 269L784.4 267.5L785 267.2"/>
<path class="c" d="M784 225.1L785 225.3"/>
<path class="a" d="M785 108.1L785.6 108.8L786 109.5"/>
<path class="b" d="M785 237.5L786 240.5"/>
<path class="d" d="M785 323.6L785.6 325L786 324.4"/>
<path class="e" d="M785 267.2L786 266.7"/>
<path class="c" d="M785 225.3L786 225.6"/>
<path class="a" d="M786 109.5L787 111.5"/>
<path class="b" d="M786 240.5L786.2 241.2L787 243.5"/>
<path class="d" d="M786 324.4L787 322.7"/>
<path class="e" d="M786 266.7L786.9 266.2L787 266.4"/>
<path class="c" d="M786 225.6L786.2 225.6L787 226.6"/>
<path class="a" d="M787 111.5L787.5 112.5L788 114"/>
<path class="b" d="M787 243.5L788 246.5"/>
<path class="d" d="M787 322.7L787.5 321.9L788 321.9"/>
<path class="e" d="M787 266.4L788 267.8"/>
<path class="c" d="M787 226.6L788 227.8"/>
<path class="a" d="M788 114L789 117"/>
<path class="b" d="M788 246.5L788.8 248.8L789 248.6"/>
<path class="d" d="M788 321.9L789 321.9"/>
<path class="e" d="M788 267.8L789 269.2"/>
<path class="c" d="M788 227.8L788.8 228.8L789 228.4"/>
<path class="a" d="M789 117L789.4 118.1L790 118.1"/>
<path class="b" d="M789 248.6L790 247.9"/>
<path class="d" d="M789 321.9L790 321.9"/>
<path class="e" d="M789 269.2L790 270.6"/>
<path class="c" d="M789 228.4L790 227.1"/>
<path class="a" d="M790 118.1L791 118.1"/>
<path class="b" d="M790 247.9L791 247.2"/>
<path class="d" d="M790 321.9L790.6 321.9L791 322"/>
<path class="e" d="M790 270.6L791 268.1"/>
<path class="c" d="M790 227.1L790.6 226.2L791 226.1"/>
<path class="a" d="M791 118.1L791.9 118.1L792 117.9"/>
<path class="b" d="M791 247.2L792 246.6"/>
<path class="d" d="M791 322L792 322.2"/>
<path class="e" d="M791 268.1L792 265.6"/>
<path class="c" d="M791 226.1L792 225.6"/>
<path class="a" d="M792 117.9L793 116.3"/>
<path class="b" d="M792 246.6L792.5 246.2L793 245.6"/>
<path class="d" d="M792 322.2L793 322.5"/>
<path class="e" d="M792 265.6L792.5 264.4L793 265.5"/>
<path class="c" d="M792 225.6L793 225.1"/>
<path class="a" d="M793 116.3L793.8 115L794 115.2"/>
<path class="b" d="M793 245.6L794 244.4"/>
<path class="d" d="M793 322.5L793.1 322.5L794 323.7"/>
<path class="e" d="M793 265.5L794 267.8"/>
<path class="c" d="M793 225.1L793.1 225L794 222.7"/>
<path class="a" d="M794 115.2L795 115.8"/>
<path class="b" d="M794 244.4L795 243.1"/>
<path class="d" d="M794 323.7L795 325"/>
<path class="e" d="M794 267.8L795 270"/>
<path class="c" d="M794 222.7L795 220"/>
<path class="a" d="M795 115.8L795.6 116.2L796 117.8"/>
<path class="b" d="M795 243.1L796 239.1"/>
<path class="d" d="M795 325L796 325.3"/>
<path class="e" d="M795 270L796 272.7"/>
<path class="c" d="M795 220L796 217.5"/>
<path class="a" d="M796 117.8L796.9 121.2L797 121.5"/>
<path class="b" d="M796 239.1L796.2 238.1L797 243"/>
<path class="d" d="M796 325.3L796.9 325.6L797 326.3"/>
<path class="e" d="M796 272.7L796.9 275L797 275.4"/>
<path class="c" d="M796 217.5L796.2 216.9L797 219.5"/>
<path class="a" d="M797 121.5L798 123.8"/>
<path class="b" d="M797 243L797.5 246.2L798 254.8"/>
<path class="d" d="M797 326.3L798 331.8"/>
<path class="e" d="M797 275.4L798 278.4"/>
<path class="c" d="M797 219.5L797.5 221.2L798 224.8"/>
<path class="a" d="M798 123.8L798.5 125L799 123.8"/>
<path class="b" d="M798 254.8L798.1 256.9L799 257.3"/>
<path class="d" d="M798 331.8L798.1 332.5L799 336"/>
<path class="e" d="M798 278.4L798.1 278.8L799 274.1"/>
<path class="c" d="M798 224.8L798.8 230L799 230.8"/>
<path class="a" d="M799 123.8L800 121.2"/>
<path class="b" d="M799 257.3L800 257.8"/>
<path class="d" d="M799 336L800 340"/>
<path class="e" d="M799 274.1L800 268.8"/>
<path class="c" d="M799 230.8L800 234.2"/>
<path class="a" d="M800 121.2L801 115.2"/>
<path class="b" d="M800 257.8L800.6 258.1L801 258.6"/>
<path class="d" d="M800 340L801 345"/>
<path class="e" d="M800 268.8L801 265.4"/>
<path class="c" d="M800 234.2L800.6 236.2L801 237.5"/>
<path class="a" d="M801 115.2L801.2 113.8L802 113.8"/>
<path class="b" d="M801 258.6L802 259.8"/>
<path class="d" d="M801 345L801.2 346.2L802 349.5"/>
<path class="e" d="M801 265.4L801.9 262.5L802 262.8"/>
<path class="c" d="M801 237.5L802 240.8"/>
<path class="a" d="M802 113.8L802.8 113.8L803 121.4"/>
<path class="b" d="M802 259.8L803 261.1"/>
<path class="d" d="M802 349.5L802.2 350.6L803 346.6"/>
<path class="e" d="M802 262.8L803 265.5"/>
<path class="c" d="M802 240.8L802.5 242.5L803 243.2"/>
<path class="a" d="M803 121.4L803.1 125L804 220"/>
<path class="b" d="M803 261.1L803.1 261.2L804 265.3"/>
<path class="d" d="M803 346.6L803.8 342.5L804 342.3"/>
<path class="e" d="M803 265.5L803.8 267.5L804 268.2"/>
<path class="c" d="M803 243.2L804 244.8"/>
<path class="a" d="M804 220L804.4 257.5L805 258.1"/>
<path class="b" d="M804 265.3L805 270"/>
<path class="d" d="M804 342.3L805 341.7"/>
<path class="e" d="M804 268.2L805 270.8"/>
<path class="c" d="M804 244.8L805 246.2"/>
<path class="a" d="M805 258.1L805.6 258.8L806 257.2"/>
<path class="b" d="M805 270L806 276"/>
<path class="d" d="M805 341.7L805.6 341.2L806 342"/>
<path class="e" d="M805 270.8L805.6 272.5L806 274"/>
<path class="c" d="M805 246.2L806 248.2"/>
<path class="a" d="M806 257.2L807 253.2"/>
<path class="b" d="M806 276L806.2 277.5L807 282"/>
<path class="d" d="M806 342L807 344"/>
<path class="e" d="M806 274L807 278"/>
<path class="c" d="M806 248.2L806.9 250L807 251.2"/>
<path class="a" d="M807 253.2L807.5 251.2L808 249.6"/>
<path class="b" d="M807 282L807.5 285L808 293.1"/>
<path class="d" d="M807 344L807.5 345L808 347.1"/>
<path class="e" d="M807 278L807.5 280L808 280.2"/>
<path class="c" d="M807 251.2L808 261.3"/>
<path class="a" d="M808 249.6L809 246.3"/>
<path class="b" d="M808 293.1L808.1 295L809 297.3"/>
<path class="d" d="M808 347.1L809 351.2"/>
<path class="e" d="M808 280.2L809 280.8"/>
<path class="c" d="M808 261.3L808.1 262.5L809 276.2"/>
<path class="a" d="M809 246.3L809.4 245L810 242.5"/>
<path class="b" d="M809 297.3L810 300"/>
<path class="d" d="M809 351.2L810 357.2"/>
<path class="e" d="M809 280.8L810 281.2"/>
<path class="c" d="M809 276.2L810 282.5"/>
<path class="a" d="M810 242.5L811 238.5"/>
<path class="b" d="M810 300L811 298.7"/>
<path class="d" d="M810 357.2L810.2 358.8L811 356.2"/>
<path class="e" d="M810 281.2L811 278.2"/>
<path class="c" d="M810 282.5L811 281"/>
<path class="a" d="M811 238.5L811.2 237.5L812 237"/>
<path class="b" d="M811 298.7L811.9 297.5L812 297.7"/>
<path class="d" d="M811 356.2L811.9 353.1L812 353.5"/>
<path class="e" d="M811 278.2L812 275.2"/>
<path class="c" d="M811 281L812 279.5"/>
<path class="a" d="M812 237L813 236.3"/>
<path class="b" d="M812 297.7L813 299.2"/>
<path class="d" d="M812 353.5L813 357.1"/>
<path class="e" d="M812 275.2L812.5 273.8L813 272.1"/>
<path class="c" d="M812 279.5L812.5 278.8L813 278.2"/>
<path class="a" d="M813 236.3L813.1 236.2L814 238"/>
<path class="b" d="M813 299.2L814 300.7"/>
<path class="d" d="M813 357.1L813.1 357.5L814 365"/>
<path class="e" d="M813 272.1L814 268.8"/>
<path class="c" d="M813 278.2L814 277.2"/>
<path class="a" d="M814 238L815 240"/>
<path class="b" d="M814 300.7L814.4 301.2L815 301.1"/>
<path class="d" d="M814 365L815 360.4"/>
<path class="e" d="M814 268.8L814.4 267.5L815 265.8"/>
<path class="c" d="M814 277.2L815 276.2"/>
<path class="a" d="M815 240L816 243.3"/>
<path class="b" d="M815 301.1L816 300.8"/>
<path class="d" d="M815 360.4L815.6 357.5L816 357.4"/>
<path class="e" d="M815 265.8L816 263.2"/>
<path class="c" d="M815 276.2L816 275.4"/>
<path class="a" d="M816 243.3L816.9 246.2L817 246.6"/>
<path class="b" d="M816 300.8L816.9 300.6L817 300"/>
<path class="d" d="M816 357.4L817 357.2"/>
<path class="e" d="M816 263.2L816.2 262.5L817 263.6"/>
<path class="c" d="M816 275.4L817 274.6"/>
<path class="a" d="M817 246.6L818 249.2"/>
<path class="b" d="M817 300L818 294.4"/>
<path class="d" d="M817 357.2L818 356.9"/>
<path class="e" d="M817 263.6L818 265.1"/>
<path class="c" d="M817 274.6L818 273.8"/>
<path class="a" d="M818 249.2L818.8 251.2L819 248.8"/>
<path class="b" d="M818 294.4L818.1 293.8L819 285.9"/>
<path class="d" d="M818 356.9L818.1 356.9L819 352.8"/>
<path class="e" d="M818 265.1L818.8 266.2L819 264.2"/>
<path class="c" d="M818 273.8L818.1 273.8L819 265"/>
<path class="a" d="M819 248.8L820 238.8"/>
<path class="b" d="M819 285.9L819.4 282.5L820 276.2"/>
<path class="d" d="M819 352.8L820 348.1"/>
<path class="e" d="M819 264.2L820 256.2"/>
<path class="c" d="M819 265L819.4 261.2L820 256.2"/>
<path class="a" d="M820 238.8L821 227.8"/>
<path class="b" d="M820 276.2L820.6 270L821 262.5"/>
<path class="d" d="M820 348.1L821 346.6"/>
<path class="e" d="M820 256.2L820.6 251.2L821 252.8"/>
<path class="c" d="M820 256.2L820.6 251.2L821 249"/>
<path class="a" d="M821 227.8L821.2 225L821.9 219.4L822 219.3"/>
<path class="b" d="M821 262.5L821.2 257.5L822 255"/>
<path class="d" d="M821 346.6L822 345.1"/>
<path class="e" d="M821 252.8L822 256.8"/>
<path class="c" d="M821 249L821.9 243.8L822 244.2"/>
<path class="a" d="M822 219.3L823 218.9"/>
<path class="b" d="M822 255L823 251.7"/>
<path class="d" d="M822 345.1L822.5 344.4L823 343.8"/>
<path class="e" d="M822 256.8L822.5 258.8L823 259"/>
<path class="c" d="M822 244.2L823 248.2"/>
<path class="a" d="M823 218.9L824 218.5"/>
<path class="b" d="M823 251.7L823.1 251.2L824 252.1"/>
<path class="d" d="M823 343.8L824 342.5"/>
<path class="e" d="M823 259L824 259.5"/>
<path class="c" d="M823 248.2L823.8 251.2L824 252.8"/>
<path class="a" d="M824 218.5L825 218.1"/>
<path class="b" d="M824 252.1L825 253.1"/>
<path class="d" d="M824 342.5L825 341.2"/>
<path class="e" d="M824 259.5L825 260"/>
<path class="c" d="M824 252.8L825 258.8"/>
<path class="a" d="M825 218.1L826 217.9"/>
<path class="b" d="M825 253.1L825.6 253.8L826 254.4"/>
<path class="d" d="M825 341.2L826 340.7"/>
<path class="e" d="M825 260L826 267.5"/>
<path class="c" d="M825 258.8L826 258.8"/>
<path class="a" d="M826 217.9L827 217.6"/>
<path class="b" d="M826 254.4L827 256"/>
<path class="d" d="M826 340.7L827 340.1"/>
<path class="e" d="M826 267.5L826.2 269.4L827 268.8"/>
<path class="c" d="M826 258.8L827 258.8"/>
<path class="a" d="M827 217.6L827.5 217.5L828 215.5"/>
<path class="b" d="M827 256L827.5 256.9L828 256.1"/>
<path class="d" d="M827 340.1L828 339.5"/>
<path class="e" d="M827 268.8L828 268.1"/>
<path class="c" d="M827 258.8L828 258.8"/>
<path class="a" d="M828 215.5L828.8 212.5L829 211.5"/>
<path class="b" d="M828 256.1L829 254.6"/>
<path class="d" d="M828 339.5L828.1 339.4L829 338.9"/>
<path class="e" d="M828 268.1L828.8 267.5L829 266.8"/>
<path class="c" d="M828 258.8L828.1 258.8L829 259.1"/>
<path class="a" d="M829 211.5L830 207.5"/>
<path class="b" d="M829 254.6L830 253.1"/>
<path class="d" d="M829 338.9L830 338.4"/>
<path class="e" d="M829 266.8L830 264.1"/>
<path class="c" d="M829 259.1L830 259.5"/>
<path class="a" d="M830 207.5L830.6 205L831 202.7"/>
<path class="b" d="M830 253.1L831 251.6"/>
<path class="d" d="M830 338.4L830.6 338.1L831 336.6"/>
<path class="e" d="M830 264.1L831 261.3"/>
<path class="c" d="M830 259.5L831 259.9"/>
<path class="a" d="M831 202.7L831.9 197.5L832 196.4"/>
<path class="b" d="M831 251.6L832 250.1"/>
<path class="d" d="M831 336.6L831.9 333.1L832 332.8"/>
<path class="e" d="M831 261.3L831.2 260.6L832 262.1"/>
<path class="c" d="M831 259.9L831.2 260L832 259.4"/>
<path class="a" d="M832 196.4L833 187.3"/>
<path class="b" d="M832 250.1L832.5 249.4L833 248.7"/>
<path class="d" d="M832 332.8L833 330.1"/>
<path class="e" d="M832 262.1L833 264.1"/>
<path class="c" d="M832 259.4L833 258.6"/>
<path class="a" d="M833 187.3L833.1 186.2L834 178.1"/>
<path class="b" d="M833 248.7L834 247.4"/>
<path class="d" d="M833 330.1L833.8 328.1L834 327.8"/>
<path class="e" d="M833 264.1L833.8 265.6L834 265.8"/>
<path class="c" d="M833 258.6L834 257.8"/>
<path class="a" d="M834 178.1L835 181.6"/>
<path class="b" d="M834 247.4L834.4 246.9L835 250.3"/>
<path class="d" d="M834 327.8L835 326.6"/>
<path class="e" d="M834 265.8L835 266.6"/>
<path class="c" d="M834 257.8L834.4 257.5L835 258.7"/>
<path class="a" d="M835 181.6L835.6 183.8L836 186.8"/>
<path class="b" d="M835 250.3L835.6 253.8L836 255.3"/>
<path class="d" d="M835 326.6L836 325.3"/>
<path class="e" d="M835 266.6L836 267.3"/>
<path class="c" d="M835 258.7L836 260.7"/>
<path class="a" d="M836 186.8L836.9 193.8L837 193.8"/>
<path class="b" d="M836 255.3L837 259.3"/>
<path class="d" d="M836 325.3L836.2 325L837 326.3"/>
<path class="e" d="M836 267.3L836.2 267.5L837 267.1"/>
<path class="c" d="M836 260.7L836.2 261.2L837 263"/>
<path class="a" d="M837 193.8L838 193.8"/>
<path class="b" d="M837 259.3L837.5 261.2L838 261"/>
<path class="d" d="M837 326.3L838 327.9"/>
<path class="e" d="M837 267.1L838 266.6"/>
<path class="c" d="M837 263L838 265.3"/>
<path class="a" d="M838 193.8L839 193.8"/>
<path class="b" d="M838 261L839 260.5"/>
<path class="d" d="M838 327.9L838.1 328.1L839 327.4"/>
<path class="e" d="M838 266.6L838.8 266.2L839 265.2"/>
<path class="c" d="M838 265.3L838.1 265.6L839 263"/>
<path class="a" d="M839 193.8L839.4 193.8L840 190.8"/>
<path class="b" d="M839 260.5L840 260"/>
<path class="d" d="M839 327.4L840 326.6"/>
<path class="e" d="M839 265.2L840 261.2"/>
<path class="c" d="M839 263L840 260"/>
<path class="a" d="M840 190.8L841 186.2"/>
<path class="b" d="M840 260L841 261.2"/>
<path class="d" d="M840 326.6L841 325.8"/>
<path class="e" d="M840 261.2L840.6 258.8L841 258.6"/>
<path class="c" d="M840 260L841 257"/>
<path class="a" d="M841 186.2L841.2 185L842 181"/>
<path class="b" d="M841 261.2L842 262.5"/>
<path class="d" d="M841 325.8L841.2 325.6L842 325.2"/>
<path class="e" d="M841 258.6L842 258.1"/>
<path class="c" d="M841 257L841.9 254.4L842 254"/>
<path class="a" d="M842 181L843 175.6"/>
<path class="b" d="M842 262.5L842.5 263.1L843 263.5"/>
<path class="d" d="M842 325.2L843 324.8"/>
<path class="e" d="M842 258.1L843 257.6"/>
<path class="c" d="M842 254L843 250.6"/>
<path class="a" d="M843 175.6L843.1 175L844 171.9"/>
<path class="b" d="M843 263.5L844 264.2"/>
<path class="d" d="M843 324.8L843.8 324.4L844 324.3"/>
<path class="e" d="M843 257.6L843.1 257.5L844 256.9"/>
<path class="c" d="M843 250.6L843.8 248.1L844 248.5"/>
<path class="a" d="M844 171.9L844.4 170.6L845 173.4"/>
<path class="b" d="M844 264.2L845 265"/>
<path class="d" d="M844 324.3L845 323.8"/>
<path class="e" d="M844 256.9L845 256.2"/>
<path class="c" d="M844 248.5L845 250"/>
<path class="a" d="M845 173.4L845.6 176.2L846 178"/>
<path class="b" d="M845 265L846 268.3"/>
<path class="d" d="M845 323.8L846 323.2"/>
<path class="e" d="M845 256.2L846 255.2"/>
<path class="c" d="M845 250L846 257"/>
<path class="a" d="M846 178L847 182.7"/>
<path class="b" d="M846 268.3L846.9 271.2L847 271.4"/>
<path class="d" d="M846 323.2L846.2 323.1L847 324.9"/>
<path class="e" d="M846 255.2L847 254.2"/>
<path class="c" d="M846 257L846.2 258.8L847 264.4"/>
<path class="a" d="M847 182.7L847.5 185L848 187.3"/>
<path class="b" d="M847 271.4L848 272.4"/>
<path class="d" d="M847 324.9L848 327.2"/>
<path class="e" d="M847 254.2L847.5 253.8L848 255.2"/>
<path class="c" d="M847 264.4L847.5 268.1L848 268"/>
<path class="a" d="M848 187.3L849 192"/>
<path class="b" d="M848 272.4L848.1 272.5L849 269.6"/>
<path class="d" d="M848 327.2L848.1 327.5L849 327.5"/>
<path class="e" d="M848 255.2L849 258.2"/>
<path class="c" d="M848 268L849 267.7"/>
<path class="a" d="M849 192L849.4 193.8L850 198.8"/>
<path class="b" d="M849 269.6L850 266.2"/>
<path class="d" d="M849 327.5L850 327.5"/>
<path class="e" d="M849 258.2L850 261.2"/>
<path class="c" d="M849 267.7L850 267.5"/>
<path class="a" d="M850 198.8L850.6 203.8L851 203.9"/>
<path class="b" d="M850 266.2L851 258.2"/>
<path class="d" d="M850 327.5L850.6 327.5L851 327"/>
<path class="e" d="M850 261.2L851 262.8"/>
<path class="c" d="M850 267.5L851 266"/>
<path class="a" d="M851 203.9L852 204.2"/>
<path class="b" d="M851 258.2L851.2 256.2L852 254"/>
<path class="d" d="M851 327L852 325.8"/>
<path class="e" d="M851 262.8L852 264.2"/>
<path class="c" d="M851 266L852 264.5"/>
<path class="a" d="M852 204.2L852.5 204.4L853 201.9"/>
<path class="b" d="M852 254L853 251"/>
<path class="d" d="M852 325.8L853 324.5"/>
<path class="e" d="M852 264.2L852.5 265L853 264.8"/>
<path class="c" d="M852 264.5L852.5 263.8L853 262.8"/>
<path class="a" d="M853 201.9L854 196.9"/>
<path class="b" d="M853 251L853.1 250.6L854 250.1"/>
<path class="d" d="M853 324.5L853.1 324.4L854 323.5"/>
<path class="e" d="M853 264.8L854 264.2"/>
<path class="c" d="M853 262.8L854 260.8"/>
<path class="a" d="M854 196.9L854.4 195L855 191.3"/>
<path class="b" d="M854 250.1L855 249.5"/>
<path class="d" d="M854 323.5L855 322.5"/>
<path class="e" d="M854 264.2L855 263.8"/>
<path class="c" d="M854 260.8L855 258.8"/>
<path class="a" d="M855 191.3L856 185.3"/>
<path class="b" d="M855 249.5L856 248.9"/>
<path class="d" d="M855 322.5L856 324.2"/>
<path class="e" d="M855 263.8L856 264.2"/>
<path class="c" d="M855 258.8L856 257.8"/>
<path class="a" d="M856 185.3L856.2 183.8L857 187.8"/>
<path class="b" d="M856 248.9L856.2 248.8L857 251.8"/>
<path class="d" d="M856 324.2L856.9 325.6L857 325.6"/>
<path class="e" d="M856 264.2L857 264.8"/>
<path class="c" d="M856 257.8L856.9 256.9L857 257.2"/>
<path class="a" d="M857 187.8L858 193.1"/>
<path class="b" d="M857 251.8L858 255.8"/>
<path class="d" d="M857 325.6L858 325.6"/>
<path class="e" d="M857 264.8L857.5 265L858 264.8"/>
<path class="c" d="M857 257.2L858 259.5"/>
<path class="a" d="M858 193.1L858.1 193.8L859 185.9"/>
<path class="b" d="M858 255.8L858.1 256.2L859 248.4"/>
<path class="d" d="M858 325.6L858.8 325.6L859 307.5"/>
<path class="e" d="M858 264.8L859 264.5"/>
<path class="c" d="M858 259.5L858.8 261.2L859 254.8"/>
<path class="a" d="M859 185.9L859.4 182.5L860 166.2"/>
<path class="b" d="M859 248.4L859.4 245L859.8 232.5L860 212.5"/>
<path class="d" d="M859 307.5L859.5 285L859.9 245L860 235.6"/>
<path class="e" d="M859 264.5L859.4 264.4L860 257.5"/>
<path class="c" d="M859 254.8L859.4 245L860 226.2"/>
<path class="a" d="M860 166.2L861 168.6"/>
<path class="b" d="M860 212.5L861 210.5"/>
<path class="d" d="M860 235.6L860.1 226.2L861 223.3"/>
<path class="e" d="M860 257.5L861 250"/>
<path class="c" d="M860 226.2L861 223.2"/>
<path class="a" d="M861 168.6L861.9 170.6L862 169.8"/>
<path class="b" d="M861 210.5L862 208.5"/>
<path class="d" d="M861 223.3L861.2 222.5L862 221.9"/>
<path class="e" d="M861 250L861.2 248.1L862 247.4"/>
<path class="c" d="M861 223.2L861.2 222.5L862 221.9"/>
<path class="a" d="M862 169.8L863 163.3"/>
<path class="b" d="M862 208.5L862.5 207.5L863 205.5"/>
<path class="d" d="M862 221.9L863 221.2"/>
<path class="e" d="M862 247.4L862.5 246.9L863 247.9"/>
<path class="c" d="M862 221.9L863 221.2"/>
<path class="a" d="M863 163.3L863.1 162.5L863.8 152.5L864 150"/>
<path class="b" d="M863 205.5L863.8 202.5L864 200.5"/>
<path class="d" d="M863 221.2L863.8 220.6L864 219.2"/>
<path class="e" d="M863 247.9L864 249.9"/>
<path class="c" d="M863 221.2L863.8 220.6L864 219"/>
<path class="a" d="M864 150L865 140"/>
<path class="b" d="M864 200.5L865 192.5"/>
<path class="d" d="M864 219.2L865 213.5"/>
<path class="e" d="M864 249.9L864.4 250.6L865 250.4"/>
<path class="c" d="M864 219L865 212.5"/>
<path class="a" d="M865 140L866 128"/>
<path class="b" d="M865 192.5L866 180.6"/>
<path class="d" d="M865 213.5L866 212.5"/>
<path class="e" d="M865 250.4L866 250.1"/>
<path class="c" d="M865 212.5L865.6 206.2L866 199.8"/>
<path class="a" d="M866 128L866.2 125"/>
<path class="d" d="M866 212.5L866.2 212.2"/>
<path class="e" d="M866 250.1L866.2 250"/>
<path class="c" d="M866 199.8L866.2 195.6"/>
</g>
<g font-family="'Liberation Sans', Arial, sans-serif" font-size="12" fill="#000">
<text x="34.8" y="20" text-anchor="end" letter-spacing="0.25">50%</text>
<text x="34.8" y="81" text-anchor="end" letter-spacing="0.25">40%</text>
<text x="34.8" y="141" text-anchor="end" letter-spacing="0.25">30%</text>
<text x="34.8" y="202" text-anchor="end" letter-spacing="0.25">20%</text>
<text x="34.8" y="262" text-anchor="end" letter-spacing="0.25">10%</text>
<text x="34.8" y="322" text-anchor="end" letter-spacing="0.25">0%</text>
<text x="34.8" y="383" text-anchor="end" letter-spacing="0.25">-10%</text>
<text x="40.3" y="394" text-anchor="middle">Aug '13</text>
<text x="95.3" y="394" text-anchor="middle">Dec</text>
<text x="149.3" y="394" text-anchor="middle">Apr '14</text>
<text x="205.3" y="394" text-anchor="middle">Aug</text>
<text x="259.3" y="394" text-anchor="middle">Dec</text>
<text x="315.3" y="394" text-anchor="middle">Apr '15</text>
<text x="370.3" y="394" text-anchor="middle">Aug</text>
<text x="425.3" y="394" text-anchor="middle">Dec</text>
<text x="481.3" y="394" text-anchor="middle">Apr '16</text>
<text x="535.3" y="394" text-anchor="middle">Aug</text>
<text x="591.3" y="394" text-anchor="middle">Dec</text>
<text x="646.3" y="394" text-anchor="middle">Apr '17</text>
<text x="700.3" y="394" text-anchor="middle">Aug</text>
<text x="756.3" y="394" text-anchor="middle">Dec</text>
<text x="811.3" y="394" text-anchor="middle">Apr '18</text>
<text x="869.3" y="130" font-weight="bold">A</text>
<text x="869.3" y="186" font-weight="bold">B</text>
<text x="869.3" y="200" font-weight="bold">C</text>
<text x="869.3" y="218" font-weight="bold">D</text>
<text x="869.3" y="254" font-weight="bold">E</text>
</g>
</svg>
<div class="sq" style="top:414px;background:#2b4fa8"></div>
<div class="lt" id="lA" style="top:412px;letter-spacing:0.008px">A - 3i Investments - 3I Infrastructure Plc Ord NPV in GB [32.03%]</div>
<div class="sq" style="top:430px;background:#3f7320"></div>
<div class="lt" id="lB" style="top:428px;letter-spacing:0.065px">B - InfraRed Capital Partners - HICL Infrastructure in GB [22.95%]</div>
<div class="sq" style="top:446px;background:#a81016"></div>
<div class="lt" id="lC" style="top:444px;letter-spacing:0.075px">C - Amber Infrastructure Group - International Public Prtnrship Ltd in GB [20.44%]</div>
<div class="sq" style="top:462px;background:#2e9a8c"></div>
<div class="lt" id="lD" style="top:460px;letter-spacing:0.083px">D - John Laing Capital Management - John Laing Infrastructure Ord 0.01P in GB [17.56%]</div>
<div class="sq" style="top:478px;background:#dc5a2e"></div>
<div class="lt" id="lE" style="top:476px;letter-spacing:0.067px">E - Gravis Capital Management - GCP Infrastructure Investments Ld Ord 1P in GB [11.45%]</div>
<div class="ft" id="ft">31/07/2013 - 31/07/2018 Data from FE 2018</div>
</body>
</html>
